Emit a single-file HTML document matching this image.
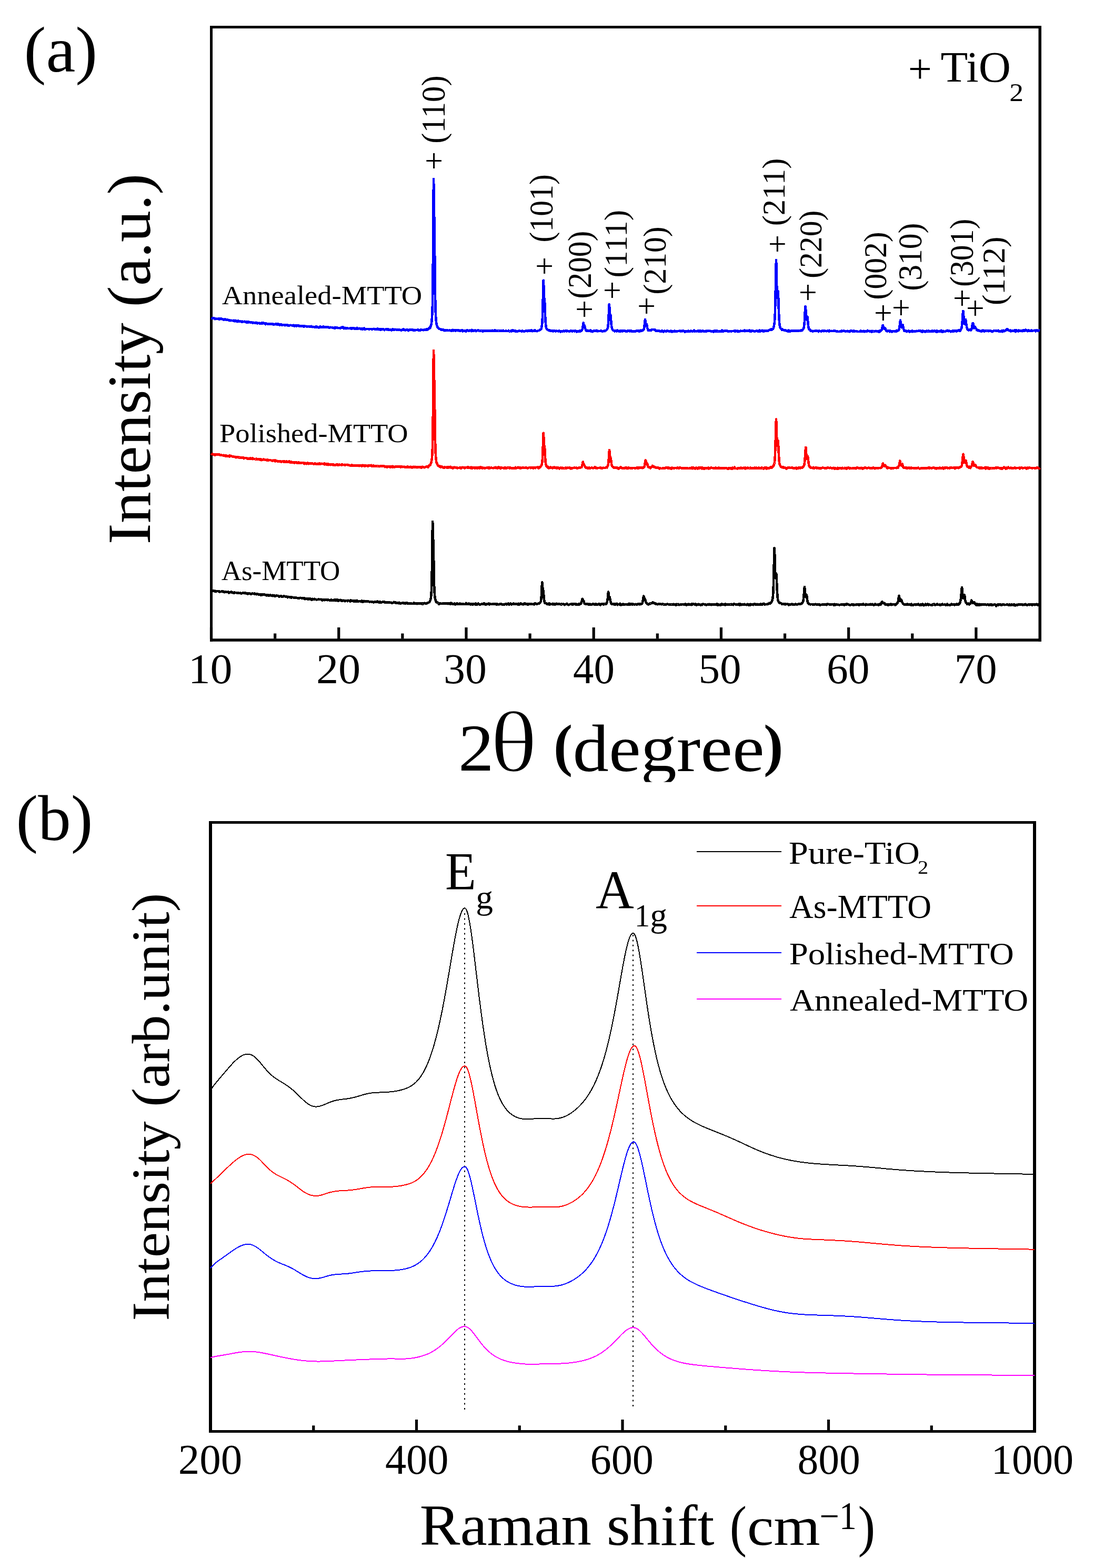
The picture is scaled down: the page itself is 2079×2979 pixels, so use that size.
<!DOCTYPE html>
<html><head><meta charset="utf-8"><title>XRD and Raman spectra</title>
<style>html,body{margin:0;padding:0;background:#fff;}svg{display:block;}text{font-family:"Liberation Serif", "DejaVu Serif", serif;}</style></head>
<body>
<svg width="2079" height="2979" viewBox="0 0 2079 2979">
<defs><clipPath id="clipA"><rect x="0" y="1300" width="2079" height="185.8"/></clipPath></defs>
<rect width="2079" height="2979" fill="#fff"/>
<rect x="399.00" y="49.00" width="5.00" height="1170.00" fill="#000"/>
<rect x="1973.50" y="49.00" width="5.50" height="1170.00" fill="#000"/>
<rect x="399.00" y="49.00" width="1580.00" height="5.00" fill="#000"/>
<rect x="399.00" y="1213.30" width="1580.00" height="5.50" fill="#000"/>
<rect x="398.90" y="1192.00" width="5.20" height="22.00" fill="#000"/>
<rect x="520.02" y="1203.50" width="5.20" height="10.00" fill="#000"/>
<rect x="641.13" y="1192.00" width="5.20" height="22.00" fill="#000"/>
<rect x="762.25" y="1203.50" width="5.20" height="10.00" fill="#000"/>
<rect x="883.36" y="1192.00" width="5.20" height="22.00" fill="#000"/>
<rect x="1004.48" y="1203.50" width="5.20" height="10.00" fill="#000"/>
<rect x="1125.59" y="1192.00" width="5.20" height="22.00" fill="#000"/>
<rect x="1246.71" y="1203.50" width="5.20" height="10.00" fill="#000"/>
<rect x="1367.82" y="1192.00" width="5.20" height="22.00" fill="#000"/>
<rect x="1488.94" y="1203.50" width="5.20" height="10.00" fill="#000"/>
<rect x="1610.05" y="1192.00" width="5.20" height="22.00" fill="#000"/>
<rect x="1731.17" y="1203.50" width="5.20" height="10.00" fill="#000"/>
<rect x="1852.28" y="1192.00" width="5.20" height="22.00" fill="#000"/>
<text x="357.66" y="1297.60" font-size="79.85" textLength="83.89" lengthAdjust="spacingAndGlyphs" fill="#000">10</text>
<text x="600.90" y="1297.60" font-size="79.85" textLength="84.36" lengthAdjust="spacingAndGlyphs" fill="#000">20</text>
<text x="843.01" y="1297.60" font-size="79.85" textLength="81.86" lengthAdjust="spacingAndGlyphs" fill="#000">30</text>
<text x="1088.92" y="1297.60" font-size="79.85" textLength="78.94" lengthAdjust="spacingAndGlyphs" fill="#000">40</text>
<text x="1327.54" y="1297.60" font-size="79.85" textLength="81.10" lengthAdjust="spacingAndGlyphs" fill="#000">50</text>
<text x="1570.94" y="1297.60" font-size="79.85" textLength="81.41" lengthAdjust="spacingAndGlyphs" fill="#000">60</text>
<text x="1813.86" y="1297.60" font-size="79.85" textLength="80.67" lengthAdjust="spacingAndGlyphs" fill="#000">70</text>
<text x="45.54" y="135.50" font-size="123.74" textLength="139.59" lengthAdjust="spacingAndGlyphs" fill="#000">(a)</text>
<text x="1725.70" y="156.93" font-size="78.28" textLength="45.12" lengthAdjust="spacingAndGlyphs" fill="#000">+</text>
<text x="1787.52" y="155.20" font-size="82.14" textLength="133.44" lengthAdjust="spacingAndGlyphs" fill="#000">TiO</text>
<text x="1918.19" y="192.30" font-size="48.75" textLength="26.75" lengthAdjust="spacingAndGlyphs" fill="#000">2</text>
<g clip-path="url(#clipA)">
<text x="871.12" y="1464.30" font-size="126.19" textLength="67.50" lengthAdjust="spacingAndGlyphs" fill="#000">2</text>
<text x="931.52" y="1465.36" font-size="163.66" textLength="89.54" lengthAdjust="spacingAndGlyphs" fill="#000" stroke="#fff" stroke-width="2.6">θ</text>
<text x="1052.11" y="1452.81" font-size="110.52" textLength="36.17" lengthAdjust="spacingAndGlyphs" fill="#000" font-weight="bold">(</text>
<text x="1088.62" y="1465.00" font-size="126.62" textLength="364.01" lengthAdjust="spacingAndGlyphs" fill="#000">degree</text>
<text x="1451.14" y="1453.12" font-size="110.96" textLength="37.50" lengthAdjust="spacingAndGlyphs" fill="#000" font-weight="bold">)</text>
</g>
<text transform="translate(285.00 0) rotate(-90)" x="-1034.21" y="0" font-size="116.03" textLength="704.46" lengthAdjust="spacingAndGlyphs" fill="#000">Intensity (a.u.)</text>
<text x="421.76" y="578.20" font-size="50.50" textLength="380.34" lengthAdjust="spacingAndGlyphs" fill="#000">Annealed-MTTO</text>
<text x="417.07" y="839.90" font-size="50.22" textLength="358.57" lengthAdjust="spacingAndGlyphs" fill="#000">Polished-MTTO</text>
<text x="420.67" y="1102.40" font-size="52.68" textLength="225.75" lengthAdjust="spacingAndGlyphs" fill="#000">As-MTTO</text>
<text transform="translate(845.26 0) rotate(-90)" x="-272.74" y="0" font-size="63.70" textLength="129.40" lengthAdjust="spacingAndGlyphs" fill="#000">(110)</text>
<text transform="translate(1050.16 0) rotate(-90)" x="-460.39" y="0" font-size="63.70" textLength="129.28" lengthAdjust="spacingAndGlyphs" fill="#000">(101)</text>
<text transform="translate(1123.07 0) rotate(-90)" x="-567.48" y="0" font-size="62.96" textLength="128.87" lengthAdjust="spacingAndGlyphs" fill="#000">(200)</text>
<text transform="translate(1191.08 0) rotate(-90)" x="-527.57" y="0" font-size="61.93" textLength="128.95" lengthAdjust="spacingAndGlyphs" fill="#000">(111)</text>
<text transform="translate(1265.38 0) rotate(-90)" x="-559.38" y="0" font-size="61.93" textLength="128.87" lengthAdjust="spacingAndGlyphs" fill="#000">(210)</text>
<text transform="translate(1491.29 0) rotate(-90)" x="-429.32" y="0" font-size="61.48" textLength="128.78" lengthAdjust="spacingAndGlyphs" fill="#000">(211)</text>
<text transform="translate(1561.08 0) rotate(-90)" x="-528.78" y="0" font-size="61.63" textLength="129.07" lengthAdjust="spacingAndGlyphs" fill="#000">(220)</text>
<text transform="translate(1684.28 0) rotate(-90)" x="-569.38" y="0" font-size="61.93" textLength="128.87" lengthAdjust="spacingAndGlyphs" fill="#000">(002)</text>
<text transform="translate(1751.07 0) rotate(-90)" x="-552.48" y="0" font-size="62.81" textLength="128.87" lengthAdjust="spacingAndGlyphs" fill="#000">(310)</text>
<text transform="translate(1848.67 0) rotate(-90)" x="-544.99" y="0" font-size="62.96" textLength="129.49" lengthAdjust="spacingAndGlyphs" fill="#000">(301)</text>
<text transform="translate(1909.18 0) rotate(-90)" x="-580.06" y="0" font-size="61.93" textLength="130.34" lengthAdjust="spacingAndGlyphs" fill="#000">(112)</text>
<text x="807.23" y="326.35" font-size="61.50">+</text>
<text x="1017.23" y="526.15" font-size="61.50">+</text>
<text x="1093.23" y="608.35" font-size="61.50">+</text>
<text x="1146.03" y="572.45" font-size="61.50">+</text>
<text x="1211.23" y="602.45" font-size="61.50">+</text>
<text x="1459.93" y="484.45" font-size="61.50">+</text>
<text x="1517.93" y="576.45" font-size="61.50">+</text>
<text x="1661.03" y="615.25" font-size="61.50">+</text>
<text x="1695.03" y="604.65" font-size="61.50">+</text>
<text x="1811.03" y="587.45" font-size="61.50">+</text>
<text x="1836.03" y="606.45" font-size="61.50">+</text>
<path d="M401.5 604.5L402.0 604.6L402.5 604.8L403.0 604.7L403.5 604.6L404.0 604.5L404.5 604.3L405.0 604.5L405.5 604.7L406.0 604.6L406.5 604.5L407.0 604.9L407.5 605.3L408.0 605.7L408.5 606.2L409.0 605.7L409.5 605.2L410.0 605.2L410.5 605.2L411.0 605.6L411.5 606.0L412.0 606.0L412.5 606.1L413.0 606.0L413.5 606.0L414.0 605.8L414.5 605.5L415.0 605.9L415.5 606.2L416.0 606.5L416.5 606.7L417.0 606.2L417.5 605.6L418.0 606.0L418.5 606.3L419.0 605.9L419.5 605.5L420.0 605.8L420.5 606.0L421.0 605.9L421.5 605.8L422.0 606.3L422.5 606.9L423.0 606.6L423.5 606.4L424.0 606.9L424.5 607.4L425.0 607.4L425.5 607.5L426.0 607.4L426.5 607.4L427.0 606.7L427.5 606.1L428.0 606.7L428.5 607.4L429.0 607.6L429.5 607.8L430.0 607.9L430.5 608.0L431.0 607.6L431.5 607.1L432.0 607.5L432.5 607.9L433.0 607.8L433.5 607.7L434.0 607.8L434.5 607.9L435.0 608.5L435.5 609.1L436.0 608.6L436.5 608.1L437.0 608.4L437.5 608.7L438.0 609.0L438.5 609.3L439.0 608.9L439.5 608.6L440.0 608.8L440.5 608.9L441.0 609.1L441.5 609.2L442.0 609.2L442.5 609.3L443.0 608.9L443.5 608.6L444.0 609.0L444.5 609.5L445.0 609.9L445.5 610.4L446.0 609.5L446.5 608.7L447.0 609.5L447.5 610.3L448.0 610.1L448.5 609.9L449.0 609.7L449.5 609.6L450.0 610.4L450.5 611.2L451.0 610.9L451.5 610.6L452.0 610.1L452.5 609.5L453.0 610.0L453.5 610.4L454.0 610.6L454.5 610.8L455.0 610.6L455.5 610.4L456.0 610.7L456.5 611.1L457.0 610.9L457.5 610.7L458.0 611.0L458.5 611.2L459.0 611.5L459.5 611.8L460.0 611.2L460.5 610.6L461.0 610.9L461.5 611.3L462.0 611.1L462.5 610.9L463.0 611.2L463.5 611.4L464.0 611.1L464.5 610.7L465.0 610.9L465.5 611.2L466.0 611.3L466.5 611.5L467.0 611.9L467.5 612.2L468.0 612.4L468.5 612.5L469.0 611.8L469.5 611.1L470.0 611.3L470.5 611.5L471.0 612.0L471.5 612.5L472.0 611.7L472.5 611.0L473.0 611.5L473.5 612.0L474.0 612.1L474.5 612.3L475.0 612.7L475.5 613.2L476.0 613.1L476.5 612.9L477.0 612.7L477.5 612.4L478.0 612.5L478.5 612.5L479.0 612.6L479.5 612.6L480.0 613.2L480.5 613.8L481.0 613.3L481.5 612.7L482.0 612.8L482.5 612.9L483.0 613.1L483.5 613.4L484.0 613.3L484.5 613.2L485.0 613.2L485.5 613.2L486.0 613.0L486.5 612.7L487.0 613.1L487.5 613.5L488.0 613.4L488.5 613.3L489.0 613.8L489.5 614.4L490.0 614.2L490.5 614.1L491.0 614.0L491.5 613.8L492.0 614.1L492.5 614.3L493.0 614.0L493.5 613.8L494.0 614.2L494.5 614.7L495.0 614.4L495.5 614.1L496.0 614.4L496.5 614.6L497.0 614.1L497.5 613.5L498.0 614.1L498.5 614.6L499.0 614.0L499.5 613.4L500.0 613.4L500.5 613.3L501.0 613.9L501.5 614.4L502.0 614.3L502.5 614.1L503.0 614.5L503.5 614.9L504.0 615.5L504.5 616.2L505.0 615.3L505.5 614.4L506.0 614.5L506.5 614.6L507.0 614.9L507.5 615.2L508.0 615.3L508.5 615.4L509.0 615.3L509.5 615.1L510.0 615.1L510.5 615.2L511.0 615.5L511.5 615.8L512.0 615.8L512.5 615.8L513.0 615.3L513.5 614.9L514.0 615.2L514.5 615.5L515.0 615.6L515.5 615.7L516.0 615.4L516.5 615.1L517.0 615.5L517.5 616.0L518.0 615.7L518.5 615.4L519.0 616.0L519.5 616.5L520.0 616.3L520.5 616.1L521.0 616.2L521.5 616.2L522.0 616.0L522.5 615.8L523.0 616.0L523.5 616.2L524.0 615.7L524.5 615.1L525.0 615.4L525.5 615.7L526.0 616.2L526.5 616.7L527.0 616.0L527.5 615.3L528.0 616.2L528.5 617.1L529.0 616.4L529.5 615.6L530.0 616.4L530.5 617.2L531.0 616.8L531.5 616.3L532.0 616.8L532.5 617.4L533.0 617.2L533.5 617.0L534.0 616.6L534.5 616.1L535.0 617.0L535.5 617.9L536.0 617.9L536.5 618.0L537.0 617.6L537.5 617.2L538.0 617.2L538.5 617.1L539.0 617.2L539.5 617.3L540.0 617.1L540.5 616.9L541.0 617.5L541.5 618.2L542.0 617.7L542.5 617.3L543.0 617.4L543.5 617.6L544.0 617.4L544.5 617.2L545.0 617.3L545.5 617.4L546.0 617.2L546.5 617.1L547.0 617.9L547.5 618.7L548.0 618.3L548.5 617.9L549.0 618.3L549.5 618.6L550.0 618.4L550.5 618.1L551.0 617.9L551.5 617.8L552.0 617.9L552.5 618.1L553.0 618.0L553.5 618.0L554.0 618.2L554.5 618.4L555.0 618.3L555.5 618.2L556.0 618.3L556.5 618.3L557.0 618.0L557.5 617.7L558.0 617.9L558.5 618.2L559.0 618.9L559.5 619.7L560.0 619.0L560.5 618.4L561.0 618.3L561.5 618.2L562.0 618.6L562.5 619.1L563.0 619.4L563.5 619.8L564.0 619.0L564.5 618.1L565.0 618.5L565.5 618.9L566.0 618.9L566.5 618.8L567.0 618.4L567.5 618.1L568.0 618.9L568.5 619.7L569.0 619.5L569.5 619.3L570.0 619.4L570.5 619.4L571.0 619.2L571.5 619.0L572.0 619.4L572.5 619.8L573.0 619.5L573.5 619.2L574.0 619.4L574.5 619.5L575.0 619.3L575.5 619.0L576.0 619.0L576.5 619.0L577.0 619.8L577.5 620.6L578.0 620.1L578.5 619.5L579.0 619.8L579.5 620.1L580.0 620.0L580.5 619.9L581.0 619.8L581.5 619.7L582.0 619.8L582.5 619.8L583.0 620.1L583.5 620.5L584.0 620.3L584.5 620.0L585.0 620.1L585.5 620.1L586.0 620.2L586.5 620.3L587.0 620.7L587.5 621.1L588.0 620.9L588.5 620.8L589.0 620.7L589.5 620.7L590.0 620.4L590.5 620.2L591.0 619.9L591.5 619.7L592.0 620.5L592.5 621.2L593.0 621.2L593.5 621.2L594.0 620.9L594.5 620.6L595.0 620.9L595.5 621.1L596.0 621.2L596.5 621.3L597.0 621.3L597.5 621.4L598.0 621.4L598.5 621.5L599.0 621.1L599.5 620.7L600.0 621.3L600.5 621.9L601.0 621.1L601.5 620.3L602.0 621.0L602.5 621.6L603.0 621.5L603.5 621.5L604.0 621.6L604.5 621.7L605.0 622.1L605.5 622.4L606.0 622.3L606.5 622.2L607.0 621.4L607.5 620.7L608.0 620.5L608.5 620.4L609.0 621.2L609.5 621.9L610.0 621.4L610.5 620.9L611.0 621.2L611.5 621.5L612.0 621.8L612.5 622.1L613.0 621.4L613.5 620.7L614.0 620.5L614.5 620.4L615.0 621.2L615.5 621.9L616.0 621.8L616.5 621.8L617.0 621.7L617.5 621.7L618.0 621.8L618.5 621.9L619.0 621.7L619.5 621.4L620.0 621.2L620.5 621.1L621.0 621.5L621.5 621.9L622.0 621.7L622.5 621.5L623.0 621.3L623.5 621.1L624.0 621.8L624.5 622.4L625.0 622.3L625.5 622.2L626.0 622.3L626.5 622.5L627.0 622.1L627.5 621.7L628.0 621.8L628.5 621.9L629.0 621.8L629.5 621.8L630.0 621.8L630.5 621.9L631.0 622.2L631.5 622.6L632.0 622.3L632.5 622.0L633.0 622.4L633.5 622.8L634.0 622.8L634.5 622.8L635.0 623.3L635.5 623.8L636.0 622.8L636.5 621.8L637.0 622.5L637.5 623.2L638.0 623.0L638.5 622.7L639.0 622.7L639.5 622.8L640.0 622.4L640.5 622.0L641.0 622.3L641.5 622.6L642.0 623.0L642.5 623.4L643.0 623.1L643.5 622.9L644.0 623.0L644.5 623.0L645.0 623.0L645.5 622.9L646.0 623.3L646.5 623.8L647.0 623.4L647.5 623.1L648.0 622.5L648.5 621.8L649.0 622.3L649.5 622.8L650.0 622.4L650.5 622.1L651.0 621.7L651.5 621.3L652.0 622.2L652.5 623.0L653.0 623.6L653.5 624.2L654.0 623.8L654.5 623.4L655.0 623.1L655.5 622.7L656.0 622.8L656.5 622.9L657.0 623.6L657.5 624.2L658.0 623.9L658.5 623.6L659.0 623.6L659.5 623.6L660.0 623.6L660.5 623.6L661.0 623.6L661.5 623.7L662.0 623.9L662.5 624.2L663.0 624.1L663.5 624.1L664.0 624.0L664.5 623.9L665.0 623.6L665.5 623.2L666.0 623.7L666.5 624.2L667.0 623.8L667.5 623.5L668.0 624.0L668.5 624.6L669.0 623.9L669.5 623.2L670.0 623.6L670.5 623.9L671.0 624.0L671.5 624.0L672.0 623.7L672.5 623.3L673.0 624.2L673.5 625.1L674.0 625.1L674.5 625.0L675.0 624.5L675.5 623.9L676.0 624.3L676.5 624.7L677.0 624.6L677.5 624.5L678.0 623.6L678.5 622.7L679.0 623.6L679.5 624.5L680.0 624.4L680.5 624.3L681.0 624.4L681.5 624.4L682.0 624.1L682.5 623.8L683.0 624.0L683.5 624.3L684.0 624.3L684.5 624.4L685.0 624.8L685.5 625.2L686.0 625.0L686.5 624.8L687.0 624.7L687.5 624.6L688.0 625.1L688.5 625.5L689.0 624.9L689.5 624.3L690.0 624.4L690.5 624.4L691.0 624.0L691.5 623.6L692.0 624.7L692.5 625.7L693.0 625.5L693.5 625.4L694.0 625.4L694.5 625.4L695.0 625.3L695.5 625.2L696.0 625.1L696.5 624.9L697.0 625.0L697.5 625.0L698.0 624.9L698.5 624.8L699.0 624.8L699.5 624.8L700.0 624.9L700.5 625.0L701.0 625.5L701.5 625.9L702.0 625.7L702.5 625.4L703.0 625.2L703.5 625.0L704.0 624.9L704.5 624.8L705.0 624.8L705.5 624.8L706.0 625.5L706.5 626.1L707.0 625.8L707.5 625.5L708.0 625.4L708.5 625.3L709.0 625.2L709.5 625.1L710.0 624.8L710.5 624.6L711.0 625.0L711.5 625.3L712.0 625.6L712.5 625.9L713.0 625.5L713.5 625.2L714.0 625.2L714.5 625.3L715.0 625.3L715.5 625.3L716.0 625.4L716.5 625.5L717.0 625.0L717.5 624.5L718.0 625.0L718.5 625.4L719.0 625.2L719.5 625.1L720.0 625.6L720.5 626.1L721.0 625.6L721.5 625.2L722.0 625.6L722.5 626.0L723.0 626.3L723.5 626.6L724.0 626.1L724.5 625.5L725.0 625.4L725.5 625.4L726.0 625.6L726.5 625.9L727.0 625.8L727.5 625.8L728.0 625.5L728.5 625.2L729.0 625.7L729.5 626.1L730.0 626.6L730.5 627.1L731.0 626.4L731.5 625.8L732.0 625.8L732.5 625.8L733.0 625.6L733.5 625.3L734.0 625.8L734.5 626.2L735.0 625.7L735.5 625.3L736.0 625.3L736.5 625.4L737.0 626.1L737.5 626.8L738.0 626.2L738.5 625.6L739.0 626.2L739.5 626.8L740.0 626.9L740.5 627.1L741.0 626.7L741.5 626.3L742.0 626.4L742.5 626.5L743.0 627.0L743.5 627.4L744.0 626.8L744.5 626.1L745.0 626.0L745.5 625.9L746.0 625.7L746.5 625.5L747.0 625.9L747.5 626.4L748.0 626.8L748.5 627.2L749.0 627.1L749.5 627.0L750.0 626.4L750.5 625.8L751.0 625.9L751.5 625.9L752.0 626.0L752.5 626.2L753.0 626.4L753.5 626.7L754.0 626.5L754.5 626.4L755.0 626.5L755.5 626.7L756.0 626.7L756.5 626.7L757.0 626.6L757.5 626.4L758.0 626.5L758.5 626.6L759.0 626.7L759.5 626.7L760.0 626.7L760.5 626.6L761.0 626.8L761.5 627.0L762.0 627.4L762.5 627.8L763.0 627.4L763.5 627.1L764.0 626.9L764.5 626.8L765.0 626.3L765.5 625.7L766.0 626.4L766.5 627.0L767.0 626.3L767.5 625.6L768.0 625.8L768.5 626.0L769.0 626.7L769.5 627.3L770.0 627.3L770.5 627.3L771.0 627.0L771.5 626.8L772.0 626.3L772.5 625.9L773.0 626.3L773.5 626.7L774.0 626.6L774.5 626.5L775.0 626.9L775.5 627.3L776.0 627.8L776.5 628.3L777.0 627.7L777.5 627.1L778.0 626.8L778.5 626.5L779.0 626.4L779.5 626.3L780.0 626.6L780.5 627.0L781.0 626.9L781.5 626.9L782.0 626.6L782.5 626.3L783.0 626.7L783.5 627.1L784.0 626.7L784.5 626.4L785.0 627.0L785.5 627.7L786.0 627.7L786.5 627.7L787.0 627.7L787.5 627.7L788.0 627.3L788.5 626.8L789.0 627.1L789.5 627.4L790.0 627.2L790.5 627.0L791.0 626.9L791.5 626.9L792.0 626.9L792.5 626.9L793.0 626.6L793.5 626.3L794.0 626.3L794.5 626.2L795.0 626.9L795.5 627.6L796.0 627.3L796.5 627.0L797.0 627.1L797.5 627.2L798.0 627.4L798.5 627.6L799.0 626.8L799.5 626.0L800.0 626.2L800.5 626.5L801.0 626.8L801.5 627.1L802.0 627.1L802.5 627.2L803.0 626.9L803.5 626.6L804.0 627.0L804.5 627.4L805.0 627.2L805.5 626.9L806.0 626.4L806.5 625.9L807.0 626.0L807.5 626.0L808.0 626.5L808.5 626.9L809.0 626.8L809.5 626.6L810.0 625.8L810.5 625.0L811.0 625.9L811.5 626.7L812.0 626.4L812.5 626.0L813.0 626.0L813.5 626.0L814.0 625.3L814.5 624.5L815.0 624.2L815.5 623.9L816.0 623.2L816.5 622.4L817.0 622.9L817.5 623.2L818.0 621.5L818.5 619.5L819.0 618.4L819.5 616.9L820.0 613.5L820.5 609.0L821.0 603.5L821.5 594.1L822.0 575.6L822.5 540.2L823.0 479.7L823.5 396.8L824.0 340.3L824.5 361.7L825.0 402.1L825.5 425.1L826.0 463.1L826.5 517.2L827.0 559.5L827.5 585.3L828.0 599.1L828.5 606.6L829.0 611.5L829.5 614.9L830.0 617.2L830.5 618.9L831.0 620.4L831.5 621.6L832.0 622.3L832.5 622.8L833.0 623.3L833.5 623.7L834.0 624.2L834.5 624.7L835.0 624.8L835.5 624.8L836.0 625.0L836.5 625.1L837.0 625.6L837.5 626.2L838.0 626.6L838.5 627.0L839.0 626.4L839.5 625.7L840.0 626.3L840.5 626.8L841.0 626.7L841.5 626.6L842.0 626.6L842.5 626.5L843.0 627.1L843.5 627.7L844.0 627.4L844.5 627.0L845.0 627.6L845.5 628.3L846.0 627.6L846.5 627.0L847.0 627.4L847.5 627.7L848.0 627.6L848.5 627.4L849.0 627.3L849.5 627.2L850.0 627.6L850.5 628.0L851.0 627.8L851.5 627.6L852.0 627.9L852.5 628.1L853.0 627.9L853.5 627.8L854.0 627.5L854.5 627.2L855.0 627.5L855.5 627.8L856.0 627.8L856.5 627.9L857.0 628.2L857.5 628.5L858.0 627.9L858.5 627.4L859.0 627.7L859.5 627.9L860.0 627.4L860.5 626.9L861.0 627.7L861.5 628.4L862.0 627.9L862.5 627.4L863.0 627.2L863.5 627.0L864.0 627.5L864.5 628.0L865.0 628.4L865.5 628.7L866.0 628.0L866.5 627.2L867.0 627.3L867.5 627.5L868.0 627.6L868.5 627.7L869.0 627.6L869.5 627.5L870.0 627.9L870.5 628.4L871.0 628.0L871.5 627.7L872.0 627.7L872.5 627.7L873.0 628.1L873.5 628.5L874.0 628.1L874.5 627.7L875.0 628.1L875.5 628.5L876.0 628.1L876.5 627.6L877.0 627.6L877.5 627.5L878.0 627.3L878.5 627.1L879.0 628.3L879.5 629.4L880.0 628.7L880.5 628.1L881.0 628.3L881.5 628.4L882.0 628.4L882.5 628.3L883.0 628.3L883.5 628.4L884.0 628.4L884.5 628.3L885.0 628.9L885.5 629.5L886.0 628.6L886.5 627.7L887.0 627.6L887.5 627.4L888.0 627.6L888.5 627.7L889.0 627.6L889.5 627.6L890.0 628.2L890.5 628.8L891.0 628.8L891.5 628.9L892.0 628.3L892.5 627.8L893.0 627.7L893.5 627.6L894.0 627.9L894.5 628.2L895.0 628.7L895.5 629.2L896.0 628.0L896.5 626.7L897.0 627.7L897.5 628.7L898.0 628.3L898.5 627.8L899.0 628.4L899.5 629.1L900.0 628.4L900.5 627.8L901.0 628.0L901.5 628.3L902.0 627.9L902.5 627.6L903.0 627.7L903.5 627.9L904.0 628.6L904.5 629.3L905.0 629.1L905.5 629.0L906.0 628.6L906.5 628.2L907.0 628.1L907.5 628.0L908.0 627.7L908.5 627.4L909.0 627.8L909.5 628.3L910.0 628.4L910.5 628.5L911.0 628.5L911.5 628.5L912.0 628.5L912.5 628.5L913.0 628.2L913.5 627.9L914.0 628.2L914.5 628.5L915.0 628.5L915.5 628.5L916.0 628.9L916.5 629.3L917.0 629.5L917.5 629.7L918.0 629.1L918.5 628.5L919.0 628.3L919.5 628.1L920.0 628.3L920.5 628.5L921.0 628.4L921.5 628.2L922.0 628.2L922.5 628.1L923.0 628.3L923.5 628.5L924.0 628.3L924.5 628.0L925.0 628.5L925.5 629.0L926.0 628.7L926.5 628.5L927.0 628.6L927.5 628.8L928.0 628.6L928.5 628.5L929.0 628.3L929.5 628.2L930.0 628.1L930.5 628.1L931.0 628.3L931.5 628.5L932.0 628.4L932.5 628.3L933.0 628.5L933.5 628.8L934.0 628.7L934.5 628.6L935.0 628.2L935.5 627.8L936.0 628.3L936.5 628.7L937.0 628.3L937.5 627.9L938.0 628.1L938.5 628.3L939.0 628.4L939.5 628.5L940.0 628.0L940.5 627.4L941.0 628.1L941.5 628.7L942.0 628.8L942.5 628.8L943.0 628.7L943.5 628.6L944.0 628.5L944.5 628.4L945.0 628.5L945.5 628.5L946.0 628.3L946.5 628.1L947.0 628.3L947.5 628.5L948.0 628.5L948.5 628.4L949.0 628.6L949.5 628.8L950.0 628.4L950.5 628.0L951.0 628.4L951.5 628.9L952.0 628.8L952.5 628.8L953.0 628.7L953.5 628.7L954.0 628.6L954.5 628.5L955.0 628.8L955.5 629.1L956.0 628.4L956.5 627.8L957.0 628.4L957.5 629.0L958.0 629.0L958.5 628.9L959.0 628.9L959.5 628.9L960.0 629.0L960.5 629.0L961.0 628.7L961.5 628.4L962.0 628.5L962.5 628.6L963.0 628.9L963.5 629.2L964.0 629.1L964.5 629.0L965.0 629.0L965.5 628.9L966.0 628.4L966.5 627.9L967.0 628.5L967.5 629.1L968.0 629.3L968.5 629.5L969.0 629.5L969.5 629.4L970.0 629.2L970.5 629.0L971.0 628.4L971.5 627.9L972.0 628.6L972.5 629.4L973.0 629.1L973.5 628.7L974.0 628.0L974.5 627.3L975.0 628.2L975.5 629.1L976.0 628.5L976.5 627.9L977.0 628.0L977.5 628.1L978.0 628.3L978.5 628.5L979.0 629.0L979.5 629.6L980.0 629.1L980.5 628.6L981.0 628.8L981.5 629.0L982.0 629.5L982.5 629.9L983.0 629.9L983.5 629.8L984.0 629.3L984.5 628.8L985.0 628.8L985.5 628.7L986.0 628.4L986.5 628.1L987.0 628.3L987.5 628.4L988.0 628.8L988.5 629.1L989.0 629.1L989.5 629.1L990.0 629.0L990.5 628.9L991.0 629.2L991.5 629.5L992.0 628.9L992.5 628.4L993.0 628.6L993.5 628.8L994.0 629.1L994.5 629.3L995.0 629.3L995.5 629.2L996.0 629.4L996.5 629.5L997.0 629.3L997.5 629.1L998.0 628.9L998.5 628.7L999.0 628.9L999.5 629.1L1000.0 628.7L1000.5 628.3L1001.0 628.1L1001.5 627.9L1002.0 628.5L1002.5 629.2L1003.0 629.0L1003.5 628.8L1004.0 628.9L1004.5 629.0L1005.0 628.4L1005.5 627.8L1006.0 628.2L1006.5 628.6L1007.0 628.5L1007.5 628.5L1008.0 628.4L1008.5 628.3L1009.0 627.9L1009.5 627.4L1010.0 628.0L1010.5 628.6L1011.0 628.9L1011.5 629.3L1012.0 629.1L1012.5 629.0L1013.0 628.7L1013.5 628.3L1014.0 628.5L1014.5 628.7L1015.0 628.9L1015.5 629.1L1016.0 628.0L1016.5 626.9L1017.0 627.7L1017.5 628.5L1018.0 628.6L1018.5 628.8L1019.0 628.8L1019.5 628.8L1020.0 629.1L1020.5 629.3L1021.0 629.1L1021.5 628.9L1022.0 628.5L1022.5 628.2L1023.0 628.1L1023.5 628.0L1024.0 628.0L1024.5 628.0L1025.0 627.4L1025.5 626.7L1026.0 626.6L1026.5 626.4L1027.0 626.3L1027.5 626.0L1028.0 625.6L1028.5 625.0L1029.0 623.0L1029.5 620.5L1030.0 617.4L1030.5 611.8L1031.0 601.4L1031.5 583.8L1032.0 559.0L1032.5 536.6L1032.7 532.6L1033.0 535.1L1033.5 552.2L1034.0 565.3L1034.5 567.6L1035.0 569.7L1035.5 582.0L1036.0 597.2L1036.5 608.7L1037.0 615.8L1037.5 620.2L1038.0 622.8L1038.5 624.3L1039.0 625.4L1039.5 625.4L1040.0 625.2L1040.5 625.8L1041.0 626.3L1041.5 627.0L1042.0 627.6L1042.5 627.5L1043.0 627.3L1043.5 627.2L1044.0 627.1L1044.5 627.9L1045.0 628.8L1045.5 628.7L1046.0 628.6L1046.5 628.7L1047.0 628.7L1047.5 628.5L1048.0 628.2L1048.5 628.7L1049.0 629.2L1049.5 628.9L1050.0 628.5L1050.5 629.0L1051.0 629.4L1051.5 628.8L1052.0 628.2L1052.5 628.3L1053.0 628.3L1053.5 628.6L1054.0 629.0L1054.5 628.7L1055.0 628.4L1055.5 628.9L1056.0 629.3L1056.5 629.2L1057.0 629.1L1057.5 628.7L1058.0 628.4L1058.5 628.7L1059.0 629.0L1059.5 628.9L1060.0 628.8L1060.5 629.1L1061.0 629.5L1061.5 629.1L1062.0 628.6L1062.5 628.7L1063.0 628.7L1063.5 629.2L1064.0 629.7L1064.5 630.0L1065.0 630.4L1065.5 630.3L1066.0 630.2L1066.5 629.6L1067.0 629.1L1067.5 629.1L1068.0 629.2L1068.5 629.6L1069.0 630.0L1069.5 629.5L1070.0 629.0L1070.5 628.7L1071.0 628.5L1071.5 628.8L1072.0 629.1L1072.5 629.2L1073.0 629.3L1073.5 629.0L1074.0 628.6L1074.5 628.3L1075.0 628.1L1075.5 628.2L1076.0 628.2L1076.5 628.8L1077.0 629.5L1077.5 629.1L1078.0 628.6L1078.5 628.8L1079.0 629.0L1079.5 629.1L1080.0 629.2L1080.5 629.3L1081.0 629.5L1081.5 629.2L1082.0 628.9L1082.5 629.1L1083.0 629.4L1083.5 629.0L1084.0 628.6L1084.5 628.7L1085.0 628.9L1085.5 628.7L1086.0 628.5L1086.5 629.1L1087.0 629.8L1087.5 629.4L1088.0 629.1L1088.5 628.9L1089.0 628.6L1089.5 628.8L1090.0 628.9L1090.5 628.9L1091.0 628.9L1091.5 629.2L1092.0 629.5L1092.5 628.8L1093.0 628.1L1093.5 628.3L1094.0 628.4L1094.5 628.6L1095.0 628.8L1095.5 629.7L1096.0 630.5L1096.5 630.1L1097.0 629.6L1097.5 629.2L1098.0 628.9L1098.5 629.1L1099.0 629.4L1099.5 629.7L1100.0 630.1L1100.5 629.4L1101.0 628.7L1101.5 628.6L1102.0 628.5L1102.5 628.9L1103.0 629.3L1103.5 629.0L1104.0 628.7L1104.5 628.5L1105.0 628.3L1105.5 627.6L1106.0 626.6L1106.5 626.3L1107.0 625.0L1107.5 621.7L1108.0 617.5L1108.5 614.0L1108.6 613.5L1109.0 614.5L1109.5 617.5L1110.0 618.7L1110.5 618.2L1111.0 619.0L1111.5 621.3L1112.0 623.4L1112.5 625.2L1113.0 626.7L1113.5 627.7L1114.0 628.2L1114.5 628.6L1115.0 628.5L1115.5 628.3L1116.0 628.0L1116.5 627.7L1117.0 628.3L1117.5 629.0L1118.0 628.7L1118.5 628.4L1119.0 628.6L1119.5 628.7L1120.0 628.6L1120.5 628.6L1121.0 628.7L1121.5 628.8L1122.0 628.2L1122.5 627.6L1123.0 628.7L1123.5 629.7L1124.0 629.4L1124.5 629.2L1125.0 629.4L1125.5 629.7L1126.0 630.0L1126.5 630.2L1127.0 629.6L1127.5 629.0L1128.0 628.5L1128.5 628.0L1129.0 628.2L1129.5 628.5L1130.0 628.4L1130.5 628.3L1131.0 628.5L1131.5 628.7L1132.0 628.9L1132.5 629.1L1133.0 628.4L1133.5 627.8L1134.0 628.5L1134.5 629.2L1135.0 628.7L1135.5 628.1L1136.0 628.6L1136.5 629.2L1137.0 629.0L1137.5 628.9L1138.0 628.8L1138.5 628.8L1139.0 628.8L1139.5 628.9L1140.0 628.8L1140.5 628.6L1141.0 628.6L1141.5 628.5L1142.0 628.2L1142.5 627.9L1143.0 628.3L1143.5 628.8L1144.0 629.4L1144.5 629.9L1145.0 629.9L1145.5 629.9L1146.0 629.7L1146.5 629.4L1147.0 629.2L1147.5 629.0L1148.0 628.5L1148.5 628.0L1149.0 628.6L1149.5 629.1L1150.0 628.6L1150.5 628.0L1151.0 627.8L1151.5 627.6L1152.0 627.3L1152.5 627.0L1153.0 626.7L1153.5 626.3L1154.0 625.4L1154.5 624.2L1155.0 622.7L1155.5 619.9L1156.0 614.3L1156.5 605.2L1157.0 592.9L1157.5 580.7L1157.8 578.3L1158.0 579.7L1158.5 587.3L1159.0 595.3L1159.5 598.9L1160.0 598.2L1160.5 599.2L1161.0 605.4L1161.5 612.9L1162.0 618.7L1162.5 621.9L1163.0 623.5L1163.5 625.0L1164.0 626.1L1164.5 627.0L1165.0 627.7L1165.5 627.8L1166.0 627.9L1166.5 628.0L1167.0 628.1L1167.5 628.7L1168.0 629.2L1168.5 628.6L1169.0 628.0L1169.5 628.3L1170.0 628.6L1170.5 628.5L1171.0 628.3L1171.5 629.0L1172.0 629.6L1172.5 628.6L1173.0 627.6L1173.5 628.0L1174.0 628.4L1174.5 628.5L1175.0 628.6L1175.5 628.9L1176.0 629.3L1176.5 629.3L1177.0 629.3L1177.5 629.5L1178.0 629.8L1178.5 628.9L1179.0 628.0L1179.5 628.7L1180.0 629.4L1180.5 629.1L1181.0 628.8L1181.5 628.7L1182.0 628.6L1182.5 629.0L1183.0 629.3L1183.5 628.9L1184.0 628.5L1184.5 628.1L1185.0 627.8L1185.5 628.3L1186.0 628.8L1186.5 628.5L1187.0 628.1L1187.5 628.4L1188.0 628.7L1188.5 629.0L1189.0 629.3L1189.5 629.3L1190.0 629.2L1190.5 629.6L1191.0 630.0L1191.5 629.5L1192.0 628.9L1192.5 628.5L1193.0 628.1L1193.5 628.4L1194.0 628.6L1194.5 628.6L1195.0 628.5L1195.5 628.4L1196.0 628.3L1196.5 628.8L1197.0 629.3L1197.5 629.0L1198.0 628.7L1198.5 628.3L1199.0 627.9L1199.5 628.7L1200.0 629.5L1200.5 629.2L1201.0 629.0L1201.5 629.1L1202.0 629.3L1202.5 629.2L1203.0 629.1L1203.5 629.3L1204.0 629.4L1204.5 629.2L1205.0 629.1L1205.5 629.4L1206.0 629.8L1206.5 629.5L1207.0 629.3L1207.5 629.3L1208.0 629.2L1208.5 629.2L1209.0 629.2L1209.5 628.7L1210.0 628.1L1210.5 628.5L1211.0 628.9L1211.5 628.8L1212.0 628.8L1212.5 628.9L1213.0 629.0L1213.5 628.6L1214.0 628.1L1214.5 629.0L1215.0 629.8L1215.5 629.4L1216.0 628.9L1216.5 628.4L1217.0 628.0L1217.5 627.8L1218.0 627.6L1218.5 628.0L1219.0 628.4L1219.5 628.3L1220.0 628.3L1220.5 628.0L1221.0 627.6L1221.5 627.7L1222.0 627.6L1222.5 627.0L1223.0 626.2L1223.5 625.5L1224.0 624.0L1224.5 620.4L1225.0 615.2L1225.5 609.8L1226.0 606.9L1226.5 609.3L1227.0 613.9L1227.5 617.2L1228.0 618.2L1228.5 616.4L1229.0 615.9L1229.5 618.8L1230.0 622.0L1230.5 624.2L1231.0 625.5L1231.5 626.8L1232.0 627.8L1232.5 627.5L1233.0 627.1L1233.5 627.5L1234.0 627.8L1234.5 628.0L1235.0 628.1L1235.5 627.8L1236.0 627.5L1236.5 627.4L1237.0 627.3L1237.5 627.4L1238.0 627.3L1238.5 626.7L1239.0 626.0L1239.5 625.9L1240.0 625.9L1240.5 625.9L1241.0 626.1L1241.5 626.1L1242.0 626.2L1242.5 626.2L1243.0 626.2L1243.5 626.0L1244.0 625.8L1244.5 626.4L1245.0 627.1L1245.5 627.7L1246.0 628.3L1246.5 628.4L1247.0 628.5L1247.5 628.5L1248.0 628.4L1248.5 628.2L1249.0 628.1L1249.5 628.6L1250.0 629.1L1250.5 628.8L1251.0 628.4L1251.5 628.3L1252.0 628.1L1252.5 628.3L1253.0 628.4L1253.5 629.1L1254.0 629.8L1254.5 629.4L1255.0 629.1L1255.5 629.4L1256.0 629.7L1256.5 629.2L1257.0 628.7L1257.5 629.1L1258.0 629.5L1258.5 629.1L1259.0 628.6L1259.5 628.8L1260.0 628.9L1260.5 629.7L1261.0 630.5L1261.5 630.0L1262.0 629.5L1262.5 629.1L1263.0 628.7L1263.5 628.9L1264.0 629.0L1264.5 629.1L1265.0 629.2L1265.5 629.5L1266.0 629.8L1266.5 629.3L1267.0 628.8L1267.5 628.4L1268.0 628.0L1268.5 628.4L1269.0 628.9L1269.5 629.0L1270.0 629.1L1270.5 629.1L1271.0 629.1L1271.5 629.5L1272.0 629.8L1272.5 629.6L1273.0 629.3L1273.5 629.4L1274.0 629.6L1274.5 629.0L1275.0 628.4L1275.5 629.0L1276.0 629.6L1276.5 630.0L1277.0 630.3L1277.5 629.9L1278.0 629.5L1278.5 629.4L1279.0 629.2L1279.5 629.2L1280.0 629.2L1280.5 629.7L1281.0 630.1L1281.5 629.3L1282.0 628.5L1282.5 628.8L1283.0 629.0L1283.5 629.2L1284.0 629.3L1284.5 629.4L1285.0 629.5L1285.5 629.2L1286.0 628.8L1286.5 629.0L1287.0 629.3L1287.5 629.1L1288.0 628.9L1288.5 629.0L1289.0 629.1L1289.5 629.1L1290.0 629.0L1290.5 628.7L1291.0 628.4L1291.5 628.7L1292.0 629.1L1292.5 629.3L1293.0 629.6L1293.5 629.0L1294.0 628.5L1294.5 628.7L1295.0 628.9L1295.5 629.2L1296.0 629.5L1296.5 628.9L1297.0 628.4L1297.5 628.8L1298.0 629.2L1298.5 628.8L1299.0 628.4L1299.5 629.1L1300.0 629.7L1300.5 630.1L1301.0 630.5L1301.5 630.4L1302.0 630.3L1302.5 629.6L1303.0 628.9L1303.5 629.2L1304.0 629.5L1304.5 629.3L1305.0 629.1L1305.5 629.1L1306.0 629.1L1306.5 629.6L1307.0 630.0L1307.5 629.1L1308.0 628.3L1308.5 629.0L1309.0 629.7L1309.5 629.4L1310.0 629.0L1310.5 629.5L1311.0 629.9L1311.5 629.5L1312.0 629.2L1312.5 628.9L1313.0 628.7L1313.5 628.9L1314.0 629.2L1314.5 629.4L1315.0 629.5L1315.5 629.3L1316.0 629.1L1316.5 629.2L1317.0 629.4L1317.5 629.0L1318.0 628.7L1318.5 628.3L1319.0 627.8L1319.5 628.7L1320.0 629.6L1320.5 629.5L1321.0 629.5L1321.5 629.3L1322.0 629.1L1322.5 629.1L1323.0 629.1L1323.5 629.4L1324.0 629.7L1324.5 629.2L1325.0 628.8L1325.5 628.7L1326.0 628.6L1326.5 628.8L1327.0 628.9L1327.5 629.4L1328.0 629.8L1328.5 629.0L1329.0 628.2L1329.5 629.0L1330.0 629.8L1330.5 629.2L1331.0 628.7L1331.5 628.5L1332.0 628.4L1332.5 629.1L1333.0 629.8L1333.5 629.4L1334.0 629.0L1334.5 628.6L1335.0 628.3L1335.5 628.5L1336.0 628.8L1336.5 629.2L1337.0 629.6L1337.5 629.7L1338.0 629.8L1338.5 629.3L1339.0 628.8L1339.5 629.0L1340.0 629.3L1340.5 629.4L1341.0 629.5L1341.5 629.1L1342.0 628.7L1342.5 629.0L1343.0 629.3L1343.5 629.1L1344.0 629.0L1344.5 628.9L1345.0 628.7L1345.5 628.7L1346.0 628.7L1346.5 628.9L1347.0 629.1L1347.5 629.1L1348.0 629.1L1348.5 628.9L1349.0 628.7L1349.5 628.7L1350.0 628.8L1350.5 629.2L1351.0 629.7L1351.5 629.4L1352.0 629.2L1352.5 629.4L1353.0 629.6L1353.5 629.7L1354.0 629.8L1354.5 629.6L1355.0 629.4L1355.5 629.9L1356.0 630.4L1356.5 629.5L1357.0 628.5L1357.5 629.0L1358.0 629.5L1358.5 629.2L1359.0 628.8L1359.5 629.5L1360.0 630.1L1360.5 630.1L1361.0 630.0L1361.5 628.9L1362.0 627.9L1362.5 628.1L1363.0 628.4L1363.5 628.9L1364.0 629.4L1364.5 629.5L1365.0 629.5L1365.5 629.5L1366.0 629.5L1366.5 629.2L1367.0 629.0L1367.5 629.1L1368.0 629.3L1368.5 629.4L1369.0 629.4L1369.5 629.2L1370.0 629.0L1370.5 629.3L1371.0 629.6L1371.5 628.6L1372.0 627.7L1372.5 628.5L1373.0 629.4L1373.5 628.9L1374.0 628.4L1374.5 629.0L1375.0 629.6L1375.5 629.2L1376.0 628.9L1376.5 628.7L1377.0 628.5L1377.5 628.9L1378.0 629.2L1378.5 628.8L1379.0 628.5L1379.5 628.5L1380.0 628.5L1380.5 628.3L1381.0 628.1L1381.5 628.5L1382.0 629.0L1382.5 629.1L1383.0 629.3L1383.5 629.5L1384.0 629.6L1384.5 629.3L1385.0 628.9L1385.5 629.3L1386.0 629.6L1386.5 629.3L1387.0 629.0L1387.5 629.0L1388.0 628.9L1388.5 629.1L1389.0 629.3L1389.5 629.5L1390.0 629.6L1390.5 629.2L1391.0 628.8L1391.5 628.8L1392.0 628.8L1392.5 628.9L1393.0 628.9L1393.5 629.0L1394.0 629.0L1394.5 628.7L1395.0 628.4L1395.5 629.0L1396.0 629.6L1396.5 629.2L1397.0 628.7L1397.5 629.0L1398.0 629.3L1398.5 628.9L1399.0 628.5L1399.5 628.8L1400.0 629.2L1400.5 629.2L1401.0 629.2L1401.5 629.0L1402.0 628.7L1402.5 629.5L1403.0 630.2L1403.5 629.7L1404.0 629.2L1404.5 629.6L1405.0 630.0L1405.5 629.8L1406.0 629.5L1406.5 629.1L1407.0 628.6L1407.5 628.7L1408.0 628.7L1408.5 629.0L1409.0 629.2L1409.5 629.1L1410.0 629.0L1410.5 629.0L1411.0 629.0L1411.5 628.9L1412.0 628.8L1412.5 628.3L1413.0 627.9L1413.5 628.3L1414.0 628.8L1414.5 628.2L1415.0 627.6L1415.5 628.4L1416.0 629.2L1416.5 628.8L1417.0 628.5L1417.5 628.5L1418.0 628.5L1418.5 628.7L1419.0 628.8L1419.5 628.9L1420.0 629.1L1420.5 628.6L1421.0 628.1L1421.5 628.0L1422.0 627.9L1422.5 628.1L1423.0 628.3L1423.5 628.0L1424.0 627.7L1424.5 628.0L1425.0 628.3L1425.5 629.1L1426.0 629.9L1426.5 629.1L1427.0 628.3L1427.5 628.8L1428.0 629.3L1428.5 628.7L1429.0 628.1L1429.5 628.6L1430.0 629.1L1430.5 628.9L1431.0 628.7L1431.5 628.8L1432.0 628.8L1432.5 629.0L1433.0 629.2L1433.5 629.6L1434.0 629.9L1434.5 629.4L1435.0 629.0L1435.5 628.9L1436.0 628.9L1436.5 628.6L1437.0 628.3L1437.5 628.7L1438.0 629.2L1438.5 628.9L1439.0 628.7L1439.5 629.0L1440.0 629.3L1440.5 629.0L1441.0 628.8L1441.5 629.3L1442.0 629.8L1442.5 628.7L1443.0 627.6L1443.5 628.1L1444.0 628.6L1444.5 628.9L1445.0 629.3L1445.5 628.9L1446.0 628.5L1446.5 628.4L1447.0 628.2L1447.5 628.4L1448.0 628.5L1448.5 628.2L1449.0 627.8L1449.5 628.3L1450.0 628.7L1450.5 629.4L1451.0 630.1L1451.5 629.7L1452.0 629.3L1452.5 628.6L1453.0 627.9L1453.5 627.9L1454.0 628.0L1454.5 628.1L1455.0 628.2L1455.5 628.6L1456.0 629.0L1456.5 628.4L1457.0 627.8L1457.5 627.8L1458.0 627.8L1458.5 628.3L1459.0 628.7L1459.5 628.6L1460.0 628.6L1460.5 628.1L1461.0 627.7L1461.5 627.4L1462.0 627.1L1462.5 626.9L1463.0 626.6L1463.5 626.8L1464.0 626.9L1464.5 626.3L1465.0 625.6L1465.5 626.3L1466.0 627.0L1466.5 626.3L1467.0 625.6L1467.5 625.5L1468.0 625.4L1468.5 625.3L1469.0 625.0L1469.5 623.9L1470.0 622.6L1470.5 620.5L1471.0 617.8L1471.5 615.6L1472.0 611.7L1472.5 604.1L1473.0 591.3L1473.5 570.3L1474.0 541.1L1474.5 510.1L1475.0 494.1L1475.5 507.0L1476.0 534.1L1476.5 555.8L1477.0 565.9L1477.5 566.0L1478.0 558.9L1478.5 552.8L1479.0 559.5L1479.5 576.3L1480.0 592.4L1480.5 604.3L1481.0 612.1L1481.5 616.7L1482.0 619.5L1482.5 621.4L1483.0 622.8L1483.5 623.8L1484.0 624.6L1484.5 625.1L1485.0 625.4L1485.5 626.2L1486.0 626.9L1486.5 626.2L1487.0 625.5L1487.5 626.3L1488.0 627.1L1488.5 627.1L1489.0 627.0L1489.5 627.4L1490.0 627.7L1490.5 627.8L1491.0 627.9L1491.5 627.7L1492.0 627.4L1492.5 627.5L1493.0 627.7L1493.5 628.2L1494.0 628.6L1494.5 628.5L1495.0 628.4L1495.5 628.2L1496.0 627.9L1496.5 628.7L1497.0 629.6L1497.5 629.7L1498.0 629.8L1498.5 628.7L1499.0 627.6L1499.5 628.1L1500.0 628.7L1500.5 629.3L1501.0 630.0L1501.5 629.5L1502.0 629.0L1502.5 628.8L1503.0 628.7L1503.5 628.6L1504.0 628.4L1504.5 628.3L1505.0 628.3L1505.5 628.4L1506.0 628.5L1506.5 628.4L1507.0 628.3L1507.5 628.7L1508.0 629.0L1508.5 628.7L1509.0 628.4L1509.5 628.3L1510.0 628.3L1510.5 628.1L1511.0 627.9L1511.5 628.2L1512.0 628.6L1512.5 628.3L1513.0 628.0L1513.5 628.2L1514.0 628.4L1514.5 628.8L1515.0 629.1L1515.5 628.9L1516.0 628.7L1516.5 628.7L1517.0 628.8L1517.5 628.7L1518.0 628.6L1518.5 628.5L1519.0 628.4L1519.5 628.3L1520.0 628.1L1520.5 628.0L1521.0 627.9L1521.5 628.2L1522.0 628.4L1522.5 627.7L1523.0 627.0L1523.5 627.6L1524.0 628.1L1524.5 627.5L1525.0 626.8L1525.5 626.2L1526.0 625.5L1526.5 624.9L1527.0 624.0L1527.5 622.5L1528.0 619.9L1528.5 616.0L1529.0 609.5L1529.5 599.7L1530.0 588.6L1530.5 582.1L1530.6 582.3L1531.0 584.6L1531.5 593.0L1532.0 601.2L1532.5 605.9L1533.0 607.3L1533.5 605.6L1534.0 602.2L1534.5 601.8L1535.0 606.7L1535.5 613.2L1536.0 618.4L1536.5 622.2L1537.0 624.3L1537.5 625.5L1538.0 625.7L1538.5 625.7L1539.0 626.3L1539.5 626.8L1540.0 627.8L1540.5 628.7L1541.0 628.4L1541.5 628.1L1542.0 628.2L1542.5 628.2L1543.0 628.6L1543.5 628.9L1544.0 629.4L1544.5 629.9L1545.0 629.6L1545.5 629.3L1546.0 629.0L1546.5 628.7L1547.0 628.8L1547.5 628.9L1548.0 629.0L1548.5 629.1L1549.0 628.7L1549.5 628.4L1550.0 628.3L1550.5 628.1L1551.0 628.5L1551.5 628.8L1552.0 628.5L1552.5 628.3L1553.0 628.5L1553.5 628.8L1554.0 628.9L1554.5 628.9L1555.0 629.6L1555.5 630.3L1556.0 629.3L1556.5 628.4L1557.0 628.6L1557.5 628.8L1558.0 628.8L1558.5 628.8L1559.0 629.0L1559.5 629.2L1560.0 629.4L1560.5 629.6L1561.0 629.1L1561.5 628.7L1562.0 628.6L1562.5 628.5L1563.0 628.2L1563.5 628.0L1564.0 628.2L1564.5 628.4L1565.0 628.9L1565.5 629.3L1566.0 629.2L1566.5 629.0L1567.0 628.7L1567.5 628.4L1568.0 628.6L1568.5 628.8L1569.0 628.9L1569.5 629.1L1570.0 629.2L1570.5 629.4L1571.0 629.0L1571.5 628.7L1572.0 628.8L1572.5 628.9L1573.0 628.4L1573.5 628.0L1574.0 628.2L1574.5 628.4L1575.0 629.2L1575.5 630.1L1576.0 628.9L1576.5 627.8L1577.0 628.3L1577.5 628.9L1578.0 629.1L1578.5 629.2L1579.0 629.1L1579.5 628.9L1580.0 628.8L1580.5 628.6L1581.0 628.9L1581.5 629.1L1582.0 629.1L1582.5 629.1L1583.0 629.1L1583.5 629.1L1584.0 628.5L1584.5 628.0L1585.0 628.5L1585.5 629.0L1586.0 628.8L1586.5 628.6L1587.0 628.7L1587.5 628.8L1588.0 629.1L1588.5 629.3L1589.0 629.4L1589.5 629.5L1590.0 629.6L1590.5 629.7L1591.0 629.3L1591.5 628.9L1592.0 629.3L1592.5 629.7L1593.0 629.8L1593.5 629.9L1594.0 629.9L1594.5 629.9L1595.0 629.9L1595.5 630.0L1596.0 629.6L1596.5 629.1L1597.0 629.1L1597.5 629.1L1598.0 629.4L1598.5 629.7L1599.0 629.0L1599.5 628.4L1600.0 628.9L1600.5 629.3L1601.0 629.1L1601.5 628.9L1602.0 628.9L1602.5 629.0L1603.0 628.6L1603.5 628.2L1604.0 628.4L1604.5 628.7L1605.0 629.0L1605.5 629.2L1606.0 629.5L1606.5 629.8L1607.0 629.8L1607.5 629.8L1608.0 629.5L1608.5 629.2L1609.0 629.2L1609.5 629.1L1610.0 628.9L1610.5 628.7L1611.0 629.1L1611.5 629.5L1612.0 629.3L1612.5 629.1L1613.0 629.4L1613.5 629.6L1614.0 630.0L1614.5 630.3L1615.0 629.8L1615.5 629.2L1616.0 628.8L1616.5 628.4L1617.0 628.6L1617.5 628.8L1618.0 628.6L1618.5 628.4L1619.0 628.5L1619.5 628.6L1620.0 629.3L1620.5 630.1L1621.0 629.7L1621.5 629.4L1622.0 628.9L1622.5 628.4L1623.0 629.0L1623.5 629.7L1624.0 629.9L1624.5 630.1L1625.0 629.6L1625.5 629.1L1626.0 629.0L1626.5 628.9L1627.0 629.0L1627.5 629.1L1628.0 629.3L1628.5 629.5L1629.0 629.6L1629.5 629.7L1630.0 629.9L1630.5 630.0L1631.0 630.0L1631.5 630.1L1632.0 630.0L1632.5 630.0L1633.0 630.1L1633.5 630.1L1634.0 629.9L1634.5 629.7L1635.0 629.1L1635.5 628.4L1636.0 628.8L1636.5 629.3L1637.0 629.4L1637.5 629.5L1638.0 629.3L1638.5 629.1L1639.0 629.5L1639.5 629.9L1640.0 629.5L1640.5 629.1L1641.0 629.0L1641.5 628.8L1642.0 629.5L1642.5 630.2L1643.0 630.0L1643.5 629.8L1644.0 629.6L1644.5 629.5L1645.0 629.7L1645.5 629.9L1646.0 630.0L1646.5 630.0L1647.0 629.8L1647.5 629.6L1648.0 628.7L1648.5 627.9L1649.0 628.4L1649.5 629.0L1650.0 629.0L1650.5 629.1L1651.0 628.9L1651.5 628.8L1652.0 629.1L1652.5 629.5L1653.0 629.8L1653.5 630.1L1654.0 629.6L1654.5 629.1L1655.0 628.9L1655.5 628.7L1656.0 629.6L1656.5 630.6L1657.0 629.8L1657.5 629.1L1658.0 628.8L1658.5 628.6L1659.0 629.1L1659.5 629.5L1660.0 629.5L1660.5 629.6L1661.0 629.3L1661.5 628.9L1662.0 629.4L1662.5 629.8L1663.0 629.4L1663.5 629.0L1664.0 628.9L1664.5 628.8L1665.0 629.1L1665.5 629.4L1666.0 629.6L1666.5 629.7L1667.0 629.3L1667.5 628.9L1668.0 629.1L1668.5 629.4L1669.0 629.2L1669.5 629.1L1670.0 629.9L1670.5 630.8L1671.0 629.7L1671.5 628.5L1672.0 629.1L1672.5 629.6L1673.0 629.1L1673.5 628.5L1674.0 628.2L1674.5 627.8L1675.0 627.4L1675.5 626.7L1676.0 625.1L1676.5 623.0L1677.0 620.5L1677.5 618.6L1677.7 618.1L1678.0 618.2L1678.5 619.9L1679.0 622.0L1679.5 623.7L1680.0 624.5L1680.5 624.8L1681.0 624.4L1681.5 623.5L1682.0 623.3L1682.5 624.4L1683.0 626.0L1683.5 626.9L1684.0 627.6L1684.5 628.4L1685.0 629.0L1685.5 629.4L1686.0 629.7L1686.5 629.4L1687.0 629.0L1687.5 628.6L1688.0 628.2L1688.5 628.3L1689.0 628.4L1689.5 628.4L1690.0 628.3L1690.5 629.2L1691.0 630.2L1691.5 629.4L1692.0 628.7L1692.5 629.3L1693.0 630.0L1693.5 629.8L1694.0 629.6L1694.5 629.9L1695.0 630.3L1695.5 630.1L1696.0 629.8L1696.5 629.5L1697.0 629.2L1697.5 629.1L1698.0 629.1L1698.5 629.2L1699.0 629.2L1699.5 629.2L1700.0 629.3L1700.5 629.0L1701.0 628.8L1701.5 628.9L1702.0 629.0L1702.5 629.5L1703.0 629.9L1703.5 628.8L1704.0 627.8L1704.5 628.3L1705.0 628.8L1705.5 628.3L1706.0 627.8L1706.5 627.9L1707.0 627.9L1707.5 627.6L1708.0 627.1L1708.5 625.6L1709.0 623.5L1709.5 620.8L1710.0 617.1L1710.5 612.0L1711.0 608.6L1711.1 609.3L1711.5 611.3L1712.0 614.4L1712.5 617.7L1713.0 620.7L1713.5 622.2L1714.0 621.9L1714.5 620.6L1715.0 618.3L1715.5 616.9L1716.0 618.8L1716.5 621.6L1717.0 624.1L1717.5 626.0L1718.0 627.4L1718.5 628.5L1719.0 628.6L1719.5 628.5L1720.0 628.7L1720.5 628.8L1721.0 628.4L1721.5 628.0L1722.0 628.9L1722.5 629.8L1723.0 630.0L1723.5 630.2L1724.0 629.7L1724.5 629.2L1725.0 629.1L1725.5 629.1L1726.0 628.7L1726.5 628.3L1727.0 629.0L1727.5 629.8L1728.0 630.3L1728.5 630.9L1729.0 630.3L1729.5 629.7L1730.0 629.9L1730.5 630.1L1731.0 629.9L1731.5 629.7L1732.0 629.2L1732.5 628.7L1733.0 629.5L1733.5 630.2L1734.0 629.4L1734.5 628.6L1735.0 628.9L1735.5 629.2L1736.0 629.4L1736.5 629.5L1737.0 629.7L1737.5 629.9L1738.0 629.8L1738.5 629.6L1739.0 629.6L1739.5 629.6L1740.0 629.3L1740.5 628.9L1741.0 628.8L1741.5 628.6L1742.0 629.0L1742.5 629.4L1743.0 629.2L1743.5 629.0L1744.0 628.8L1744.5 628.6L1745.0 628.6L1745.5 628.6L1746.0 628.9L1746.5 629.1L1747.0 628.7L1747.5 628.3L1748.0 628.4L1748.5 628.6L1749.0 628.5L1749.5 628.4L1750.0 629.0L1750.5 629.5L1751.0 629.6L1751.5 629.6L1752.0 630.1L1752.5 630.6L1753.0 629.5L1753.5 628.5L1754.0 628.7L1754.5 629.0L1755.0 629.5L1755.5 629.9L1756.0 629.6L1756.5 629.2L1757.0 629.2L1757.5 629.2L1758.0 629.8L1758.5 630.4L1759.0 629.8L1759.5 629.2L1760.0 628.9L1760.5 628.7L1761.0 628.6L1761.5 628.6L1762.0 629.1L1762.5 629.6L1763.0 629.6L1763.5 629.5L1764.0 629.0L1764.5 628.5L1765.0 628.7L1765.5 628.8L1766.0 629.2L1766.5 629.7L1767.0 629.7L1767.5 629.7L1768.0 629.3L1768.5 629.0L1769.0 629.3L1769.5 629.7L1770.0 629.7L1770.5 629.7L1771.0 629.0L1771.5 628.3L1772.0 628.7L1772.5 629.1L1773.0 629.4L1773.5 629.6L1774.0 629.3L1774.5 629.0L1775.0 628.5L1775.5 628.0L1776.0 628.6L1776.5 629.1L1777.0 629.5L1777.5 629.8L1778.0 630.0L1778.5 630.3L1779.0 629.1L1779.5 628.0L1780.0 629.4L1780.5 630.9L1781.0 629.7L1781.5 628.6L1782.0 629.2L1782.5 629.9L1783.0 629.9L1783.5 630.0L1784.0 629.9L1784.5 629.9L1785.0 629.6L1785.5 629.4L1786.0 629.0L1786.5 628.6L1787.0 629.1L1787.5 629.6L1788.0 629.2L1788.5 628.8L1789.0 628.3L1789.5 627.7L1790.0 629.3L1790.5 630.9L1791.0 630.3L1791.5 629.7L1792.0 630.0L1792.5 630.3L1793.0 629.5L1793.5 628.7L1794.0 629.4L1794.5 630.1L1795.0 630.1L1795.5 630.2L1796.0 630.2L1796.5 630.1L1797.0 629.7L1797.5 629.2L1798.0 628.8L1798.5 628.5L1799.0 628.8L1799.5 629.1L1800.0 628.5L1800.5 627.8L1801.0 628.0L1801.5 628.1L1802.0 628.7L1802.5 629.2L1803.0 628.9L1803.5 628.5L1804.0 628.8L1804.5 629.0L1805.0 629.0L1805.5 629.0L1806.0 629.6L1806.5 630.2L1807.0 630.0L1807.5 629.9L1808.0 629.4L1808.5 629.0L1809.0 629.4L1809.5 629.8L1810.0 629.2L1810.5 628.5L1811.0 628.7L1811.5 628.8L1812.0 629.1L1812.5 629.5L1813.0 628.8L1813.5 628.2L1814.0 628.4L1814.5 628.7L1815.0 628.4L1815.5 628.0L1816.0 628.5L1816.5 628.9L1817.0 629.3L1817.5 629.7L1818.0 628.9L1818.5 628.2L1819.0 628.4L1819.5 628.7L1820.0 628.3L1820.5 627.9L1821.0 627.7L1821.5 627.6L1822.0 627.4L1822.5 627.3L1823.0 627.9L1823.5 628.6L1824.0 628.6L1824.5 628.7L1825.0 627.8L1825.5 626.8L1826.0 625.9L1826.5 624.7L1827.0 623.9L1827.5 622.3L1828.0 618.8L1828.5 613.6L1829.0 607.1L1829.5 599.3L1830.0 592.5L1830.3 590.9L1830.5 591.4L1831.0 596.7L1831.5 604.4L1832.0 610.8L1832.5 614.4L1833.0 615.6L1833.5 615.0L1834.0 612.6L1834.5 609.1L1835.0 607.0L1835.5 608.9L1836.0 613.2L1836.5 617.0L1837.0 620.1L1837.5 622.8L1838.0 624.7L1838.5 625.4L1839.0 625.8L1839.5 626.5L1840.0 627.1L1840.5 627.4L1841.0 627.6L1841.5 627.2L1842.0 626.6L1842.5 626.8L1843.0 627.0L1843.5 626.9L1844.0 626.7L1844.5 627.1L1845.0 627.3L1845.5 627.1L1846.0 626.5L1846.5 624.9L1847.0 622.6L1847.5 619.4L1848.0 615.9L1848.5 614.2L1848.7 614.4L1849.0 614.0L1849.5 615.6L1850.0 619.4L1850.5 622.7L1851.0 623.5L1851.5 623.3L1852.0 622.3L1852.5 620.7L1853.0 621.1L1853.5 622.1L1854.0 622.5L1854.5 623.8L1855.0 624.6L1855.5 625.1L1856.0 626.4L1856.5 627.4L1857.0 627.6L1857.5 627.7L1858.0 628.0L1858.5 628.2L1859.0 627.8L1859.5 627.4L1860.0 627.8L1860.5 628.0L1861.0 628.4L1861.5 628.8L1862.0 628.8L1862.5 628.7L1863.0 629.0L1863.5 629.3L1864.0 629.0L1864.5 628.7L1865.0 629.4L1865.5 630.1L1866.0 629.2L1866.5 628.3L1867.0 628.6L1867.5 628.9L1868.0 628.2L1868.5 627.6L1869.0 627.8L1869.5 628.0L1870.0 628.8L1870.5 629.5L1871.0 628.9L1871.5 628.2L1872.0 628.6L1872.5 629.1L1873.0 628.9L1873.5 628.7L1874.0 628.4L1874.5 628.1L1875.0 628.3L1875.5 628.5L1876.0 628.5L1876.5 628.4L1877.0 628.4L1877.5 628.5L1878.0 628.8L1878.5 629.2L1879.0 629.2L1879.5 629.1L1880.0 628.8L1880.5 628.4L1881.0 628.3L1881.5 628.2L1882.0 628.5L1882.5 628.9L1883.0 628.8L1883.5 628.7L1884.0 629.0L1884.5 629.3L1885.0 629.8L1885.5 630.3L1886.0 629.8L1886.5 629.2L1887.0 628.9L1887.5 628.7L1888.0 628.6L1888.5 628.6L1889.0 628.4L1889.5 628.2L1890.0 628.2L1890.5 628.1L1891.0 628.1L1891.5 628.1L1892.0 628.3L1892.5 628.4L1893.0 628.4L1893.5 628.4L1894.0 628.8L1894.5 629.1L1895.0 628.8L1895.5 628.4L1896.0 628.5L1896.5 628.5L1897.0 628.2L1897.5 627.9L1898.0 628.8L1898.5 629.6L1899.0 629.3L1899.5 628.9L1900.0 629.3L1900.5 629.7L1901.0 629.4L1901.5 629.1L1902.0 629.3L1902.5 629.5L1903.0 628.9L1903.5 628.4L1904.0 628.7L1904.5 628.9L1905.0 629.5L1905.5 630.1L1906.0 628.9L1906.5 627.7L1907.0 628.4L1907.5 629.1L1908.0 629.2L1908.5 629.3L1909.0 628.9L1909.5 628.4L1910.0 628.4L1910.5 628.3L1911.0 628.2L1911.5 628.0L1912.0 627.0L1912.5 625.9L1913.0 625.8L1913.5 625.9L1913.6 625.5L1914.0 625.2L1914.5 625.6L1915.0 626.2L1915.5 626.6L1916.0 627.0L1916.5 627.4L1917.0 627.8L1917.5 628.0L1918.0 628.2L1918.5 628.4L1919.0 628.5L1919.5 628.0L1920.0 627.4L1920.5 628.5L1921.0 629.6L1921.5 629.3L1922.0 629.1L1922.5 629.0L1923.0 628.8L1923.5 628.5L1924.0 628.2L1924.5 628.3L1925.0 628.3L1925.5 628.5L1926.0 628.7L1926.5 628.7L1927.0 628.6L1927.5 628.0L1928.0 627.4L1928.5 628.1L1929.0 628.8L1929.5 629.5L1930.0 630.2L1930.5 628.7L1931.0 627.2L1931.5 628.1L1932.0 629.0L1932.5 628.8L1933.0 628.6L1933.5 628.4L1934.0 628.3L1934.5 628.7L1935.0 629.2L1935.5 628.4L1936.0 627.6L1936.5 628.0L1937.0 628.4L1937.5 628.8L1938.0 629.2L1938.5 628.7L1939.0 628.2L1939.5 628.1L1940.0 628.1L1940.5 628.2L1941.0 628.4L1941.5 628.2L1942.0 628.0L1942.5 628.6L1943.0 629.2L1943.5 628.5L1944.0 627.7L1944.5 628.3L1945.0 628.8L1945.5 628.2L1946.0 627.5L1946.5 628.1L1947.0 628.7L1947.5 628.4L1948.0 628.2L1948.5 627.4L1949.0 626.6L1949.5 627.4L1950.0 628.2L1950.5 627.9L1951.0 627.6L1951.5 627.8L1952.0 627.9L1952.5 628.5L1953.0 629.2L1953.5 628.3L1954.0 627.5L1954.5 627.5L1955.0 627.5L1955.5 628.3L1956.0 629.1L1956.5 628.7L1957.0 628.2L1957.5 628.7L1958.0 629.1L1958.5 628.7L1959.0 628.4L1959.5 628.0L1960.0 627.6L1960.5 627.8L1961.0 628.1L1961.5 628.5L1962.0 628.9L1962.5 628.8L1963.0 628.7L1963.5 628.4L1964.0 628.1L1964.5 628.1L1965.0 628.1L1965.5 628.1L1966.0 628.0L1966.5 627.9L1967.0 627.7L1967.5 628.5L1968.0 629.3L1968.5 628.7L1969.0 628.1L1969.5 627.7L1970.0 627.3L1970.5 627.5L1971.0 627.7L1971.5 628.1L1972.0 628.5L1972.5 628.4L1973.0 628.4L1973.5 628.2L1974.0 627.9L1974.5 627.8L1975.0 627.6L1975.5 627.8L1976.0 628.0" fill="none" stroke="#0000ff" stroke-width="4.60" stroke-linejoin="round" stroke-linecap="butt" shape-rendering="crispEdges"/>
<path d="M401.5 861.6L402.0 862.3L402.5 863.0L403.0 862.7L403.5 862.4L404.0 862.7L404.5 863.0L405.0 863.4L405.5 863.7L406.0 863.6L406.5 863.5L407.0 863.3L407.5 863.2L408.0 863.9L408.5 864.6L409.0 864.2L409.5 863.9L410.0 863.6L410.5 863.4L411.0 863.8L411.5 864.2L412.0 864.1L412.5 864.1L413.0 863.8L413.5 863.4L414.0 863.8L414.5 864.1L415.0 864.1L415.5 864.1L416.0 863.6L416.5 863.1L417.0 863.8L417.5 864.4L418.0 864.4L418.5 864.4L419.0 864.5L419.5 864.5L420.0 864.2L420.5 863.9L421.0 864.3L421.5 864.8L422.0 864.9L422.5 865.1L423.0 865.2L423.5 865.3L424.0 865.0L424.5 864.7L425.0 865.3L425.5 865.9L426.0 865.4L426.5 864.9L427.0 865.2L427.5 865.6L428.0 866.1L428.5 866.7L429.0 866.1L429.5 865.6L430.0 865.7L430.5 865.8L431.0 866.3L431.5 866.9L432.0 866.5L432.5 866.1L433.0 866.2L433.5 866.3L434.0 866.5L434.5 866.7L435.0 867.1L435.5 867.4L436.0 866.4L436.5 865.5L437.0 866.0L437.5 866.5L438.0 866.5L438.5 866.5L439.0 866.5L439.5 866.5L440.0 866.7L440.5 866.8L441.0 866.9L441.5 866.9L442.0 867.3L442.5 867.7L443.0 867.4L443.5 867.1L444.0 867.5L444.5 867.9L445.0 868.0L445.5 868.2L446.0 867.9L446.5 867.6L447.0 867.9L447.5 868.2L448.0 868.7L448.5 869.3L449.0 868.9L449.5 868.6L450.0 868.3L450.5 868.1L451.0 868.3L451.5 868.6L452.0 868.4L452.5 868.2L453.0 868.6L453.5 869.0L454.0 869.2L454.5 869.5L455.0 869.0L455.5 868.6L456.0 868.8L456.5 869.0L457.0 869.5L457.5 870.0L458.0 869.5L458.5 869.1L459.0 869.4L459.5 869.6L460.0 869.3L460.5 869.0L461.0 869.1L461.5 869.2L462.0 869.4L462.5 869.5L463.0 870.4L463.5 871.3L464.0 870.5L464.5 869.8L465.0 869.8L465.5 869.8L466.0 869.9L466.5 869.9L467.0 870.1L467.5 870.3L468.0 870.6L468.5 870.9L469.0 870.8L469.5 870.7L470.0 871.3L470.5 871.9L471.0 871.4L471.5 870.9L472.0 871.4L472.5 871.8L473.0 871.5L473.5 871.2L474.0 871.3L474.5 871.5L475.0 870.9L475.5 870.4L476.0 870.8L476.5 871.2L477.0 871.3L477.5 871.4L478.0 871.4L478.5 871.4L479.0 870.9L479.5 870.3L480.0 871.3L480.5 872.3L481.0 871.9L481.5 871.6L482.0 871.6L482.5 871.7L483.0 871.8L483.5 871.9L484.0 871.9L484.5 872.0L485.0 872.2L485.5 872.5L486.0 872.0L486.5 871.6L487.0 871.7L487.5 871.9L488.0 872.3L488.5 872.7L489.0 872.7L489.5 872.7L490.0 872.6L490.5 872.5L491.0 872.5L491.5 872.5L492.0 872.4L492.5 872.4L493.0 872.7L493.5 873.0L494.0 873.4L494.5 873.8L495.0 873.2L495.5 872.5L496.0 873.4L496.5 874.2L497.0 874.0L497.5 873.9L498.0 873.5L498.5 873.2L499.0 873.6L499.5 874.0L500.0 873.4L500.5 872.8L501.0 872.7L501.5 872.7L502.0 872.9L502.5 873.0L503.0 873.4L503.5 873.7L504.0 873.7L504.5 873.8L505.0 873.8L505.5 873.8L506.0 874.0L506.5 874.2L507.0 873.6L507.5 873.0L508.0 873.8L508.5 874.7L509.0 874.1L509.5 873.6L510.0 873.9L510.5 874.1L511.0 874.3L511.5 874.4L512.0 874.2L512.5 874.0L513.0 874.0L513.5 874.0L514.0 874.1L514.5 874.3L515.0 874.6L515.5 875.0L516.0 875.2L516.5 875.4L517.0 875.5L517.5 875.5L518.0 875.1L518.5 874.6L519.0 874.7L519.5 874.9L520.0 874.9L520.5 874.9L521.0 875.3L521.5 875.8L522.0 875.1L522.5 874.4L523.0 875.4L523.5 876.4L524.0 875.9L524.5 875.5L525.0 875.4L525.5 875.4L526.0 875.8L526.5 876.1L527.0 876.4L527.5 876.6L528.0 876.5L528.5 876.3L529.0 876.6L529.5 876.8L530.0 876.6L530.5 876.4L531.0 876.7L531.5 877.1L532.0 877.1L532.5 877.2L533.0 876.8L533.5 876.5L534.0 877.0L534.5 877.5L535.0 877.1L535.5 876.8L536.0 876.8L536.5 876.8L537.0 876.6L537.5 876.3L538.0 876.5L538.5 876.8L539.0 877.1L539.5 877.5L540.0 876.9L540.5 876.3L541.0 876.9L541.5 877.6L542.0 877.5L542.5 877.5L543.0 877.5L543.5 877.5L544.0 876.8L544.5 876.1L545.0 876.8L545.5 877.4L546.0 877.7L546.5 878.0L547.0 877.6L547.5 877.2L548.0 877.5L548.5 877.8L549.0 877.1L549.5 876.4L550.0 877.3L550.5 878.3L551.0 877.9L551.5 877.6L552.0 878.1L552.5 878.6L553.0 877.8L553.5 877.0L554.0 877.8L554.5 878.6L555.0 878.4L555.5 878.1L556.0 878.5L556.5 878.8L557.0 878.3L557.5 877.9L558.0 878.0L558.5 878.1L559.0 879.0L559.5 879.9L560.0 879.0L560.5 878.1L561.0 878.2L561.5 878.3L562.0 878.4L562.5 878.6L563.0 878.4L563.5 878.2L564.0 878.9L564.5 879.6L565.0 879.8L565.5 880.0L566.0 879.3L566.5 878.6L567.0 878.4L567.5 878.1L568.0 879.0L568.5 879.9L569.0 879.9L569.5 879.9L570.0 879.9L570.5 879.8L571.0 880.0L571.5 880.1L572.0 879.5L572.5 879.0L573.0 879.2L573.5 879.4L574.0 879.1L574.5 878.8L575.0 878.8L575.5 878.8L576.0 879.6L576.5 880.3L577.0 879.9L577.5 879.4L578.0 880.3L578.5 881.2L579.0 880.6L579.5 880.0L580.0 879.8L580.5 879.6L581.0 880.1L581.5 880.5L582.0 880.9L582.5 881.2L583.0 880.8L583.5 880.5L584.0 880.0L584.5 879.5L585.0 880.0L585.5 880.5L586.0 880.8L586.5 881.2L587.0 880.6L587.5 880.1L588.0 880.1L588.5 880.0L589.0 880.6L589.5 881.1L590.0 880.9L590.5 880.7L591.0 880.3L591.5 880.0L592.0 880.2L592.5 880.5L593.0 880.4L593.5 880.3L594.0 880.6L594.5 881.0L595.0 881.0L595.5 880.9L596.0 881.3L596.5 881.6L597.0 881.5L597.5 881.4L598.0 880.7L598.5 880.1L599.0 880.7L599.5 881.3L600.0 881.5L600.5 881.7L601.0 881.6L601.5 881.4L602.0 881.6L602.5 881.8L603.0 881.4L603.5 880.9L604.0 880.8L604.5 880.7L605.0 881.3L605.5 881.9L606.0 881.3L606.5 880.8L607.0 880.5L607.5 880.2L608.0 881.1L608.5 882.1L609.0 881.6L609.5 881.1L610.0 881.3L610.5 881.4L611.0 881.1L611.5 880.8L612.0 880.9L612.5 880.9L613.0 881.0L613.5 881.0L614.0 881.3L614.5 881.6L615.0 881.8L615.5 882.1L616.0 881.3L616.5 880.5L617.0 881.4L617.5 882.4L618.0 881.8L618.5 881.3L619.0 881.3L619.5 881.4L620.0 881.9L620.5 882.5L621.0 882.3L621.5 882.0L622.0 881.6L622.5 881.2L623.0 882.2L623.5 883.3L624.0 882.5L624.5 881.7L625.0 882.1L625.5 882.4L626.0 882.4L626.5 882.4L627.0 882.8L627.5 883.2L628.0 882.6L628.5 882.1L629.0 882.6L629.5 883.0L630.0 882.5L630.5 882.0L631.0 882.6L631.5 883.2L632.0 882.6L632.5 882.1L633.0 882.2L633.5 882.4L634.0 883.1L634.5 883.8L635.0 883.3L635.5 882.9L636.0 882.8L636.5 882.8L637.0 883.4L637.5 884.1L638.0 883.5L638.5 883.0L639.0 882.7L639.5 882.3L640.0 882.8L640.5 883.3L641.0 882.7L641.5 882.2L642.0 882.9L642.5 883.6L643.0 883.6L643.5 883.7L644.0 883.2L644.5 882.7L645.0 882.7L645.5 882.7L646.0 882.9L646.5 883.2L647.0 883.2L647.5 883.1L648.0 882.8L648.5 882.6L649.0 883.0L649.5 883.5L650.0 882.8L650.5 882.0L651.0 882.5L651.5 883.0L652.0 883.0L652.5 883.0L653.0 883.1L653.5 883.2L654.0 883.4L654.5 883.5L655.0 883.1L655.5 882.7L656.0 883.2L656.5 883.8L657.0 883.6L657.5 883.4L658.0 883.2L658.5 883.1L659.0 882.9L659.5 882.7L660.0 882.8L660.5 882.9L661.0 883.3L661.5 883.8L662.0 883.4L662.5 883.1L663.0 883.4L663.5 883.7L664.0 884.0L664.5 884.3L665.0 884.4L665.5 884.4L666.0 884.5L666.5 884.7L667.0 884.2L667.5 883.6L668.0 883.4L668.5 883.2L669.0 883.8L669.5 884.5L670.0 884.3L670.5 884.1L671.0 884.4L671.5 884.6L672.0 884.3L672.5 884.0L673.0 884.4L673.5 884.7L674.0 884.6L674.5 884.6L675.0 884.5L675.5 884.5L676.0 884.5L676.5 884.4L677.0 884.4L677.5 884.4L678.0 884.3L678.5 884.3L679.0 884.3L679.5 884.3L680.0 884.6L680.5 884.8L681.0 884.4L681.5 884.0L682.0 884.7L682.5 885.3L683.0 884.8L683.5 884.3L684.0 884.6L684.5 885.0L685.0 884.7L685.5 884.4L686.0 884.3L686.5 884.3L687.0 885.0L687.5 885.7L688.0 885.0L688.5 884.3L689.0 884.0L689.5 883.8L690.0 884.0L690.5 884.1L691.0 884.3L691.5 884.4L692.0 885.2L692.5 885.9L693.0 885.4L693.5 884.8L694.0 885.0L694.5 885.3L695.0 884.7L695.5 884.1L696.0 884.6L696.5 885.0L697.0 885.1L697.5 885.2L698.0 885.6L698.5 885.9L699.0 885.2L699.5 884.4L700.0 884.9L700.5 885.3L701.0 885.2L701.5 885.1L702.0 884.7L702.5 884.4L703.0 884.7L703.5 885.0L704.0 884.9L704.5 884.9L705.0 884.3L705.5 883.7L706.0 884.6L706.5 885.5L707.0 885.5L707.5 885.5L708.0 885.2L708.5 884.9L709.0 884.7L709.5 884.4L710.0 885.3L710.5 886.1L711.0 885.8L711.5 885.4L712.0 885.7L712.5 885.9L713.0 886.1L713.5 886.2L714.0 885.6L714.5 885.1L715.0 885.5L715.5 885.9L716.0 885.6L716.5 885.3L717.0 885.4L717.5 885.5L718.0 885.5L718.5 885.5L719.0 885.5L719.5 885.6L720.0 885.9L720.5 886.3L721.0 886.0L721.5 885.7L722.0 885.6L722.5 885.6L723.0 885.6L723.5 885.5L724.0 885.8L724.5 886.0L725.0 885.6L725.5 885.2L726.0 885.4L726.5 885.5L727.0 885.7L727.5 885.8L728.0 885.7L728.5 885.6L729.0 885.7L729.5 885.9L730.0 885.7L730.5 885.6L731.0 886.4L731.5 887.2L732.0 887.0L732.5 886.8L733.0 886.6L733.5 886.3L734.0 886.2L734.5 886.1L735.0 886.8L735.5 887.5L736.0 886.9L736.5 886.4L737.0 886.3L737.5 886.2L738.0 886.3L738.5 886.4L739.0 886.5L739.5 886.5L740.0 886.8L740.5 887.2L741.0 886.8L741.5 886.3L742.0 887.0L742.5 887.7L743.0 886.8L743.5 885.9L744.0 886.4L744.5 886.9L745.0 886.4L745.5 885.9L746.0 886.8L746.5 887.6L747.0 887.0L747.5 886.4L748.0 886.5L748.5 886.6L749.0 886.9L749.5 887.2L750.0 887.3L750.5 887.4L751.0 886.7L751.5 886.0L752.0 886.3L752.5 886.5L753.0 886.2L753.5 885.9L754.0 886.4L754.5 886.9L755.0 886.8L755.5 886.8L756.0 886.7L756.5 886.6L757.0 886.6L757.5 886.5L758.0 886.6L758.5 886.7L759.0 886.6L759.5 886.5L760.0 886.9L760.5 887.3L761.0 887.6L761.5 887.9L762.0 886.9L762.5 885.9L763.0 886.4L763.5 887.0L764.0 886.9L764.5 886.8L765.0 887.1L765.5 887.4L766.0 887.0L766.5 886.6L767.0 886.8L767.5 887.1L768.0 886.8L768.5 886.6L769.0 887.1L769.5 887.6L770.0 887.5L770.5 887.3L771.0 887.2L771.5 887.2L772.0 887.3L772.5 887.5L773.0 887.3L773.5 887.2L774.0 886.8L774.5 886.4L775.0 887.1L775.5 887.7L776.0 887.6L776.5 887.6L777.0 887.4L777.5 887.3L778.0 887.7L778.5 888.0L779.0 888.1L779.5 888.2L780.0 887.5L780.5 886.8L781.0 886.9L781.5 887.0L782.0 887.7L782.5 888.4L783.0 888.4L783.5 888.4L784.0 887.7L784.5 887.1L785.0 886.9L785.5 886.8L786.0 887.0L786.5 887.2L787.0 887.2L787.5 887.3L788.0 886.9L788.5 886.6L789.0 887.1L789.5 887.6L790.0 887.2L790.5 886.8L791.0 886.8L791.5 886.9L792.0 887.5L792.5 888.1L793.0 887.6L793.5 887.2L794.0 887.4L794.5 887.5L795.0 887.7L795.5 888.0L796.0 888.0L796.5 888.1L797.0 887.7L797.5 887.4L798.0 887.5L798.5 887.6L799.0 887.3L799.5 887.0L800.0 887.8L800.5 888.6L801.0 888.2L801.5 887.9L802.0 887.3L802.5 886.8L803.0 887.1L803.5 887.4L804.0 887.6L804.5 887.8L805.0 887.7L805.5 887.6L806.0 888.0L806.5 888.4L807.0 888.2L807.5 888.0L808.0 887.4L808.5 886.8L809.0 886.8L809.5 886.9L810.0 886.5L810.5 886.1L811.0 886.4L811.5 886.8L812.0 886.7L812.5 886.5L813.0 887.2L813.5 887.8L814.0 886.8L814.5 885.8L815.0 884.9L815.5 884.0L816.0 884.1L816.5 884.1L817.0 883.8L817.5 883.5L818.0 882.3L818.5 881.0L819.0 879.9L819.5 878.5L820.0 876.5L820.5 873.7L821.0 869.4L821.5 862.3L822.0 848.2L822.5 821.2L823.0 773.9L823.5 709.4L824.0 666.0L824.5 682.7L825.0 714.0L825.5 731.9L826.0 760.7L826.5 802.0L827.0 834.5L827.5 854.3L828.0 865.5L828.5 871.7L829.0 875.8L829.5 878.8L830.0 879.9L830.5 880.5L831.0 882.0L831.5 883.3L832.0 884.2L832.5 884.9L833.0 885.0L833.5 885.1L834.0 885.6L834.5 886.0L835.0 885.8L835.5 885.6L836.0 886.5L836.5 887.4L837.0 887.5L837.5 887.5L838.0 887.4L838.5 887.2L839.0 886.7L839.5 886.2L840.0 886.4L840.5 886.7L841.0 887.4L841.5 888.1L842.0 888.3L842.5 888.6L843.0 888.2L843.5 887.8L844.0 888.1L844.5 888.5L845.0 887.9L845.5 887.4L846.0 887.6L846.5 887.7L847.0 887.8L847.5 887.9L848.0 888.0L848.5 888.2L849.0 887.6L849.5 887.0L850.0 887.8L850.5 888.6L851.0 888.7L851.5 888.8L852.0 888.1L852.5 887.4L853.0 887.3L853.5 887.3L854.0 887.8L854.5 888.3L855.0 888.0L855.5 887.7L856.0 887.2L856.5 886.7L857.0 887.7L857.5 888.7L858.0 888.5L858.5 888.3L859.0 888.1L859.5 887.9L860.0 888.7L860.5 889.5L861.0 888.9L861.5 888.3L862.0 888.1L862.5 887.8L863.0 888.1L863.5 888.3L864.0 888.0L864.5 887.7L865.0 887.8L865.5 887.8L866.0 888.2L866.5 888.6L867.0 888.3L867.5 888.0L868.0 888.0L868.5 888.1L869.0 888.7L869.5 889.4L870.0 889.1L870.5 888.9L871.0 888.9L871.5 888.9L872.0 888.8L872.5 888.7L873.0 888.7L873.5 888.7L874.0 889.0L874.5 889.3L875.0 888.8L875.5 888.4L876.0 889.0L876.5 889.5L877.0 888.7L877.5 887.9L878.0 888.1L878.5 888.3L879.0 888.0L879.5 887.6L880.0 887.9L880.5 888.3L881.0 888.5L881.5 888.8L882.0 889.1L882.5 889.4L883.0 888.7L883.5 888.1L884.0 888.3L884.5 888.5L885.0 888.4L885.5 888.3L886.0 888.2L886.5 888.1L887.0 887.9L887.5 887.8L888.0 888.2L888.5 888.6L889.0 888.0L889.5 887.5L890.0 888.1L890.5 888.6L891.0 888.6L891.5 888.6L892.0 888.4L892.5 888.2L893.0 888.1L893.5 888.0L894.0 887.8L894.5 887.7L895.0 888.7L895.5 889.7L896.0 888.7L896.5 887.8L897.0 888.7L897.5 889.5L898.0 889.2L898.5 889.0L899.0 888.7L899.5 888.4L900.0 888.2L900.5 887.9L901.0 888.6L901.5 889.2L902.0 889.5L902.5 889.7L903.0 888.9L903.5 888.1L904.0 888.3L904.5 888.5L905.0 888.9L905.5 889.3L906.0 889.1L906.5 888.8L907.0 889.3L907.5 889.9L908.0 889.1L908.5 888.3L909.0 888.7L909.5 889.0L910.0 888.5L910.5 887.9L911.0 888.9L911.5 889.9L912.0 889.1L912.5 888.2L913.0 887.8L913.5 887.4L914.0 888.0L914.5 888.6L915.0 888.6L915.5 888.6L916.0 889.2L916.5 889.8L917.0 889.2L917.5 888.5L918.0 888.6L918.5 888.7L919.0 888.9L919.5 889.1L920.0 889.4L920.5 889.7L921.0 889.2L921.5 888.7L922.0 889.0L922.5 889.4L923.0 889.2L923.5 889.0L924.0 888.8L924.5 888.6L925.0 888.7L925.5 888.8L926.0 888.8L926.5 888.8L927.0 888.5L927.5 888.2L928.0 888.8L928.5 889.5L929.0 888.7L929.5 887.9L930.0 888.7L930.5 889.5L931.0 889.4L931.5 889.3L932.0 889.0L932.5 888.7L933.0 888.5L933.5 888.3L934.0 888.5L934.5 888.6L935.0 888.9L935.5 889.1L936.0 889.2L936.5 889.2L937.0 889.1L937.5 889.0L938.0 889.2L938.5 889.4L939.0 888.9L939.5 888.5L940.0 888.7L940.5 888.9L941.0 888.4L941.5 887.9L942.0 888.6L942.5 889.3L943.0 889.1L943.5 888.9L944.0 888.7L944.5 888.6L945.0 889.0L945.5 889.5L946.0 889.4L946.5 889.2L947.0 888.2L947.5 887.1L948.0 888.0L948.5 888.9L949.0 888.4L949.5 888.0L950.0 888.7L950.5 889.5L951.0 889.9L951.5 890.3L952.0 889.4L952.5 888.5L953.0 888.7L953.5 888.9L954.0 888.8L954.5 888.7L955.0 888.9L955.5 889.1L956.0 889.2L956.5 889.2L957.0 889.4L957.5 889.6L958.0 889.0L958.5 888.3L959.0 889.0L959.5 889.8L960.0 889.1L960.5 888.3L961.0 888.7L961.5 889.0L962.0 889.3L962.5 889.6L963.0 889.4L963.5 889.3L964.0 888.8L964.5 888.3L965.0 888.4L965.5 888.5L966.0 888.5L966.5 888.6L967.0 888.7L967.5 888.9L968.0 889.2L968.5 889.6L969.0 888.8L969.5 888.1L970.0 888.6L970.5 889.2L971.0 889.2L971.5 889.3L972.0 889.3L972.5 889.2L973.0 889.2L973.5 889.2L974.0 889.5L974.5 889.8L975.0 889.5L975.5 889.2L976.0 889.3L976.5 889.4L977.0 889.3L977.5 889.2L978.0 889.6L978.5 890.0L979.0 888.9L979.5 887.8L980.0 888.7L980.5 889.7L981.0 889.2L981.5 888.8L982.0 888.8L982.5 888.7L983.0 888.5L983.5 888.3L984.0 888.1L984.5 887.8L985.0 888.2L985.5 888.7L986.0 888.6L986.5 888.5L987.0 888.9L987.5 889.2L988.0 888.6L988.5 888.0L989.0 888.9L989.5 889.8L990.0 889.4L990.5 889.1L991.0 888.9L991.5 888.8L992.0 888.6L992.5 888.5L993.0 888.5L993.5 888.4L994.0 888.3L994.5 888.2L995.0 888.4L995.5 888.6L996.0 888.8L996.5 888.9L997.0 888.9L997.5 888.8L998.0 888.4L998.5 888.1L999.0 888.4L999.5 888.8L1000.0 888.6L1000.5 888.4L1001.0 888.7L1001.5 889.0L1002.0 889.5L1002.5 890.0L1003.0 889.6L1003.5 889.3L1004.0 889.0L1004.5 888.7L1005.0 888.3L1005.5 887.9L1006.0 888.0L1006.5 888.0L1007.0 888.0L1007.5 887.9L1008.0 888.6L1008.5 889.3L1009.0 888.9L1009.5 888.4L1010.0 888.6L1010.5 888.9L1011.0 888.7L1011.5 888.5L1012.0 888.7L1012.5 888.9L1013.0 889.3L1013.5 889.6L1014.0 889.0L1014.5 888.4L1015.0 888.5L1015.5 888.6L1016.0 888.4L1016.5 888.2L1017.0 888.7L1017.5 889.2L1018.0 888.6L1018.5 888.0L1019.0 888.0L1019.5 887.9L1020.0 887.8L1020.5 887.7L1021.0 887.6L1021.5 887.6L1022.0 888.1L1022.5 888.6L1023.0 889.2L1023.5 889.7L1024.0 888.6L1024.5 887.4L1025.0 887.8L1025.5 888.3L1026.0 887.9L1026.5 887.4L1027.0 886.7L1027.5 885.9L1028.0 885.7L1028.5 885.3L1029.0 884.4L1029.5 883.1L1030.0 880.8L1030.5 876.9L1031.0 870.6L1031.5 859.3L1032.0 841.1L1032.5 824.5L1032.7 822.8L1033.0 825.4L1033.5 836.7L1034.0 845.3L1034.5 847.1L1035.0 848.7L1035.5 857.2L1036.0 867.6L1036.5 875.6L1037.0 880.6L1037.5 883.2L1038.0 884.5L1038.5 885.6L1039.0 886.4L1039.5 886.9L1040.0 887.4L1040.5 886.9L1041.0 886.3L1041.5 887.6L1042.0 888.8L1042.5 889.1L1043.0 889.5L1043.5 889.2L1044.0 888.9L1044.5 889.0L1045.0 889.0L1045.5 888.4L1046.0 887.7L1046.5 888.1L1047.0 888.5L1047.5 888.4L1048.0 888.2L1048.5 888.3L1049.0 888.4L1049.5 888.9L1050.0 889.3L1050.5 888.8L1051.0 888.3L1051.5 888.5L1052.0 888.8L1052.5 888.2L1053.0 887.7L1053.5 888.3L1054.0 888.8L1054.5 888.9L1055.0 889.0L1055.5 888.7L1056.0 888.5L1056.5 888.5L1057.0 888.5L1057.5 889.3L1058.0 890.1L1058.5 889.2L1059.0 888.2L1059.5 888.3L1060.0 888.3L1060.5 888.4L1061.0 888.5L1061.5 889.1L1062.0 889.7L1062.5 890.0L1063.0 890.3L1063.5 889.7L1064.0 889.2L1064.5 888.9L1065.0 888.6L1065.5 888.7L1066.0 888.8L1066.5 889.2L1067.0 889.7L1067.5 889.1L1068.0 888.5L1068.5 889.2L1069.0 889.9L1069.5 889.9L1070.0 889.9L1070.5 889.5L1071.0 889.1L1071.5 889.3L1072.0 889.4L1072.5 889.5L1073.0 889.5L1073.5 889.7L1074.0 890.0L1074.5 889.2L1075.0 888.4L1075.5 889.1L1076.0 889.8L1076.5 889.3L1077.0 888.8L1077.5 888.7L1078.0 888.6L1078.5 888.9L1079.0 889.1L1079.5 889.0L1080.0 888.9L1080.5 888.7L1081.0 888.5L1081.5 888.3L1082.0 888.1L1082.5 888.3L1083.0 888.5L1083.5 889.2L1084.0 889.9L1084.5 890.1L1085.0 890.3L1085.5 889.9L1086.0 889.5L1086.5 889.6L1087.0 889.8L1087.5 889.3L1088.0 888.8L1088.5 888.9L1089.0 889.0L1089.5 889.1L1090.0 889.2L1090.5 888.8L1091.0 888.4L1091.5 888.4L1092.0 888.5L1092.5 888.8L1093.0 889.1L1093.5 889.0L1094.0 888.9L1094.5 888.6L1095.0 888.4L1095.5 888.8L1096.0 889.3L1096.5 889.1L1097.0 888.9L1097.5 889.2L1098.0 889.6L1098.5 889.3L1099.0 889.0L1099.5 888.9L1100.0 888.7L1100.5 888.8L1101.0 888.9L1101.5 888.8L1102.0 888.7L1102.5 888.5L1103.0 888.2L1103.5 888.2L1104.0 888.1L1104.5 888.2L1105.0 888.1L1105.5 887.4L1106.0 886.0L1106.5 884.0L1107.0 881.4L1107.5 878.5L1107.6 877.5L1108.0 878.5L1108.5 880.9L1109.0 882.2L1109.5 882.4L1110.0 882.6L1110.5 883.8L1111.0 885.2L1111.5 886.3L1112.0 887.2L1112.5 887.7L1113.0 888.4L1113.5 889.0L1114.0 888.9L1114.5 888.8L1115.0 888.5L1115.5 888.1L1116.0 888.9L1116.5 889.7L1117.0 889.6L1117.5 889.6L1118.0 889.1L1118.5 888.7L1119.0 889.1L1119.5 889.5L1120.0 889.1L1120.5 888.6L1121.0 889.2L1121.5 889.7L1122.0 889.3L1122.5 888.9L1123.0 888.8L1123.5 888.6L1124.0 888.7L1124.5 888.9L1125.0 888.8L1125.5 888.6L1126.0 888.9L1126.5 889.2L1127.0 889.2L1127.5 889.2L1128.0 889.2L1128.5 889.1L1129.0 889.0L1129.5 888.8L1130.0 887.8L1130.5 886.9L1131.0 888.0L1131.5 889.2L1132.0 888.6L1132.5 888.0L1133.0 888.6L1133.5 889.3L1134.0 889.5L1134.5 889.8L1135.0 889.5L1135.5 889.3L1136.0 889.1L1136.5 888.9L1137.0 888.9L1137.5 889.0L1138.0 889.0L1138.5 889.0L1139.0 888.9L1139.5 888.7L1140.0 888.7L1140.5 888.7L1141.0 888.6L1141.5 888.5L1142.0 889.1L1142.5 889.7L1143.0 889.4L1143.5 889.0L1144.0 889.3L1144.5 889.5L1145.0 889.2L1145.5 888.8L1146.0 888.9L1146.5 888.9L1147.0 888.8L1147.5 888.7L1148.0 888.9L1148.5 889.0L1149.0 889.1L1149.5 889.1L1150.0 888.9L1150.5 888.6L1151.0 888.3L1151.5 887.9L1152.0 887.7L1152.5 887.5L1153.0 888.0L1153.5 888.4L1154.0 887.4L1154.5 886.2L1155.0 885.3L1155.5 883.7L1156.0 881.4L1156.5 877.1L1157.0 869.4L1157.5 860.3L1158.0 855.0L1158.5 858.2L1159.0 864.4L1159.5 868.1L1160.0 869.4L1160.5 869.8L1161.0 871.9L1161.5 876.3L1162.0 880.8L1162.5 883.9L1163.0 885.5L1163.5 886.3L1164.0 886.6L1164.5 886.7L1165.0 887.0L1165.5 887.2L1166.0 887.9L1166.5 888.6L1167.0 888.7L1167.5 888.8L1168.0 888.7L1168.5 888.6L1169.0 888.3L1169.5 888.1L1170.0 888.1L1170.5 888.0L1171.0 888.4L1171.5 888.7L1172.0 888.4L1172.5 888.1L1173.0 888.8L1173.5 889.6L1174.0 889.7L1174.5 889.7L1175.0 890.3L1175.5 890.8L1176.0 890.2L1176.5 889.6L1177.0 889.2L1177.5 888.8L1178.0 888.7L1178.5 888.6L1179.0 887.8L1179.5 887.1L1180.0 887.9L1180.5 888.8L1181.0 888.9L1181.5 889.1L1182.0 889.4L1182.5 889.8L1183.0 889.6L1183.5 889.5L1184.0 889.5L1184.5 889.5L1185.0 889.4L1185.5 889.3L1186.0 889.5L1186.5 889.6L1187.0 889.8L1187.5 890.1L1188.0 889.3L1188.5 888.6L1189.0 888.8L1189.5 888.9L1190.0 888.7L1190.5 888.4L1191.0 889.3L1191.5 890.2L1192.0 890.1L1192.5 890.0L1193.0 889.8L1193.5 889.7L1194.0 889.1L1194.5 888.5L1195.0 888.9L1195.5 889.3L1196.0 889.2L1196.5 889.1L1197.0 889.2L1197.5 889.3L1198.0 889.2L1198.5 889.1L1199.0 889.3L1199.5 889.5L1200.0 889.3L1200.5 889.0L1201.0 889.4L1201.5 889.7L1202.0 889.6L1202.5 889.4L1203.0 889.2L1203.5 889.0L1204.0 889.1L1204.5 889.2L1205.0 889.1L1205.5 889.0L1206.0 889.3L1206.5 889.7L1207.0 889.4L1207.5 889.0L1208.0 889.2L1208.5 889.4L1209.0 889.2L1209.5 889.0L1210.0 888.6L1210.5 888.3L1211.0 889.0L1211.5 889.7L1212.0 889.1L1212.5 888.5L1213.0 889.0L1213.5 889.6L1214.0 889.5L1214.5 889.4L1215.0 888.8L1215.5 888.1L1216.0 888.3L1216.5 888.5L1217.0 888.6L1217.5 888.7L1218.0 888.6L1218.5 888.5L1219.0 888.4L1219.5 888.2L1220.0 888.7L1220.5 889.2L1221.0 888.9L1221.5 888.5L1222.0 888.6L1222.5 888.6L1223.0 888.1L1223.5 887.6L1224.0 887.3L1224.5 886.6L1225.0 884.7L1225.5 881.7L1226.0 878.3L1226.5 875.0L1226.8 874.3L1227.0 874.7L1227.5 877.0L1228.0 879.5L1228.5 880.6L1229.0 880.3L1229.5 879.8L1230.0 880.6L1230.5 883.1L1231.0 885.3L1231.5 886.7L1232.0 887.5L1232.5 887.8L1233.0 887.8L1233.5 887.8L1234.0 887.7L1234.5 888.2L1235.0 888.5L1235.5 889.1L1236.0 889.5L1236.5 888.6L1237.0 887.6L1237.5 887.6L1238.0 887.5L1238.5 887.3L1239.0 887.0L1239.5 885.9L1240.0 884.8L1240.5 885.5L1241.0 886.2L1241.5 886.0L1242.0 886.0L1242.5 886.8L1243.0 887.7L1243.5 887.5L1244.0 887.3L1244.5 887.4L1245.0 887.5L1245.5 887.9L1246.0 888.2L1246.5 888.5L1247.0 888.7L1247.5 888.6L1248.0 888.5L1248.5 888.7L1249.0 888.9L1249.5 888.6L1250.0 888.2L1250.5 888.6L1251.0 888.9L1251.5 889.3L1252.0 889.6L1252.5 890.0L1253.0 890.3L1253.5 890.0L1254.0 889.6L1254.5 889.5L1255.0 889.4L1255.5 889.6L1256.0 889.9L1256.5 889.9L1257.0 889.8L1257.5 890.0L1258.0 890.2L1258.5 890.1L1259.0 889.9L1259.5 889.6L1260.0 889.2L1260.5 889.3L1261.0 889.4L1261.5 889.4L1262.0 889.4L1262.5 889.4L1263.0 889.5L1263.5 889.5L1264.0 889.4L1264.5 889.1L1265.0 888.8L1265.5 888.4L1266.0 888.1L1266.5 888.5L1267.0 888.9L1267.5 888.5L1268.0 888.1L1268.5 888.7L1269.0 889.4L1269.5 889.4L1270.0 889.3L1270.5 888.8L1271.0 888.3L1271.5 889.0L1272.0 889.8L1272.5 889.8L1273.0 889.9L1273.5 889.6L1274.0 889.4L1274.5 889.9L1275.0 890.3L1275.5 890.4L1276.0 890.5L1276.5 889.6L1277.0 888.6L1277.5 889.3L1278.0 890.0L1278.5 889.8L1279.0 889.6L1279.5 889.6L1280.0 889.6L1280.5 889.8L1281.0 889.9L1281.5 889.4L1282.0 888.9L1282.5 889.0L1283.0 889.0L1283.5 888.9L1284.0 888.9L1284.5 888.9L1285.0 888.9L1285.5 889.1L1286.0 889.3L1286.5 888.9L1287.0 888.5L1287.5 888.6L1288.0 888.7L1288.5 889.2L1289.0 889.7L1289.5 889.5L1290.0 889.3L1290.5 889.5L1291.0 889.6L1291.5 888.9L1292.0 888.2L1292.5 888.6L1293.0 888.9L1293.5 889.0L1294.0 889.0L1294.5 889.2L1295.0 889.4L1295.5 889.2L1296.0 889.0L1296.5 889.5L1297.0 889.9L1297.5 889.6L1298.0 889.4L1298.5 889.4L1299.0 889.4L1299.5 889.4L1300.0 889.4L1300.5 889.6L1301.0 889.8L1301.5 889.5L1302.0 889.1L1302.5 889.6L1303.0 890.1L1303.5 889.9L1304.0 889.7L1304.5 889.6L1305.0 889.5L1305.5 889.5L1306.0 889.4L1306.5 889.6L1307.0 889.7L1307.5 889.9L1308.0 890.0L1308.5 890.0L1309.0 890.0L1309.5 889.8L1310.0 889.6L1310.5 889.8L1311.0 889.9L1311.5 889.7L1312.0 889.5L1312.5 889.8L1313.0 890.2L1313.5 889.8L1314.0 889.4L1314.5 888.8L1315.0 888.2L1315.5 889.2L1316.0 890.2L1316.5 889.8L1317.0 889.5L1317.5 889.1L1318.0 888.7L1318.5 889.0L1319.0 889.3L1319.5 889.1L1320.0 888.9L1320.5 889.8L1321.0 890.7L1321.5 890.2L1322.0 889.7L1322.5 889.1L1323.0 888.5L1323.5 889.1L1324.0 889.7L1324.5 889.5L1325.0 889.2L1325.5 889.9L1326.0 890.6L1326.5 889.7L1327.0 888.8L1327.5 888.4L1328.0 888.1L1328.5 888.8L1329.0 889.5L1329.5 889.3L1330.0 889.2L1330.5 889.2L1331.0 889.2L1331.5 888.7L1332.0 888.1L1332.5 888.9L1333.0 889.7L1333.5 890.1L1334.0 890.4L1334.5 889.4L1335.0 888.3L1335.5 889.2L1336.0 890.1L1336.5 889.6L1337.0 889.1L1337.5 890.0L1338.0 890.8L1338.5 890.3L1339.0 889.7L1339.5 889.5L1340.0 889.3L1340.5 889.7L1341.0 890.1L1341.5 889.9L1342.0 889.7L1342.5 889.4L1343.0 889.1L1343.5 889.5L1344.0 889.9L1344.5 889.5L1345.0 889.1L1345.5 888.7L1346.0 888.4L1346.5 889.5L1347.0 890.6L1347.5 889.9L1348.0 889.2L1348.5 889.1L1349.0 889.1L1349.5 889.3L1350.0 889.6L1350.5 889.1L1351.0 888.5L1351.5 888.6L1352.0 888.6L1352.5 888.9L1353.0 889.1L1353.5 889.1L1354.0 889.1L1354.5 889.3L1355.0 889.5L1355.5 889.8L1356.0 890.1L1356.5 889.6L1357.0 889.1L1357.5 889.4L1358.0 889.7L1358.5 889.8L1359.0 889.8L1359.5 889.3L1360.0 888.8L1360.5 889.2L1361.0 889.6L1361.5 889.2L1362.0 888.9L1362.5 889.5L1363.0 890.1L1363.5 889.9L1364.0 889.7L1364.5 889.6L1365.0 889.4L1365.5 889.0L1366.0 888.6L1366.5 889.1L1367.0 889.5L1367.5 889.2L1368.0 889.0L1368.5 889.4L1369.0 889.9L1369.5 889.6L1370.0 889.4L1370.5 889.2L1371.0 889.0L1371.5 889.5L1372.0 890.0L1372.5 889.9L1373.0 889.9L1373.5 889.5L1374.0 889.1L1374.5 889.6L1375.0 890.1L1375.5 889.7L1376.0 889.3L1376.5 889.3L1377.0 889.3L1377.5 889.4L1378.0 889.5L1378.5 889.3L1379.0 889.0L1379.5 889.1L1380.0 889.2L1380.5 889.3L1381.0 889.3L1381.5 889.9L1382.0 890.4L1382.5 890.4L1383.0 890.3L1383.5 889.8L1384.0 889.3L1384.5 889.8L1385.0 890.4L1385.5 889.9L1386.0 889.4L1386.5 889.5L1387.0 889.7L1387.5 889.8L1388.0 890.0L1388.5 889.8L1389.0 889.6L1389.5 890.3L1390.0 890.9L1390.5 890.2L1391.0 889.6L1391.5 889.2L1392.0 888.7L1392.5 889.5L1393.0 890.2L1393.5 889.7L1394.0 889.2L1394.5 889.2L1395.0 889.3L1395.5 888.5L1396.0 887.6L1396.5 888.8L1397.0 890.0L1397.5 890.0L1398.0 889.9L1398.5 889.9L1399.0 889.9L1399.5 890.0L1400.0 890.0L1400.5 890.2L1401.0 890.5L1401.5 889.9L1402.0 889.4L1402.5 889.7L1403.0 890.0L1403.5 889.5L1404.0 889.0L1404.5 889.1L1405.0 889.2L1405.5 889.6L1406.0 890.1L1406.5 889.9L1407.0 889.7L1407.5 889.2L1408.0 888.6L1408.5 889.1L1409.0 889.7L1409.5 889.5L1410.0 889.3L1410.5 889.1L1411.0 888.9L1411.5 889.3L1412.0 889.7L1412.5 889.4L1413.0 889.2L1413.5 888.8L1414.0 888.5L1414.5 888.6L1415.0 888.8L1415.5 889.6L1416.0 890.5L1416.5 889.5L1417.0 888.5L1417.5 889.0L1418.0 889.6L1418.5 889.7L1419.0 889.8L1419.5 889.8L1420.0 889.8L1420.5 889.2L1421.0 888.7L1421.5 889.0L1422.0 889.2L1422.5 889.4L1423.0 889.5L1423.5 889.7L1424.0 889.9L1424.5 889.5L1425.0 889.0L1425.5 888.9L1426.0 888.7L1426.5 889.4L1427.0 890.0L1427.5 890.0L1428.0 890.1L1428.5 889.8L1429.0 889.6L1429.5 889.3L1430.0 889.0L1430.5 889.3L1431.0 889.6L1431.5 889.5L1432.0 889.5L1432.5 889.7L1433.0 889.9L1433.5 889.3L1434.0 888.6L1434.5 889.0L1435.0 889.4L1435.5 889.4L1436.0 889.3L1436.5 889.0L1437.0 888.7L1437.5 889.1L1438.0 889.5L1438.5 889.4L1439.0 889.4L1439.5 889.2L1440.0 889.1L1440.5 889.3L1441.0 889.6L1441.5 889.0L1442.0 888.5L1442.5 888.9L1443.0 889.3L1443.5 889.4L1444.0 889.6L1444.5 889.5L1445.0 889.5L1445.5 889.7L1446.0 889.9L1446.5 889.3L1447.0 888.6L1447.5 888.5L1448.0 888.4L1448.5 888.9L1449.0 889.4L1449.5 889.5L1450.0 889.5L1450.5 890.0L1451.0 890.5L1451.5 890.0L1452.0 889.6L1452.5 889.1L1453.0 888.6L1453.5 889.1L1454.0 889.6L1454.5 889.1L1455.0 888.6L1455.5 888.4L1456.0 888.2L1456.5 889.4L1457.0 890.6L1457.5 889.9L1458.0 889.2L1458.5 889.2L1459.0 889.3L1459.5 889.2L1460.0 889.2L1460.5 889.5L1461.0 889.8L1461.5 889.3L1462.0 888.8L1462.5 889.0L1463.0 889.2L1463.5 888.5L1464.0 887.7L1464.5 887.5L1465.0 887.2L1465.5 888.0L1466.0 888.6L1466.5 888.5L1467.0 888.3L1467.5 887.7L1468.0 887.1L1468.5 886.6L1469.0 886.1L1469.5 885.5L1470.0 884.7L1470.5 883.4L1471.0 881.8L1471.5 880.5L1472.0 878.0L1472.5 872.5L1473.0 863.2L1473.5 849.0L1474.0 829.1L1474.5 807.6L1475.0 796.5L1475.5 805.5L1476.0 824.3L1476.5 839.5L1477.0 846.7L1477.5 846.2L1478.0 840.7L1478.5 836.7L1479.0 841.6L1479.5 853.4L1480.0 864.9L1480.5 873.4L1481.0 879.2L1481.5 881.6L1482.0 882.7L1482.5 884.1L1483.0 885.1L1483.5 886.0L1484.0 886.9L1484.5 887.3L1485.0 887.6L1485.5 887.8L1486.0 887.9L1486.5 887.5L1487.0 887.0L1487.5 887.7L1488.0 888.5L1488.5 888.1L1489.0 887.7L1489.5 887.9L1490.0 888.0L1490.5 888.5L1491.0 889.0L1491.5 888.8L1492.0 888.6L1492.5 889.0L1493.0 889.3L1493.5 890.1L1494.0 890.8L1494.5 890.1L1495.0 889.4L1495.5 889.4L1496.0 889.4L1496.5 889.0L1497.0 888.5L1497.5 888.6L1498.0 888.7L1498.5 888.6L1499.0 888.5L1499.5 888.6L1500.0 888.8L1500.5 888.6L1501.0 888.5L1501.5 888.6L1502.0 888.8L1502.5 888.9L1503.0 889.0L1503.5 888.8L1504.0 888.6L1504.5 888.5L1505.0 888.3L1505.5 888.4L1506.0 888.4L1506.5 888.9L1507.0 889.5L1507.5 889.4L1508.0 889.2L1508.5 889.5L1509.0 889.8L1509.5 889.8L1510.0 889.8L1510.5 889.4L1511.0 889.0L1511.5 889.3L1512.0 889.6L1512.5 888.9L1513.0 888.3L1513.5 889.4L1514.0 890.5L1514.5 890.2L1515.0 889.9L1515.5 889.4L1516.0 889.0L1516.5 888.7L1517.0 888.4L1517.5 888.8L1518.0 889.3L1518.5 888.6L1519.0 887.9L1519.5 888.1L1520.0 888.4L1520.5 888.9L1521.0 889.3L1521.5 889.0L1522.0 888.7L1522.5 888.5L1523.0 888.2L1523.5 888.6L1524.0 888.9L1524.5 888.1L1525.0 887.3L1525.5 887.5L1526.0 887.6L1526.5 886.9L1527.0 886.2L1527.5 885.3L1528.0 884.1L1528.5 882.6L1529.0 879.7L1529.5 874.1L1530.0 866.1L1530.5 857.7L1531.0 851.5L1531.2 849.8L1531.5 850.4L1532.0 858.3L1532.5 866.7L1533.0 870.8L1533.5 871.4L1534.0 870.5L1534.5 868.3L1535.0 867.0L1535.5 869.5L1536.0 874.4L1536.5 878.7L1537.0 882.4L1537.5 884.8L1538.0 886.2L1538.5 887.2L1539.0 887.1L1539.5 886.9L1540.0 887.9L1540.5 888.8L1541.0 888.4L1541.5 888.0L1542.0 888.3L1542.5 888.7L1543.0 888.9L1543.5 889.0L1544.0 889.1L1544.5 889.3L1545.0 888.6L1545.5 887.9L1546.0 889.0L1546.5 890.0L1547.0 889.7L1547.5 889.5L1548.0 889.2L1548.5 888.9L1549.0 888.7L1549.5 888.6L1550.0 888.4L1550.5 888.2L1551.0 888.3L1551.5 888.4L1552.0 889.0L1552.5 889.6L1553.0 889.3L1553.5 889.1L1554.0 888.9L1554.5 888.6L1555.0 888.8L1555.5 889.0L1556.0 889.6L1556.5 890.3L1557.0 889.7L1557.5 889.1L1558.0 889.1L1558.5 889.0L1559.0 889.6L1559.5 890.2L1560.0 889.9L1560.5 889.6L1561.0 889.5L1561.5 889.4L1562.0 889.2L1562.5 889.0L1563.0 888.7L1563.5 888.5L1564.0 888.6L1564.5 888.7L1565.0 888.9L1565.5 889.1L1566.0 889.2L1566.5 889.3L1567.0 889.4L1567.5 889.6L1568.0 889.7L1568.5 889.7L1569.0 889.6L1569.5 889.5L1570.0 889.5L1570.5 889.5L1571.0 889.2L1571.5 888.8L1572.0 888.5L1572.5 888.1L1573.0 888.6L1573.5 889.1L1574.0 889.0L1574.5 888.8L1575.0 888.9L1575.5 889.0L1576.0 889.1L1576.5 889.3L1577.0 889.0L1577.5 888.7L1578.0 888.7L1578.5 888.8L1579.0 889.1L1579.5 889.4L1580.0 889.4L1580.5 889.5L1581.0 889.3L1581.5 889.0L1582.0 889.4L1582.5 889.7L1583.0 889.5L1583.5 889.3L1584.0 889.1L1584.5 888.8L1585.0 889.1L1585.5 889.5L1586.0 890.0L1586.5 890.6L1587.0 889.8L1587.5 889.0L1588.0 889.6L1588.5 890.1L1589.0 890.2L1589.5 890.3L1590.0 890.3L1590.5 890.3L1591.0 889.6L1591.5 888.9L1592.0 889.8L1592.5 890.6L1593.0 890.1L1593.5 889.5L1594.0 889.4L1594.5 889.3L1595.0 889.3L1595.5 889.3L1596.0 889.6L1596.5 889.8L1597.0 889.6L1597.5 889.5L1598.0 889.4L1598.5 889.3L1599.0 889.8L1599.5 890.2L1600.0 889.6L1600.5 889.0L1601.0 888.9L1601.5 888.8L1602.0 889.4L1602.5 889.9L1603.0 889.9L1603.5 889.9L1604.0 890.0L1604.5 890.1L1605.0 889.4L1605.5 888.8L1606.0 889.4L1606.5 890.1L1607.0 889.9L1607.5 889.7L1608.0 890.1L1608.5 890.5L1609.0 889.6L1609.5 888.7L1610.0 889.1L1610.5 889.6L1611.0 889.4L1611.5 889.3L1612.0 888.9L1612.5 888.5L1613.0 888.7L1613.5 889.0L1614.0 889.6L1614.5 890.1L1615.0 889.6L1615.5 889.2L1616.0 889.1L1616.5 889.0L1617.0 889.5L1617.5 890.0L1618.0 890.0L1618.5 890.0L1619.0 890.0L1619.5 890.0L1620.0 889.5L1620.5 889.0L1621.0 889.2L1621.5 889.4L1622.0 889.7L1622.5 890.1L1623.0 889.5L1623.5 889.0L1624.0 889.0L1624.5 889.0L1625.0 889.5L1625.5 889.9L1626.0 890.2L1626.5 890.4L1627.0 889.6L1627.5 888.7L1628.0 888.3L1628.5 887.9L1629.0 888.2L1629.5 888.6L1630.0 888.7L1630.5 888.8L1631.0 889.1L1631.5 889.3L1632.0 889.6L1632.5 889.8L1633.0 889.6L1633.5 889.3L1634.0 889.2L1634.5 889.0L1635.0 889.3L1635.5 889.5L1636.0 889.2L1636.5 888.8L1637.0 889.1L1637.5 889.4L1638.0 889.2L1638.5 889.0L1639.0 890.0L1639.5 891.0L1640.0 890.5L1640.5 889.9L1641.0 889.4L1641.5 888.9L1642.0 888.9L1642.5 888.8L1643.0 889.0L1643.5 889.2L1644.0 888.8L1644.5 888.4L1645.0 888.7L1645.5 889.0L1646.0 889.0L1646.5 889.0L1647.0 889.5L1647.5 889.9L1648.0 889.5L1648.5 889.2L1649.0 889.0L1649.5 888.9L1650.0 888.8L1650.5 888.6L1651.0 888.6L1651.5 888.7L1652.0 889.0L1652.5 889.4L1653.0 889.3L1653.5 889.3L1654.0 889.7L1654.5 890.1L1655.0 889.5L1655.5 889.0L1656.0 889.5L1656.5 890.0L1657.0 889.8L1657.5 889.5L1658.0 889.5L1658.5 889.4L1659.0 888.8L1659.5 888.2L1660.0 888.4L1660.5 888.6L1661.0 889.2L1661.5 889.8L1662.0 890.0L1662.5 890.2L1663.0 889.8L1663.5 889.5L1664.0 889.6L1664.5 889.8L1665.0 889.4L1665.5 889.1L1666.0 889.1L1666.5 889.1L1667.0 889.0L1667.5 888.9L1668.0 889.3L1668.5 889.8L1669.0 889.6L1669.5 889.4L1670.0 889.2L1670.5 889.0L1671.0 888.9L1671.5 888.9L1672.0 889.1L1672.5 889.3L1673.0 889.1L1673.5 888.9L1674.0 888.4L1674.5 887.9L1675.0 888.3L1675.5 888.4L1676.0 887.0L1676.5 885.1L1677.0 883.1L1677.5 881.0L1678.0 880.5L1678.5 881.8L1679.0 883.5L1679.5 885.0L1680.0 885.7L1680.5 885.7L1681.0 885.7L1681.5 885.2L1682.0 884.1L1682.5 883.8L1683.0 884.8L1683.5 886.0L1684.0 886.4L1684.5 886.6L1685.0 888.0L1685.5 889.3L1686.0 888.6L1686.5 887.7L1687.0 888.6L1687.5 889.4L1688.0 889.0L1688.5 888.6L1689.0 888.6L1689.5 888.6L1690.0 888.8L1690.5 889.1L1691.0 889.2L1691.5 889.4L1692.0 889.5L1692.5 889.6L1693.0 889.9L1693.5 890.3L1694.0 889.9L1694.5 889.4L1695.0 889.6L1695.5 889.8L1696.0 889.3L1696.5 888.9L1697.0 889.2L1697.5 889.6L1698.0 889.5L1698.5 889.3L1699.0 889.1L1699.5 888.9L1700.0 889.0L1700.5 889.1L1701.0 889.1L1701.5 889.0L1702.0 889.1L1702.5 889.1L1703.0 889.2L1703.5 889.2L1704.0 888.8L1704.5 888.5L1705.0 888.3L1705.5 888.1L1706.0 888.4L1706.5 888.6L1707.0 887.4L1707.5 886.1L1708.0 885.3L1708.5 884.0L1709.0 882.3L1709.5 880.3L1710.0 877.1L1710.2 875.5L1710.5 876.5L1711.0 879.2L1711.5 882.0L1712.0 884.2L1712.5 884.4L1713.0 883.7L1713.5 884.4L1714.0 884.7L1714.5 882.6L1715.0 881.7L1715.5 884.3L1716.0 886.8L1716.5 887.9L1717.0 888.6L1717.5 888.9L1718.0 889.0L1718.5 888.8L1719.0 888.6L1719.5 888.9L1720.0 889.1L1720.5 888.8L1721.0 888.5L1721.5 889.0L1722.0 889.6L1722.5 889.0L1723.0 888.5L1723.5 888.7L1724.0 889.0L1724.5 889.4L1725.0 889.8L1725.5 889.2L1726.0 888.6L1726.5 888.8L1727.0 889.0L1727.5 889.2L1728.0 889.4L1728.5 888.9L1729.0 888.5L1729.5 889.2L1730.0 890.0L1730.5 889.7L1731.0 889.5L1731.5 888.9L1732.0 888.4L1732.5 888.8L1733.0 889.3L1733.5 889.1L1734.0 888.8L1734.5 888.9L1735.0 888.9L1735.5 889.1L1736.0 889.4L1736.5 889.1L1737.0 888.9L1737.5 889.4L1738.0 889.9L1738.5 889.4L1739.0 888.9L1739.5 889.4L1740.0 889.9L1740.5 889.6L1741.0 889.3L1741.5 889.6L1742.0 889.8L1742.5 889.4L1743.0 889.0L1743.5 889.0L1744.0 889.0L1744.5 888.8L1745.0 888.6L1745.5 889.1L1746.0 889.7L1746.5 889.8L1747.0 889.9L1747.5 890.2L1748.0 890.6L1748.5 890.3L1749.0 890.1L1749.5 889.8L1750.0 889.5L1750.5 889.3L1751.0 889.2L1751.5 889.4L1752.0 889.6L1752.5 889.4L1753.0 889.3L1753.5 889.8L1754.0 890.2L1754.5 890.0L1755.0 889.9L1755.5 889.4L1756.0 888.8L1756.5 888.9L1757.0 888.9L1757.5 889.5L1758.0 890.1L1758.5 889.8L1759.0 889.5L1759.5 889.3L1760.0 889.2L1760.5 889.6L1761.0 890.0L1761.5 889.6L1762.0 889.1L1762.5 889.1L1763.0 889.1L1763.5 889.1L1764.0 889.0L1764.5 888.6L1765.0 888.1L1765.5 889.0L1766.0 889.8L1766.5 889.2L1767.0 888.6L1767.5 888.8L1768.0 889.0L1768.5 888.9L1769.0 888.9L1769.5 889.3L1770.0 889.7L1770.5 889.5L1771.0 889.3L1771.5 889.3L1772.0 889.3L1772.5 888.8L1773.0 888.3L1773.5 888.8L1774.0 889.2L1774.5 888.8L1775.0 888.4L1775.5 888.9L1776.0 889.5L1776.5 889.5L1777.0 889.5L1777.5 889.4L1778.0 889.3L1778.5 889.9L1779.0 890.5L1779.5 890.1L1780.0 889.6L1780.5 889.6L1781.0 889.6L1781.5 889.5L1782.0 889.4L1782.5 889.3L1783.0 889.2L1783.5 889.5L1784.0 889.9L1784.5 889.9L1785.0 889.9L1785.5 889.2L1786.0 888.5L1786.5 889.2L1787.0 889.9L1787.5 889.7L1788.0 889.6L1788.5 889.7L1789.0 889.8L1789.5 889.7L1790.0 889.5L1790.5 889.0L1791.0 888.5L1791.5 888.5L1792.0 888.5L1792.5 889.4L1793.0 890.3L1793.5 889.9L1794.0 889.4L1794.5 888.9L1795.0 888.4L1795.5 888.9L1796.0 889.4L1796.5 889.2L1797.0 889.0L1797.5 888.6L1798.0 888.1L1798.5 888.0L1799.0 887.9L1799.5 888.1L1800.0 888.3L1800.5 888.8L1801.0 889.4L1801.5 889.3L1802.0 889.2L1802.5 889.1L1803.0 889.1L1803.5 889.2L1804.0 889.4L1804.5 889.5L1805.0 889.5L1805.5 888.7L1806.0 887.9L1806.5 888.5L1807.0 889.0L1807.5 888.8L1808.0 888.7L1808.5 888.5L1809.0 888.4L1809.5 888.6L1810.0 888.8L1810.5 888.9L1811.0 889.0L1811.5 889.0L1812.0 888.9L1812.5 888.6L1813.0 888.2L1813.5 888.5L1814.0 888.8L1814.5 889.5L1815.0 890.2L1815.5 889.3L1816.0 888.4L1816.5 888.2L1817.0 888.0L1817.5 888.5L1818.0 889.1L1818.5 889.2L1819.0 889.2L1819.5 889.1L1820.0 889.1L1820.5 888.6L1821.0 888.0L1821.5 888.6L1822.0 889.2L1822.5 888.6L1823.0 887.9L1823.5 887.7L1824.0 887.5L1824.5 887.5L1825.0 887.4L1825.5 887.3L1826.0 887.1L1826.5 886.9L1827.0 886.4L1827.5 885.2L1828.0 883.4L1828.5 880.3L1829.0 875.9L1829.5 870.7L1830.0 865.6L1830.5 862.8L1831.0 864.8L1831.5 870.0L1832.0 875.2L1832.5 878.0L1833.0 879.0L1833.5 879.1L1834.0 877.8L1834.5 876.4L1835.0 875.3L1835.5 874.7L1836.0 876.3L1836.5 879.6L1837.0 882.5L1837.5 884.5L1838.0 885.8L1838.5 886.5L1839.0 886.8L1839.5 887.2L1840.0 887.4L1840.5 888.1L1841.0 888.8L1841.5 887.7L1842.0 886.5L1842.5 887.5L1843.0 888.5L1843.5 888.9L1844.0 889.2L1844.5 888.3L1845.0 887.4L1845.5 886.9L1846.0 886.0L1846.5 885.0L1847.0 883.3L1847.5 881.2L1848.0 879.2L1848.5 877.2L1849.0 877.3L1849.5 879.9L1850.0 882.5L1850.5 884.0L1851.0 884.8L1851.5 885.1L1852.0 884.8L1852.5 883.8L1853.0 882.8L1853.5 882.9L1854.0 883.9L1854.5 884.9L1855.0 885.8L1855.5 886.9L1856.0 887.6L1856.5 887.8L1857.0 887.8L1857.5 888.0L1858.0 888.1L1858.5 888.4L1859.0 888.6L1859.5 888.7L1860.0 888.7L1860.5 888.4L1861.0 888.2L1861.5 889.0L1862.0 889.9L1862.5 889.4L1863.0 888.9L1863.5 888.5L1864.0 888.2L1864.5 888.9L1865.0 889.7L1865.5 889.1L1866.0 888.6L1866.5 889.0L1867.0 889.3L1867.5 889.2L1868.0 889.0L1868.5 889.1L1869.0 889.2L1869.5 889.2L1870.0 889.2L1870.5 889.0L1871.0 888.7L1871.5 888.9L1872.0 889.1L1872.5 889.7L1873.0 890.3L1873.5 889.0L1874.0 887.8L1874.5 888.5L1875.0 889.1L1875.5 889.3L1876.0 889.4L1876.5 888.9L1877.0 888.5L1877.5 888.4L1878.0 888.3L1878.5 889.4L1879.0 890.4L1879.5 889.7L1880.0 888.9L1880.5 889.6L1881.0 890.4L1881.5 889.9L1882.0 889.4L1882.5 889.3L1883.0 889.2L1883.5 889.3L1884.0 889.4L1884.5 889.5L1885.0 889.5L1885.5 889.7L1886.0 889.8L1886.5 889.6L1887.0 889.4L1887.5 889.3L1888.0 889.2L1888.5 889.2L1889.0 889.2L1889.5 889.6L1890.0 889.9L1890.5 889.8L1891.0 889.6L1891.5 889.1L1892.0 888.5L1892.5 888.6L1893.0 888.7L1893.5 889.0L1894.0 889.3L1894.5 889.0L1895.0 888.7L1895.5 888.8L1896.0 888.9L1896.5 888.7L1897.0 888.5L1897.5 888.8L1898.0 889.0L1898.5 889.2L1899.0 889.4L1899.5 889.5L1900.0 889.7L1900.5 889.4L1901.0 889.1L1901.5 889.7L1902.0 890.4L1902.5 889.7L1903.0 889.1L1903.5 890.0L1904.0 891.0L1904.5 890.4L1905.0 889.7L1905.5 889.6L1906.0 889.4L1906.5 889.1L1907.0 888.8L1907.5 888.1L1908.0 887.4L1908.5 888.2L1909.0 889.0L1909.5 889.1L1910.0 889.2L1910.5 889.7L1911.0 890.3L1911.5 889.3L1912.0 888.3L1912.5 889.3L1913.0 890.2L1913.5 889.6L1914.0 888.9L1914.5 889.2L1915.0 889.5L1915.5 888.6L1916.0 887.6L1916.5 888.4L1917.0 889.2L1917.5 889.0L1918.0 888.9L1918.5 889.2L1919.0 889.5L1919.5 889.3L1920.0 889.1L1920.5 888.8L1921.0 888.4L1921.5 889.0L1922.0 889.7L1922.5 889.6L1923.0 889.5L1923.5 889.5L1924.0 889.4L1924.5 889.6L1925.0 889.7L1925.5 889.7L1926.0 889.7L1926.5 889.4L1927.0 889.1L1927.5 888.7L1928.0 888.3L1928.5 888.3L1929.0 888.2L1929.5 889.1L1930.0 889.9L1930.5 889.7L1931.0 889.5L1931.5 889.3L1932.0 889.1L1932.5 889.0L1933.0 888.8L1933.5 889.0L1934.0 889.1L1934.5 889.1L1935.0 889.1L1935.5 889.0L1936.0 888.9L1936.5 888.8L1937.0 888.6L1937.5 889.5L1938.0 890.4L1938.5 889.8L1939.0 889.2L1939.5 888.9L1940.0 888.7L1940.5 888.5L1941.0 888.3L1941.5 888.4L1942.0 888.6L1942.5 889.1L1943.0 889.5L1943.5 889.5L1944.0 889.5L1944.5 889.2L1945.0 888.9L1945.5 889.0L1946.0 889.1L1946.5 889.0L1947.0 888.9L1947.5 888.6L1948.0 888.4L1948.5 889.1L1949.0 889.8L1949.5 889.5L1950.0 889.3L1950.5 889.9L1951.0 890.5L1951.5 889.6L1952.0 888.6L1952.5 888.8L1953.0 889.0L1953.5 889.3L1954.0 889.6L1954.5 889.2L1955.0 888.9L1955.5 888.5L1956.0 888.2L1956.5 888.3L1957.0 888.5L1957.5 888.8L1958.0 889.1L1958.5 889.2L1959.0 889.2L1959.5 889.1L1960.0 889.0L1960.5 889.3L1961.0 889.6L1961.5 889.6L1962.0 889.6L1962.5 889.4L1963.0 889.2L1963.5 889.1L1964.0 889.0L1964.5 888.9L1965.0 888.9L1965.5 889.1L1966.0 889.3L1966.5 889.5L1967.0 889.6L1967.5 889.3L1968.0 889.0L1968.5 889.2L1969.0 889.3L1969.5 889.0L1970.0 888.8L1970.5 888.5L1971.0 888.2L1971.5 888.3L1972.0 888.4L1972.5 888.9L1973.0 889.5L1973.5 889.4L1974.0 889.3L1974.5 889.6L1975.0 889.9L1975.5 889.5L1976.0 889.0" fill="none" stroke="#ff0000" stroke-width="4.60" stroke-linejoin="round" stroke-linecap="butt" shape-rendering="crispEdges"/>
<path d="M401.5 1123.2L402.0 1123.1L402.5 1123.1L403.0 1122.6L403.5 1122.2L404.0 1122.3L404.5 1122.5L405.0 1122.6L405.5 1122.8L406.0 1122.5L406.5 1122.2L407.0 1122.6L407.5 1123.1L408.0 1123.3L408.5 1123.5L409.0 1123.1L409.5 1122.7L410.0 1123.5L410.5 1124.2L411.0 1123.6L411.5 1122.9L412.0 1123.0L412.5 1123.1L413.0 1123.1L413.5 1123.1L414.0 1123.0L414.5 1122.9L415.0 1123.3L415.5 1123.7L416.0 1123.6L416.5 1123.5L417.0 1124.0L417.5 1124.5L418.0 1124.3L418.5 1124.0L419.0 1124.0L419.5 1124.0L420.0 1123.8L420.5 1123.6L421.0 1123.3L421.5 1123.0L422.0 1123.4L422.5 1123.9L423.0 1123.7L423.5 1123.5L424.0 1124.0L424.5 1124.6L425.0 1124.4L425.5 1124.1L426.0 1124.7L426.5 1125.2L427.0 1125.0L427.5 1124.7L428.0 1124.8L428.5 1124.9L429.0 1124.7L429.5 1124.6L430.0 1124.6L430.5 1124.6L431.0 1124.8L431.5 1125.0L432.0 1125.1L432.5 1125.2L433.0 1124.7L433.5 1124.3L434.0 1124.7L434.5 1125.1L435.0 1125.8L435.5 1126.4L436.0 1125.7L436.5 1124.9L437.0 1124.9L437.5 1124.9L438.0 1124.8L438.5 1124.7L439.0 1124.5L439.5 1124.3L440.0 1125.1L440.5 1126.0L441.0 1125.7L441.5 1125.4L442.0 1125.5L442.5 1125.6L443.0 1126.1L443.5 1126.6L444.0 1126.8L444.5 1127.1L445.0 1126.1L445.5 1125.1L446.0 1125.7L446.5 1126.3L447.0 1126.2L447.5 1126.1L448.0 1126.1L448.5 1126.1L449.0 1126.2L449.5 1126.2L450.0 1126.1L450.5 1126.0L451.0 1126.5L451.5 1127.0L452.0 1126.8L452.5 1126.5L453.0 1126.5L453.5 1126.4L454.0 1126.7L454.5 1127.1L455.0 1127.0L455.5 1126.9L456.0 1126.8L456.5 1126.7L457.0 1126.7L457.5 1126.7L458.0 1127.2L458.5 1127.7L459.0 1127.3L459.5 1127.0L460.0 1126.9L460.5 1126.7L461.0 1126.5L461.5 1126.3L462.0 1126.5L462.5 1126.7L463.0 1126.5L463.5 1126.4L464.0 1126.8L464.5 1127.1L465.0 1127.2L465.5 1127.3L466.0 1126.7L466.5 1126.0L467.0 1126.7L467.5 1127.3L468.0 1127.6L468.5 1127.8L469.0 1127.7L469.5 1127.6L470.0 1127.3L470.5 1127.0L471.0 1127.7L471.5 1128.4L472.0 1127.8L472.5 1127.3L473.0 1127.2L473.5 1127.0L474.0 1127.1L474.5 1127.2L475.0 1127.6L475.5 1127.9L476.0 1128.3L476.5 1128.6L477.0 1128.7L477.5 1128.8L478.0 1128.5L478.5 1128.3L479.0 1127.9L479.5 1127.5L480.0 1127.7L480.5 1127.9L481.0 1127.9L481.5 1127.9L482.0 1128.1L482.5 1128.4L483.0 1127.9L483.5 1127.5L484.0 1128.1L484.5 1128.7L485.0 1128.9L485.5 1129.1L486.0 1128.9L486.5 1128.7L487.0 1128.9L487.5 1129.2L488.0 1128.8L488.5 1128.4L489.0 1128.3L489.5 1128.2L490.0 1128.5L490.5 1128.7L491.0 1129.3L491.5 1129.9L492.0 1129.9L492.5 1129.9L493.0 1129.5L493.5 1129.1L494.0 1129.6L494.5 1130.2L495.0 1129.8L495.5 1129.3L496.0 1129.9L496.5 1130.5L497.0 1130.3L497.5 1130.0L498.0 1129.7L498.5 1129.5L499.0 1129.9L499.5 1130.3L500.0 1129.9L500.5 1129.5L501.0 1129.5L501.5 1129.5L502.0 1129.3L502.5 1129.2L503.0 1129.8L503.5 1130.3L504.0 1130.3L504.5 1130.2L505.0 1130.3L505.5 1130.3L506.0 1130.3L506.5 1130.2L507.0 1130.8L507.5 1131.4L508.0 1130.9L508.5 1130.4L509.0 1130.3L509.5 1130.3L510.0 1130.9L510.5 1131.5L511.0 1131.6L511.5 1131.7L512.0 1131.5L512.5 1131.2L513.0 1130.6L513.5 1130.0L514.0 1130.4L514.5 1130.8L515.0 1131.2L515.5 1131.6L516.0 1131.5L516.5 1131.3L517.0 1131.9L517.5 1132.4L518.0 1131.5L518.5 1130.7L519.0 1131.4L519.5 1132.0L520.0 1131.7L520.5 1131.3L521.0 1132.0L521.5 1132.6L522.0 1132.2L522.5 1131.8L523.0 1132.2L523.5 1132.6L524.0 1132.1L524.5 1131.7L525.0 1131.5L525.5 1131.3L526.0 1131.5L526.5 1131.6L527.0 1131.8L527.5 1132.0L528.0 1131.9L528.5 1131.8L529.0 1132.6L529.5 1133.3L530.0 1133.4L530.5 1133.5L531.0 1133.2L531.5 1132.9L532.0 1132.6L532.5 1132.2L533.0 1132.6L533.5 1132.9L534.0 1132.8L534.5 1132.6L535.0 1133.3L535.5 1134.0L536.0 1133.7L536.5 1133.4L537.0 1133.5L537.5 1133.6L538.0 1133.4L538.5 1133.2L539.0 1132.8L539.5 1132.3L540.0 1132.7L540.5 1133.2L541.0 1133.1L541.5 1133.1L542.0 1133.5L542.5 1134.0L543.0 1134.0L543.5 1134.0L544.0 1133.8L544.5 1133.5L545.0 1133.7L545.5 1133.9L546.0 1134.5L546.5 1135.1L547.0 1134.4L547.5 1133.7L548.0 1133.8L548.5 1133.8L549.0 1134.1L549.5 1134.4L550.0 1134.3L550.5 1134.2L551.0 1134.3L551.5 1134.4L552.0 1134.8L552.5 1135.1L553.0 1135.5L553.5 1135.9L554.0 1134.9L554.5 1133.9L555.0 1134.5L555.5 1135.1L556.0 1135.1L556.5 1135.2L557.0 1135.2L557.5 1135.2L558.0 1135.2L558.5 1135.2L559.0 1135.2L559.5 1135.2L560.0 1135.7L560.5 1136.1L561.0 1135.7L561.5 1135.3L562.0 1135.5L562.5 1135.6L563.0 1135.7L563.5 1135.8L564.0 1135.9L564.5 1136.0L565.0 1135.9L565.5 1135.9L566.0 1136.3L566.5 1136.7L567.0 1136.4L567.5 1136.2L568.0 1136.3L568.5 1136.4L569.0 1136.3L569.5 1136.3L570.0 1136.1L570.5 1135.8L571.0 1135.9L571.5 1136.0L572.0 1136.0L572.5 1136.0L573.0 1136.4L573.5 1136.8L574.0 1136.6L574.5 1136.3L575.0 1136.3L575.5 1136.2L576.0 1136.6L576.5 1137.1L577.0 1137.2L577.5 1137.3L578.0 1136.7L578.5 1136.0L579.0 1137.1L579.5 1138.2L580.0 1137.7L580.5 1137.3L581.0 1137.3L581.5 1137.3L582.0 1137.7L582.5 1138.0L583.0 1137.8L583.5 1137.5L584.0 1137.4L584.5 1137.2L585.0 1138.1L585.5 1139.0L586.0 1138.0L586.5 1137.1L587.0 1137.4L587.5 1137.7L588.0 1138.0L588.5 1138.4L589.0 1137.8L589.5 1137.3L590.0 1137.6L590.5 1137.9L591.0 1138.1L591.5 1138.3L592.0 1138.9L592.5 1139.6L593.0 1138.6L593.5 1137.7L594.0 1137.9L594.5 1138.2L595.0 1138.5L595.5 1138.7L596.0 1138.6L596.5 1138.4L597.0 1138.1L597.5 1137.7L598.0 1138.2L598.5 1138.8L599.0 1138.7L599.5 1138.6L600.0 1138.8L600.5 1138.9L601.0 1139.1L601.5 1139.4L602.0 1139.4L602.5 1139.3L603.0 1139.2L603.5 1139.0L604.0 1139.0L604.5 1139.0L605.0 1138.6L605.5 1138.2L606.0 1138.6L606.5 1138.9L607.0 1139.0L607.5 1139.1L608.0 1139.0L608.5 1138.8L609.0 1139.0L609.5 1139.2L610.0 1138.9L610.5 1138.7L611.0 1139.4L611.5 1140.1L612.0 1140.4L612.5 1140.6L613.0 1139.8L613.5 1139.1L614.0 1139.4L614.5 1139.6L615.0 1139.4L615.5 1139.3L616.0 1139.8L616.5 1140.2L617.0 1140.0L617.5 1139.8L618.0 1139.7L618.5 1139.6L619.0 1139.6L619.5 1139.5L620.0 1139.6L620.5 1139.7L621.0 1139.4L621.5 1139.1L622.0 1139.6L622.5 1140.2L623.0 1139.8L623.5 1139.4L624.0 1139.8L624.5 1140.2L625.0 1140.1L625.5 1140.0L626.0 1140.3L626.5 1140.6L627.0 1140.3L627.5 1140.0L628.0 1140.3L628.5 1140.7L629.0 1140.1L629.5 1139.5L630.0 1140.0L630.5 1140.5L631.0 1140.3L631.5 1140.0L632.0 1140.2L632.5 1140.3L633.0 1140.3L633.5 1140.3L634.0 1140.6L634.5 1140.9L635.0 1140.0L635.5 1139.1L636.0 1139.9L636.5 1140.6L637.0 1140.1L637.5 1139.5L638.0 1140.4L638.5 1141.2L639.0 1140.3L639.5 1139.3L640.0 1139.6L640.5 1140.0L641.0 1139.8L641.5 1139.6L642.0 1140.6L642.5 1141.6L643.0 1140.8L643.5 1139.9L644.0 1140.3L644.5 1140.8L645.0 1140.6L645.5 1140.4L646.0 1140.1L646.5 1139.7L647.0 1140.2L647.5 1140.6L648.0 1141.0L648.5 1141.3L649.0 1141.0L649.5 1140.8L650.0 1141.2L650.5 1141.5L651.0 1141.2L651.5 1140.8L652.0 1140.9L652.5 1141.0L653.0 1140.9L653.5 1140.8L654.0 1141.1L654.5 1141.3L655.0 1141.8L655.5 1142.3L656.0 1141.9L656.5 1141.4L657.0 1141.4L657.5 1141.3L658.0 1141.1L658.5 1140.9L659.0 1140.9L659.5 1140.9L660.0 1141.5L660.5 1142.2L661.0 1141.5L661.5 1140.7L662.0 1140.8L662.5 1140.9L663.0 1141.1L663.5 1141.4L664.0 1141.3L664.5 1141.2L665.0 1142.0L665.5 1142.7L666.0 1141.4L666.5 1140.2L667.0 1141.0L667.5 1141.8L668.0 1142.0L668.5 1142.1L669.0 1141.5L669.5 1141.0L670.0 1141.2L670.5 1141.3L671.0 1141.7L671.5 1142.0L672.0 1142.4L672.5 1142.8L673.0 1142.0L673.5 1141.3L674.0 1141.1L674.5 1140.9L675.0 1141.7L675.5 1142.5L676.0 1142.7L676.5 1142.9L677.0 1142.3L677.5 1141.8L678.0 1141.2L678.5 1140.7L679.0 1141.8L679.5 1142.9L680.0 1142.5L680.5 1142.0L681.0 1142.4L681.5 1142.8L682.0 1142.5L682.5 1142.2L683.0 1142.1L683.5 1142.0L684.0 1142.0L684.5 1142.0L685.0 1142.6L685.5 1143.2L686.0 1143.2L686.5 1143.2L687.0 1142.2L687.5 1141.1L688.0 1141.5L688.5 1141.9L689.0 1142.7L689.5 1143.5L690.0 1142.9L690.5 1142.3L691.0 1142.0L691.5 1141.7L692.0 1142.2L692.5 1142.6L693.0 1142.6L693.5 1142.6L694.0 1142.6L694.5 1142.6L695.0 1142.5L695.5 1142.4L696.0 1142.5L696.5 1142.6L697.0 1142.5L697.5 1142.5L698.0 1142.8L698.5 1143.0L699.0 1142.7L699.5 1142.4L700.0 1142.6L700.5 1142.7L701.0 1142.8L701.5 1142.9L702.0 1143.3L702.5 1143.8L703.0 1143.5L703.5 1143.3L704.0 1143.1L704.5 1143.0L705.0 1143.2L705.5 1143.4L706.0 1143.4L706.5 1143.4L707.0 1143.6L707.5 1143.9L708.0 1143.7L708.5 1143.6L709.0 1144.0L709.5 1144.4L710.0 1144.3L710.5 1144.2L711.0 1143.8L711.5 1143.4L712.0 1143.3L712.5 1143.2L713.0 1143.6L713.5 1144.0L714.0 1143.9L714.5 1143.9L715.0 1143.7L715.5 1143.5L716.0 1143.2L716.5 1142.8L717.0 1142.7L717.5 1142.6L718.0 1143.3L718.5 1144.0L719.0 1144.1L719.5 1144.3L720.0 1144.3L720.5 1144.3L721.0 1143.7L721.5 1143.1L722.0 1143.8L722.5 1144.6L723.0 1144.1L723.5 1143.7L724.0 1144.0L724.5 1144.3L725.0 1144.3L725.5 1144.4L726.0 1144.0L726.5 1143.7L727.0 1143.8L727.5 1143.8L728.0 1143.4L728.5 1143.0L729.0 1143.4L729.5 1143.8L730.0 1143.5L730.5 1143.3L731.0 1144.0L731.5 1144.7L732.0 1144.6L732.5 1144.5L733.0 1144.8L733.5 1145.1L734.0 1144.9L734.5 1144.8L735.0 1144.5L735.5 1144.2L736.0 1144.6L736.5 1144.9L737.0 1144.7L737.5 1144.5L738.0 1144.8L738.5 1145.1L739.0 1145.1L739.5 1145.0L740.0 1144.6L740.5 1144.3L741.0 1144.6L741.5 1144.9L742.0 1145.0L742.5 1145.0L743.0 1144.9L743.5 1144.8L744.0 1145.2L744.5 1145.6L745.0 1145.9L745.5 1146.1L746.0 1145.6L746.5 1145.0L747.0 1145.0L747.5 1145.0L748.0 1144.5L748.5 1143.9L749.0 1144.6L749.5 1145.2L750.0 1145.2L750.5 1145.1L751.0 1144.6L751.5 1144.1L752.0 1144.9L752.5 1145.6L753.0 1145.7L753.5 1145.9L754.0 1145.5L754.5 1145.1L755.0 1145.2L755.5 1145.4L756.0 1145.2L756.5 1145.1L757.0 1145.6L757.5 1146.1L758.0 1145.5L758.5 1144.8L759.0 1145.2L759.5 1145.6L760.0 1146.3L760.5 1147.0L761.0 1146.4L761.5 1145.9L762.0 1146.0L762.5 1146.2L763.0 1146.0L763.5 1145.9L764.0 1145.6L764.5 1145.3L765.0 1145.6L765.5 1146.0L766.0 1146.2L766.5 1146.3L767.0 1145.9L767.5 1145.5L768.0 1145.9L768.5 1146.4L769.0 1146.6L769.5 1146.9L770.0 1146.9L770.5 1146.9L771.0 1146.1L771.5 1145.3L772.0 1145.5L772.5 1145.7L773.0 1145.5L773.5 1145.4L774.0 1146.2L774.5 1147.0L775.0 1146.9L775.5 1146.8L776.0 1146.8L776.5 1146.8L777.0 1146.4L777.5 1145.9L778.0 1145.8L778.5 1145.8L779.0 1146.2L779.5 1146.5L780.0 1146.6L780.5 1146.6L781.0 1146.3L781.5 1146.0L782.0 1146.4L782.5 1146.7L783.0 1146.8L783.5 1147.0L784.0 1146.9L784.5 1146.8L785.0 1146.4L785.5 1146.0L786.0 1145.7L786.5 1145.4L787.0 1146.0L787.5 1146.5L788.0 1146.7L788.5 1146.8L789.0 1146.7L789.5 1146.5L790.0 1146.5L790.5 1146.5L791.0 1146.4L791.5 1146.3L792.0 1146.7L792.5 1147.2L793.0 1146.9L793.5 1146.7L794.0 1146.8L794.5 1146.8L795.0 1146.5L795.5 1146.1L796.0 1146.3L796.5 1146.4L797.0 1146.6L797.5 1146.8L798.0 1146.5L798.5 1146.1L799.0 1146.0L799.5 1145.9L800.0 1146.2L800.5 1146.5L801.0 1146.9L801.5 1147.4L802.0 1147.1L802.5 1146.7L803.0 1147.1L803.5 1147.5L804.0 1147.0L804.5 1146.5L805.0 1146.4L805.5 1146.3L806.0 1146.0L806.5 1145.6L807.0 1145.8L807.5 1146.0L808.0 1146.6L808.5 1147.1L809.0 1146.7L809.5 1146.3L810.0 1146.4L810.5 1146.4L811.0 1146.3L811.5 1146.2L812.0 1145.9L812.5 1145.5L813.0 1145.3L813.5 1145.0L814.0 1144.9L814.5 1144.7L815.0 1144.6L815.5 1144.3L816.0 1143.8L816.5 1143.1L817.0 1142.3L817.5 1141.3L818.0 1139.8L818.5 1137.7L819.0 1134.6L819.5 1129.7L820.0 1121.2L820.5 1104.7L821.0 1074.5L821.5 1030.4L822.0 993.6L822.1 991.3L822.5 997.1L823.0 1019.5L823.5 1034.1L824.0 1052.4L824.5 1082.0L825.0 1107.6L825.5 1122.5L826.0 1130.4L826.5 1134.9L827.0 1137.5L827.5 1139.7L828.0 1141.3L828.5 1142.7L829.0 1143.9L829.5 1144.0L830.0 1144.1L830.5 1144.7L831.0 1145.2L831.5 1145.3L832.0 1145.4L832.5 1145.5L833.0 1145.5L833.5 1146.7L834.0 1147.9L834.5 1147.0L835.0 1146.2L835.5 1146.1L836.0 1146.0L836.5 1146.1L837.0 1146.2L837.5 1146.5L838.0 1146.8L838.5 1146.9L839.0 1146.9L839.5 1147.1L840.0 1147.2L840.5 1147.0L841.0 1146.9L841.5 1146.4L842.0 1146.0L842.5 1146.6L843.0 1147.2L843.5 1147.0L844.0 1146.8L844.5 1146.8L845.0 1146.8L845.5 1146.5L846.0 1146.1L846.5 1146.4L847.0 1146.7L847.5 1146.7L848.0 1146.6L848.5 1146.8L849.0 1147.1L849.5 1146.7L850.0 1146.2L850.5 1146.7L851.0 1147.2L851.5 1147.2L852.0 1147.2L852.5 1146.9L853.0 1146.5L853.5 1146.6L854.0 1146.8L854.5 1146.7L855.0 1146.7L855.5 1147.2L856.0 1147.8L856.5 1146.7L857.0 1145.7L857.5 1146.4L858.0 1147.0L858.5 1146.6L859.0 1146.3L859.5 1146.6L860.0 1147.0L860.5 1147.4L861.0 1147.8L861.5 1147.3L862.0 1146.9L862.5 1147.1L863.0 1147.4L863.5 1147.1L864.0 1146.8L864.5 1147.6L865.0 1148.5L865.5 1148.2L866.0 1147.9L866.5 1147.9L867.0 1148.0L867.5 1147.3L868.0 1146.5L868.5 1146.6L869.0 1146.7L869.5 1147.3L870.0 1148.0L870.5 1147.6L871.0 1147.2L871.5 1147.2L872.0 1147.2L872.5 1147.4L873.0 1147.6L873.5 1147.1L874.0 1146.6L874.5 1147.2L875.0 1147.8L875.5 1147.6L876.0 1147.4L876.5 1147.5L877.0 1147.7L877.5 1147.3L878.0 1147.0L878.5 1147.4L879.0 1147.7L879.5 1147.4L880.0 1147.0L880.5 1147.5L881.0 1148.0L881.5 1148.0L882.0 1148.1L882.5 1148.0L883.0 1148.0L883.5 1147.9L884.0 1147.7L884.5 1147.8L885.0 1147.8L885.5 1146.8L886.0 1145.8L886.5 1146.9L887.0 1148.0L887.5 1147.6L888.0 1147.3L888.5 1147.4L889.0 1147.5L889.5 1147.4L890.0 1147.3L890.5 1147.0L891.0 1146.6L891.5 1146.9L892.0 1147.2L892.5 1147.5L893.0 1147.9L893.5 1148.1L894.0 1148.3L894.5 1147.7L895.0 1147.1L895.5 1147.0L896.0 1146.9L896.5 1147.7L897.0 1148.4L897.5 1147.7L898.0 1147.0L898.5 1147.9L899.0 1148.7L899.5 1148.1L900.0 1147.5L900.5 1147.3L901.0 1147.0L901.5 1147.5L902.0 1148.1L902.5 1148.3L903.0 1148.5L903.5 1147.6L904.0 1146.7L904.5 1147.6L905.0 1148.5L905.5 1147.9L906.0 1147.4L906.5 1147.9L907.0 1148.4L907.5 1147.9L908.0 1147.3L908.5 1147.0L909.0 1146.6L909.5 1147.2L910.0 1147.8L910.5 1148.0L911.0 1148.1L911.5 1148.5L912.0 1148.8L912.5 1148.7L913.0 1148.6L913.5 1148.3L914.0 1148.0L914.5 1147.7L915.0 1147.4L915.5 1147.3L916.0 1147.3L916.5 1147.3L917.0 1147.4L917.5 1147.2L918.0 1147.1L918.5 1147.2L919.0 1147.4L919.5 1146.7L920.0 1146.1L920.5 1146.9L921.0 1147.7L921.5 1147.6L922.0 1147.6L922.5 1148.3L923.0 1149.1L923.5 1148.6L924.0 1148.0L924.5 1147.7L925.0 1147.3L925.5 1147.6L926.0 1147.9L926.5 1147.4L927.0 1146.9L927.5 1147.1L928.0 1147.2L928.5 1146.9L929.0 1146.5L929.5 1147.5L930.0 1148.5L930.5 1148.2L931.0 1148.0L931.5 1147.4L932.0 1146.9L932.5 1147.2L933.0 1147.6L933.5 1147.9L934.0 1148.2L934.5 1148.1L935.0 1147.9L935.5 1147.9L936.0 1147.9L936.5 1147.5L937.0 1147.1L937.5 1147.2L938.0 1147.2L938.5 1147.5L939.0 1147.7L939.5 1147.9L940.0 1148.2L940.5 1147.7L941.0 1147.1L941.5 1147.1L942.0 1147.0L942.5 1147.6L943.0 1148.3L943.5 1147.7L944.0 1147.1L944.5 1147.7L945.0 1148.3L945.5 1148.0L946.0 1147.8L946.5 1148.0L947.0 1148.2L947.5 1148.4L948.0 1148.7L948.5 1148.4L949.0 1148.1L949.5 1148.1L950.0 1148.1L950.5 1147.6L951.0 1147.1L951.5 1147.2L952.0 1147.2L952.5 1147.7L953.0 1148.1L953.5 1148.3L954.0 1148.6L954.5 1148.5L955.0 1148.5L955.5 1148.8L956.0 1149.1L956.5 1148.5L957.0 1147.9L957.5 1147.8L958.0 1147.8L958.5 1148.0L959.0 1148.3L959.5 1148.0L960.0 1147.7L960.5 1147.7L961.0 1147.6L961.5 1147.4L962.0 1147.1L962.5 1147.7L963.0 1148.3L963.5 1147.7L964.0 1147.0L964.5 1147.5L965.0 1148.0L965.5 1147.4L966.0 1146.8L966.5 1147.6L967.0 1148.4L967.5 1147.7L968.0 1147.1L968.5 1147.6L969.0 1148.2L969.5 1147.5L970.0 1146.8L970.5 1147.1L971.0 1147.4L971.5 1147.9L972.0 1148.4L972.5 1147.8L973.0 1147.2L973.5 1147.5L974.0 1147.8L974.5 1147.6L975.0 1147.4L975.5 1146.9L976.0 1146.3L976.5 1147.1L977.0 1147.9L977.5 1147.9L978.0 1148.0L978.5 1147.5L979.0 1147.1L979.5 1147.6L980.0 1148.1L980.5 1147.7L981.0 1147.2L981.5 1147.2L982.0 1147.1L982.5 1147.4L983.0 1147.7L983.5 1147.5L984.0 1147.3L984.5 1148.2L985.0 1149.1L985.5 1148.0L986.0 1146.8L986.5 1147.5L987.0 1148.2L987.5 1148.3L988.0 1148.3L988.5 1147.4L989.0 1146.5L989.5 1146.6L990.0 1146.7L990.5 1147.4L991.0 1148.1L991.5 1147.8L992.0 1147.4L992.5 1147.7L993.0 1148.0L993.5 1148.2L994.0 1148.4L994.5 1148.0L995.0 1147.5L995.5 1147.3L996.0 1147.1L996.5 1146.6L997.0 1146.1L997.5 1147.0L998.0 1147.9L998.5 1147.5L999.0 1147.2L999.5 1147.6L1000.0 1147.9L1000.5 1147.9L1001.0 1147.9L1001.5 1147.4L1002.0 1146.9L1002.5 1147.8L1003.0 1148.8L1003.5 1148.6L1004.0 1148.4L1004.5 1148.3L1005.0 1148.2L1005.5 1147.6L1006.0 1147.0L1006.5 1147.2L1007.0 1147.5L1007.5 1147.4L1008.0 1147.4L1008.5 1147.4L1009.0 1147.5L1009.5 1147.2L1010.0 1147.0L1010.5 1147.5L1011.0 1147.9L1011.5 1147.9L1012.0 1147.8L1012.5 1147.8L1013.0 1147.9L1013.5 1147.6L1014.0 1147.3L1014.5 1147.9L1015.0 1148.4L1015.5 1148.1L1016.0 1147.7L1016.5 1146.8L1017.0 1145.9L1017.5 1146.5L1018.0 1147.1L1018.5 1147.3L1019.0 1147.4L1019.5 1147.7L1020.0 1148.0L1020.5 1147.6L1021.0 1147.1L1021.5 1147.1L1022.0 1147.0L1022.5 1146.8L1023.0 1146.6L1023.5 1146.9L1024.0 1147.2L1024.5 1146.7L1025.0 1146.1L1025.5 1145.8L1026.0 1145.3L1026.5 1144.8L1027.0 1144.0L1027.5 1143.2L1028.0 1141.4L1028.5 1137.2L1029.0 1130.0L1029.5 1119.5L1030.0 1108.5L1030.3 1106.3L1030.5 1107.3L1031.0 1113.4L1031.5 1119.1L1032.0 1121.4L1032.5 1122.5L1033.0 1127.0L1033.5 1133.5L1034.0 1138.9L1034.5 1142.5L1035.0 1144.4L1035.5 1145.5L1036.0 1145.6L1036.5 1145.6L1037.0 1146.1L1037.5 1146.4L1038.0 1146.3L1038.5 1146.1L1039.0 1147.1L1039.5 1148.1L1040.0 1147.8L1040.5 1147.5L1041.0 1147.9L1041.5 1148.2L1042.0 1147.8L1042.5 1147.3L1043.0 1146.8L1043.5 1146.3L1044.0 1147.4L1044.5 1148.5L1045.0 1148.1L1045.5 1147.7L1046.0 1147.7L1046.5 1147.8L1047.0 1147.7L1047.5 1147.7L1048.0 1147.9L1048.5 1148.1L1049.0 1148.1L1049.5 1148.1L1050.0 1147.4L1050.5 1146.8L1051.0 1147.6L1051.5 1148.4L1052.0 1148.0L1052.5 1147.5L1053.0 1147.5L1053.5 1147.5L1054.0 1148.2L1054.5 1148.9L1055.0 1148.6L1055.5 1148.4L1056.0 1148.0L1056.5 1147.6L1057.0 1147.2L1057.5 1146.7L1058.0 1147.3L1058.5 1147.9L1059.0 1148.1L1059.5 1148.2L1060.0 1148.0L1060.5 1147.8L1061.0 1147.5L1061.5 1147.1L1062.0 1147.3L1062.5 1147.4L1063.0 1147.3L1063.5 1147.1L1064.0 1147.6L1064.5 1148.0L1065.0 1148.2L1065.5 1148.4L1066.0 1148.4L1066.5 1148.5L1067.0 1148.0L1067.5 1147.5L1068.0 1147.7L1068.5 1148.0L1069.0 1148.1L1069.5 1148.2L1070.0 1147.9L1070.5 1147.6L1071.0 1147.7L1071.5 1147.8L1072.0 1148.5L1072.5 1149.2L1073.0 1148.6L1073.5 1148.0L1074.0 1148.2L1074.5 1148.4L1075.0 1148.1L1075.5 1147.7L1076.0 1147.8L1076.5 1147.9L1077.0 1147.4L1077.5 1146.9L1078.0 1147.4L1078.5 1147.9L1079.0 1148.3L1079.5 1148.6L1080.0 1148.9L1080.5 1149.2L1081.0 1148.9L1081.5 1148.6L1082.0 1148.5L1082.5 1148.3L1083.0 1148.2L1083.5 1148.0L1084.0 1147.8L1084.5 1147.6L1085.0 1147.7L1085.5 1147.8L1086.0 1148.1L1086.5 1148.3L1087.0 1147.9L1087.5 1147.5L1088.0 1148.0L1088.5 1148.5L1089.0 1147.9L1089.5 1147.3L1090.0 1147.1L1090.5 1146.9L1091.0 1147.1L1091.5 1147.3L1092.0 1147.1L1092.5 1146.9L1093.0 1147.0L1093.5 1147.1L1094.0 1147.8L1094.5 1148.6L1095.0 1148.2L1095.5 1147.8L1096.0 1147.9L1096.5 1148.0L1097.0 1148.3L1097.5 1148.5L1098.0 1148.6L1098.5 1148.6L1099.0 1148.0L1099.5 1147.5L1100.0 1148.0L1100.5 1148.5L1101.0 1148.2L1101.5 1147.8L1102.0 1147.6L1102.5 1147.4L1103.0 1147.4L1103.5 1147.4L1104.0 1146.5L1104.5 1145.4L1105.0 1144.5L1105.5 1143.0L1106.0 1140.6L1106.5 1138.3L1106.8 1137.8L1107.0 1138.2L1107.5 1139.5L1108.0 1140.9L1108.5 1141.6L1109.0 1141.6L1109.5 1142.5L1110.0 1144.2L1110.5 1145.8L1111.0 1147.0L1111.5 1147.4L1112.0 1147.6L1112.5 1147.9L1113.0 1148.2L1113.5 1147.8L1114.0 1147.4L1114.5 1147.5L1115.0 1147.6L1115.5 1147.8L1116.0 1148.0L1116.5 1147.8L1117.0 1147.7L1117.5 1147.6L1118.0 1147.6L1118.5 1148.2L1119.0 1148.9L1119.5 1148.4L1120.0 1147.8L1120.5 1147.6L1121.0 1147.4L1121.5 1147.8L1122.0 1148.2L1122.5 1148.7L1123.0 1149.1L1123.5 1148.5L1124.0 1148.0L1124.5 1148.4L1125.0 1148.7L1125.5 1148.2L1126.0 1147.7L1126.5 1147.7L1127.0 1147.7L1127.5 1147.6L1128.0 1147.6L1128.5 1147.7L1129.0 1147.9L1129.5 1148.5L1130.0 1149.1L1130.5 1148.2L1131.0 1147.3L1131.5 1148.1L1132.0 1149.0L1132.5 1148.2L1133.0 1147.4L1133.5 1147.6L1134.0 1147.9L1134.5 1148.2L1135.0 1148.5L1135.5 1148.4L1136.0 1148.4L1136.5 1148.3L1137.0 1148.2L1137.5 1147.6L1138.0 1147.0L1138.5 1147.6L1139.0 1148.2L1139.5 1147.8L1140.0 1147.3L1140.5 1148.4L1141.0 1149.5L1141.5 1148.6L1142.0 1147.8L1142.5 1147.9L1143.0 1148.0L1143.5 1147.6L1144.0 1147.2L1144.5 1147.4L1145.0 1147.6L1145.5 1147.3L1146.0 1147.0L1146.5 1147.7L1147.0 1148.3L1147.5 1147.9L1148.0 1147.5L1148.5 1147.7L1149.0 1147.9L1149.5 1147.5L1150.0 1147.0L1150.5 1146.9L1151.0 1146.8L1151.5 1147.2L1152.0 1147.5L1152.5 1146.4L1153.0 1145.2L1153.5 1144.0L1154.0 1142.1L1154.5 1139.9L1155.0 1135.9L1155.5 1129.5L1156.0 1124.8L1156.1 1124.7L1156.5 1126.4L1157.0 1131.1L1157.5 1134.6L1158.0 1134.7L1158.5 1133.8L1159.0 1135.6L1159.5 1139.3L1160.0 1141.9L1160.5 1143.6L1161.0 1145.6L1161.5 1147.1L1162.0 1147.5L1162.5 1147.7L1163.0 1147.4L1163.5 1147.0L1164.0 1147.2L1164.5 1147.4L1165.0 1147.3L1165.5 1147.2L1166.0 1147.5L1166.5 1147.9L1167.0 1148.2L1167.5 1148.5L1168.0 1147.8L1168.5 1147.0L1169.0 1147.7L1169.5 1148.5L1170.0 1147.8L1170.5 1147.2L1171.0 1147.3L1171.5 1147.5L1172.0 1147.2L1172.5 1146.9L1173.0 1148.1L1173.5 1149.3L1174.0 1148.7L1174.5 1148.1L1175.0 1148.1L1175.5 1148.2L1176.0 1147.9L1176.5 1147.6L1177.0 1148.2L1177.5 1148.7L1178.0 1147.8L1178.5 1146.8L1179.0 1147.4L1179.5 1148.1L1180.0 1148.7L1180.5 1149.4L1181.0 1148.6L1181.5 1147.9L1182.0 1148.0L1182.5 1148.1L1183.0 1148.3L1183.5 1148.5L1184.0 1148.1L1184.5 1147.6L1185.0 1147.9L1185.5 1148.1L1186.0 1148.4L1186.5 1148.7L1187.0 1148.5L1187.5 1148.2L1188.0 1148.3L1188.5 1148.3L1189.0 1148.1L1189.5 1147.9L1190.0 1148.1L1190.5 1148.3L1191.0 1148.2L1191.5 1148.2L1192.0 1148.6L1192.5 1149.0L1193.0 1148.8L1193.5 1148.6L1194.0 1148.3L1194.5 1148.0L1195.0 1147.3L1195.5 1146.7L1196.0 1147.6L1196.5 1148.6L1197.0 1148.6L1197.5 1148.6L1198.0 1148.1L1198.5 1147.6L1199.0 1147.2L1199.5 1146.9L1200.0 1147.2L1200.5 1147.4L1201.0 1148.1L1201.5 1148.7L1202.0 1148.1L1202.5 1147.5L1203.0 1147.7L1203.5 1147.8L1204.0 1148.0L1204.5 1148.2L1205.0 1148.5L1205.5 1148.8L1206.0 1148.5L1206.5 1148.1L1207.0 1148.0L1207.5 1148.0L1208.0 1147.9L1208.5 1147.7L1209.0 1148.4L1209.5 1149.0L1210.0 1148.9L1210.5 1148.7L1211.0 1148.3L1211.5 1148.0L1212.0 1147.6L1212.5 1147.1L1213.0 1147.3L1213.5 1147.5L1214.0 1147.9L1214.5 1148.2L1215.0 1147.8L1215.5 1147.4L1216.0 1147.8L1216.5 1148.3L1217.0 1148.0L1217.5 1147.8L1218.0 1147.7L1218.5 1147.5L1219.0 1147.4L1219.5 1147.3L1220.0 1146.9L1220.5 1146.2L1221.0 1144.7L1221.5 1142.3L1222.0 1139.4L1222.5 1135.5L1223.0 1132.8L1223.2 1133.1L1223.5 1132.6L1224.0 1134.5L1224.5 1137.4L1225.0 1138.7L1225.5 1138.8L1226.0 1139.1L1226.5 1140.3L1227.0 1142.2L1227.5 1143.9L1228.0 1145.0L1228.5 1145.7L1229.0 1146.0L1229.5 1146.8L1230.0 1147.5L1230.5 1147.8L1231.0 1148.0L1231.5 1148.2L1232.0 1148.3L1232.5 1147.9L1233.0 1147.5L1233.5 1147.7L1234.0 1148.0L1234.5 1147.3L1235.0 1146.5L1235.5 1146.7L1236.0 1146.9L1236.5 1146.5L1237.0 1146.0L1237.5 1145.9L1238.0 1145.9L1238.5 1145.8L1239.0 1145.7L1239.5 1145.5L1240.0 1145.5L1240.4 1144.8L1240.5 1144.2L1241.0 1145.0L1241.5 1145.8L1242.0 1145.6L1242.5 1145.4L1243.0 1145.5L1243.5 1145.7L1244.0 1146.2L1244.5 1146.7L1245.0 1146.5L1245.5 1146.3L1246.0 1146.9L1246.5 1147.5L1247.0 1147.7L1247.5 1147.9L1248.0 1147.8L1248.5 1147.7L1249.0 1148.0L1249.5 1148.2L1250.0 1148.0L1250.5 1147.8L1251.0 1147.9L1251.5 1148.0L1252.0 1147.6L1252.5 1147.2L1253.0 1147.7L1253.5 1148.1L1254.0 1147.9L1254.5 1147.6L1255.0 1147.7L1255.5 1147.9L1256.0 1148.0L1256.5 1148.1L1257.0 1148.2L1257.5 1148.3L1258.0 1147.7L1258.5 1147.2L1259.0 1147.2L1259.5 1147.3L1260.0 1147.6L1260.5 1148.0L1261.0 1148.3L1261.5 1148.5L1262.0 1148.5L1262.5 1148.4L1263.0 1148.6L1263.5 1148.8L1264.0 1148.9L1264.5 1149.0L1265.0 1148.8L1265.5 1148.5L1266.0 1148.4L1266.5 1148.2L1267.0 1147.9L1267.5 1147.6L1268.0 1147.7L1268.5 1147.7L1269.0 1147.8L1269.5 1148.0L1270.0 1148.2L1270.5 1148.4L1271.0 1148.4L1271.5 1148.4L1272.0 1148.3L1272.5 1148.3L1273.0 1148.2L1273.5 1148.2L1274.0 1148.4L1274.5 1148.7L1275.0 1148.5L1275.5 1148.4L1276.0 1148.4L1276.5 1148.5L1277.0 1148.5L1277.5 1148.5L1278.0 1148.2L1278.5 1148.0L1279.0 1147.8L1279.5 1147.7L1280.0 1148.1L1280.5 1148.6L1281.0 1148.6L1281.5 1148.5L1282.0 1148.4L1282.5 1148.2L1283.0 1148.1L1283.5 1148.1L1284.0 1148.9L1284.5 1149.7L1285.0 1148.8L1285.5 1147.8L1286.0 1148.0L1286.5 1148.2L1287.0 1148.3L1287.5 1148.5L1288.0 1148.0L1288.5 1147.6L1289.0 1148.0L1289.5 1148.4L1290.0 1148.9L1290.5 1149.4L1291.0 1149.1L1291.5 1148.9L1292.0 1148.8L1292.5 1148.7L1293.0 1148.7L1293.5 1148.7L1294.0 1148.5L1294.5 1148.4L1295.0 1148.6L1295.5 1148.9L1296.0 1148.6L1296.5 1148.2L1297.0 1148.2L1297.5 1148.1L1298.0 1148.2L1298.5 1148.4L1299.0 1148.6L1299.5 1148.9L1300.0 1148.7L1300.5 1148.5L1301.0 1148.6L1301.5 1148.7L1302.0 1147.9L1302.5 1147.1L1303.0 1148.1L1303.5 1149.1L1304.0 1149.4L1304.5 1149.7L1305.0 1149.4L1305.5 1149.1L1306.0 1148.6L1306.5 1148.2L1307.0 1148.0L1307.5 1147.8L1308.0 1148.2L1308.5 1148.5L1309.0 1148.1L1309.5 1147.8L1310.0 1148.3L1310.5 1148.8L1311.0 1148.4L1311.5 1148.0L1312.0 1148.5L1312.5 1148.9L1313.0 1149.0L1313.5 1149.2L1314.0 1148.2L1314.5 1147.1L1315.0 1147.8L1315.5 1148.5L1316.0 1148.2L1316.5 1147.9L1317.0 1147.7L1317.5 1147.5L1318.0 1147.8L1318.5 1148.0L1319.0 1148.1L1319.5 1148.2L1320.0 1148.6L1320.5 1149.0L1321.0 1148.2L1321.5 1147.5L1322.0 1148.2L1322.5 1149.0L1323.0 1149.3L1323.5 1149.6L1324.0 1149.2L1324.5 1148.7L1325.0 1148.7L1325.5 1148.7L1326.0 1148.5L1326.5 1148.4L1327.0 1148.0L1327.5 1147.7L1328.0 1148.2L1328.5 1148.7L1329.0 1148.7L1329.5 1148.6L1330.0 1148.7L1330.5 1148.8L1331.0 1149.4L1331.5 1149.9L1332.0 1149.4L1332.5 1148.8L1333.0 1148.7L1333.5 1148.6L1334.0 1149.0L1334.5 1149.3L1335.0 1148.4L1335.5 1147.6L1336.0 1147.6L1336.5 1147.7L1337.0 1147.9L1337.5 1148.2L1338.0 1148.1L1338.5 1148.0L1339.0 1148.4L1339.5 1148.8L1340.0 1148.5L1340.5 1148.2L1341.0 1148.8L1341.5 1149.4L1342.0 1149.4L1342.5 1149.3L1343.0 1149.1L1343.5 1148.9L1344.0 1148.5L1344.5 1148.2L1345.0 1148.5L1345.5 1148.8L1346.0 1148.8L1346.5 1148.9L1347.0 1148.3L1347.5 1147.8L1348.0 1148.2L1348.5 1148.6L1349.0 1148.7L1349.5 1148.8L1350.0 1148.7L1350.5 1148.5L1351.0 1148.9L1351.5 1149.3L1352.0 1149.2L1352.5 1149.1L1353.0 1148.5L1353.5 1147.9L1354.0 1148.2L1354.5 1148.5L1355.0 1148.2L1355.5 1147.9L1356.0 1148.3L1356.5 1148.8L1357.0 1148.3L1357.5 1147.9L1358.0 1148.4L1358.5 1149.0L1359.0 1148.8L1359.5 1148.6L1360.0 1148.8L1360.5 1149.0L1361.0 1148.7L1361.5 1148.3L1362.0 1147.9L1362.5 1147.5L1363.0 1148.5L1363.5 1149.5L1364.0 1148.9L1364.5 1148.3L1365.0 1148.8L1365.5 1149.2L1366.0 1149.0L1366.5 1148.7L1367.0 1148.8L1367.5 1148.8L1368.0 1149.2L1368.5 1149.5L1369.0 1149.1L1369.5 1148.6L1370.0 1148.9L1370.5 1149.3L1371.0 1148.4L1371.5 1147.5L1372.0 1148.2L1372.5 1148.9L1373.0 1148.6L1373.5 1148.3L1374.0 1148.3L1374.5 1148.3L1375.0 1148.4L1375.5 1148.4L1376.0 1148.5L1376.5 1148.6L1377.0 1149.0L1377.5 1149.4L1378.0 1148.4L1378.5 1147.3L1379.0 1147.9L1379.5 1148.5L1380.0 1148.2L1380.5 1148.0L1381.0 1148.6L1381.5 1149.1L1382.0 1148.7L1382.5 1148.2L1383.0 1148.4L1383.5 1148.7L1384.0 1148.5L1384.5 1148.2L1385.0 1148.5L1385.5 1148.8L1386.0 1148.9L1386.5 1149.0L1387.0 1148.6L1387.5 1148.2L1388.0 1148.3L1388.5 1148.5L1389.0 1148.0L1389.5 1147.6L1390.0 1148.1L1390.5 1148.6L1391.0 1148.8L1391.5 1149.0L1392.0 1148.5L1392.5 1148.1L1393.0 1148.6L1393.5 1149.1L1394.0 1148.2L1394.5 1147.2L1395.0 1147.3L1395.5 1147.3L1396.0 1147.5L1396.5 1147.6L1397.0 1147.9L1397.5 1148.1L1398.0 1148.3L1398.5 1148.5L1399.0 1148.4L1399.5 1148.4L1400.0 1148.4L1400.5 1148.4L1401.0 1148.6L1401.5 1148.9L1402.0 1148.5L1402.5 1148.2L1403.0 1147.9L1403.5 1147.7L1404.0 1147.7L1404.5 1147.7L1405.0 1148.7L1405.5 1149.7L1406.0 1148.4L1406.5 1147.0L1407.0 1147.7L1407.5 1148.3L1408.0 1148.8L1408.5 1149.3L1409.0 1149.0L1409.5 1148.7L1410.0 1148.3L1410.5 1147.9L1411.0 1148.2L1411.5 1148.4L1412.0 1148.7L1412.5 1149.0L1413.0 1149.1L1413.5 1149.2L1414.0 1148.5L1414.5 1147.9L1415.0 1148.4L1415.5 1148.9L1416.0 1148.7L1416.5 1148.6L1417.0 1148.8L1417.5 1149.1L1418.0 1149.2L1418.5 1149.3L1419.0 1148.7L1419.5 1148.2L1420.0 1147.9L1420.5 1147.6L1421.0 1148.1L1421.5 1148.7L1422.0 1149.1L1422.5 1149.5L1423.0 1149.2L1423.5 1148.8L1424.0 1148.7L1424.5 1148.6L1425.0 1149.2L1425.5 1149.9L1426.0 1148.8L1426.5 1147.8L1427.0 1148.4L1427.5 1149.0L1428.0 1148.5L1428.5 1148.1L1429.0 1148.3L1429.5 1148.4L1430.0 1148.4L1430.5 1148.5L1431.0 1148.9L1431.5 1149.3L1432.0 1148.6L1432.5 1147.8L1433.0 1148.0L1433.5 1148.1L1434.0 1147.8L1434.5 1147.4L1435.0 1148.1L1435.5 1148.7L1436.0 1148.4L1436.5 1148.1L1437.0 1148.4L1437.5 1148.6L1438.0 1148.2L1438.5 1147.7L1439.0 1147.9L1439.5 1148.1L1440.0 1148.5L1440.5 1149.0L1441.0 1148.6L1441.5 1148.2L1442.0 1148.5L1442.5 1148.7L1443.0 1148.7L1443.5 1148.6L1444.0 1148.3L1444.5 1148.1L1445.0 1147.7L1445.5 1147.3L1446.0 1148.1L1446.5 1148.8L1447.0 1148.6L1447.5 1148.3L1448.0 1148.6L1448.5 1148.8L1449.0 1147.9L1449.5 1147.0L1450.0 1147.1L1450.5 1147.2L1451.0 1147.0L1451.5 1146.8L1452.0 1147.2L1452.5 1147.5L1453.0 1148.1L1453.5 1148.6L1454.0 1148.5L1454.5 1148.3L1455.0 1148.1L1455.5 1147.9L1456.0 1147.9L1456.5 1147.9L1457.0 1148.0L1457.5 1148.2L1458.0 1147.8L1458.5 1147.4L1459.0 1147.5L1459.5 1147.7L1460.0 1147.5L1460.5 1147.3L1461.0 1146.5L1461.5 1145.7L1462.0 1146.1L1462.5 1146.5L1463.0 1146.8L1463.5 1147.1L1464.0 1146.3L1464.5 1145.4L1465.0 1145.1L1465.5 1144.6L1466.0 1143.9L1466.5 1143.0L1467.0 1142.0L1467.5 1140.7L1468.0 1139.2L1468.5 1136.8L1469.0 1131.5L1469.5 1122.7L1470.0 1108.9L1470.5 1088.4L1471.0 1062.9L1471.5 1042.7L1471.7 1041.0L1472.0 1045.4L1472.5 1063.9L1473.0 1083.7L1473.5 1096.0L1474.0 1098.6L1474.5 1094.6L1475.0 1089.4L1475.5 1091.5L1476.0 1102.9L1476.5 1115.4L1477.0 1125.1L1477.5 1133.1L1478.0 1138.3L1478.5 1140.8L1479.0 1142.4L1479.5 1143.2L1480.0 1143.7L1480.5 1144.8L1481.0 1145.7L1481.5 1145.4L1482.0 1145.0L1482.5 1145.5L1483.0 1145.8L1483.5 1145.9L1484.0 1146.0L1484.5 1146.3L1485.0 1146.5L1485.5 1147.2L1486.0 1147.9L1486.5 1147.3L1487.0 1146.8L1487.5 1146.9L1488.0 1147.0L1488.5 1147.1L1489.0 1147.2L1489.5 1147.6L1490.0 1148.0L1490.5 1147.9L1491.0 1147.7L1491.5 1148.1L1492.0 1148.5L1492.5 1148.1L1493.0 1147.6L1493.5 1147.5L1494.0 1147.3L1494.5 1147.6L1495.0 1147.8L1495.5 1148.0L1496.0 1148.2L1496.5 1147.9L1497.0 1147.6L1497.5 1148.0L1498.0 1148.4L1498.5 1148.9L1499.0 1149.3L1499.5 1148.6L1500.0 1147.9L1500.5 1148.1L1501.0 1148.3L1501.5 1148.7L1502.0 1149.1L1502.5 1148.5L1503.0 1147.9L1503.5 1147.9L1504.0 1147.8L1504.5 1147.7L1505.0 1147.7L1505.5 1148.1L1506.0 1148.6L1506.5 1148.6L1507.0 1148.6L1507.5 1148.4L1508.0 1148.2L1508.5 1148.3L1509.0 1148.3L1509.5 1148.7L1510.0 1149.1L1510.5 1148.9L1511.0 1148.8L1511.5 1148.1L1512.0 1147.4L1512.5 1147.8L1513.0 1148.3L1513.5 1148.3L1514.0 1148.3L1514.5 1148.5L1515.0 1148.6L1515.5 1148.3L1516.0 1148.0L1516.5 1147.9L1517.0 1147.7L1517.5 1147.8L1518.0 1147.8L1518.5 1147.4L1519.0 1146.9L1519.5 1147.4L1520.0 1147.9L1520.5 1147.6L1521.0 1147.4L1521.5 1147.6L1522.0 1147.8L1522.5 1147.2L1523.0 1146.6L1523.5 1146.5L1524.0 1146.4L1524.5 1145.8L1525.0 1145.1L1525.5 1144.3L1526.0 1143.0L1526.5 1141.4L1527.0 1138.3L1527.5 1132.4L1528.0 1124.7L1528.5 1117.8L1528.9 1115.5L1529.0 1115.1L1529.5 1118.9L1530.0 1125.9L1530.5 1131.5L1531.0 1133.4L1531.5 1132.5L1532.0 1130.8L1532.5 1129.6L1533.0 1130.9L1533.5 1134.7L1534.0 1139.0L1534.5 1142.4L1535.0 1144.3L1535.5 1145.5L1536.0 1146.1L1536.5 1146.5L1537.0 1147.2L1537.5 1147.7L1538.0 1147.7L1538.5 1147.7L1539.0 1147.9L1539.5 1148.1L1540.0 1148.3L1540.5 1148.4L1541.0 1148.2L1541.5 1148.0L1542.0 1148.0L1542.5 1148.0L1543.0 1148.2L1543.5 1148.4L1544.0 1148.2L1544.5 1148.0L1545.0 1148.3L1545.5 1148.5L1546.0 1148.8L1546.5 1149.0L1547.0 1148.9L1547.5 1148.9L1548.0 1148.5L1548.5 1148.2L1549.0 1147.9L1549.5 1147.6L1550.0 1148.0L1550.5 1148.4L1551.0 1148.4L1551.5 1148.4L1552.0 1148.8L1552.5 1149.1L1553.0 1148.7L1553.5 1148.3L1554.0 1148.3L1554.5 1148.4L1555.0 1148.7L1555.5 1148.9L1556.0 1148.6L1556.5 1148.2L1557.0 1148.3L1557.5 1148.4L1558.0 1149.0L1558.5 1149.6L1559.0 1149.5L1559.5 1149.4L1560.0 1149.2L1560.5 1148.9L1561.0 1148.8L1561.5 1148.7L1562.0 1148.3L1562.5 1148.0L1563.0 1148.4L1563.5 1148.9L1564.0 1148.7L1564.5 1148.6L1565.0 1148.6L1565.5 1148.7L1566.0 1148.5L1566.5 1148.3L1567.0 1148.4L1567.5 1148.6L1568.0 1148.5L1568.5 1148.5L1569.0 1148.6L1569.5 1148.8L1570.0 1149.1L1570.5 1149.4L1571.0 1149.1L1571.5 1148.8L1572.0 1148.2L1572.5 1147.6L1573.0 1147.8L1573.5 1148.0L1574.0 1147.8L1574.5 1147.6L1575.0 1147.9L1575.5 1148.1L1576.0 1148.5L1576.5 1148.9L1577.0 1148.9L1577.5 1148.8L1578.0 1148.5L1578.5 1148.2L1579.0 1148.5L1579.5 1148.8L1580.0 1148.5L1580.5 1148.2L1581.0 1148.0L1581.5 1147.8L1582.0 1147.8L1582.5 1147.8L1583.0 1147.9L1583.5 1148.1L1584.0 1148.8L1584.5 1149.5L1585.0 1148.6L1585.5 1147.8L1586.0 1148.6L1586.5 1149.4L1587.0 1149.4L1587.5 1149.4L1588.0 1149.0L1588.5 1148.5L1589.0 1148.6L1589.5 1148.6L1590.0 1148.4L1590.5 1148.3L1591.0 1148.4L1591.5 1148.6L1592.0 1148.8L1592.5 1149.0L1593.0 1148.8L1593.5 1148.6L1594.0 1148.9L1594.5 1149.2L1595.0 1149.3L1595.5 1149.3L1596.0 1149.1L1596.5 1148.8L1597.0 1148.8L1597.5 1148.8L1598.0 1148.7L1598.5 1148.6L1599.0 1148.7L1599.5 1148.9L1600.0 1148.4L1600.5 1148.0L1601.0 1148.4L1601.5 1148.9L1602.0 1148.8L1602.5 1148.8L1603.0 1148.5L1603.5 1148.1L1604.0 1149.0L1604.5 1149.9L1605.0 1149.0L1605.5 1148.1L1606.0 1148.1L1606.5 1148.1L1607.0 1148.5L1607.5 1148.8L1608.0 1148.2L1608.5 1147.5L1609.0 1147.8L1609.5 1148.2L1610.0 1148.0L1610.5 1147.7L1611.0 1147.9L1611.5 1148.1L1612.0 1148.3L1612.5 1148.6L1613.0 1148.7L1613.5 1148.9L1614.0 1149.1L1614.5 1149.3L1615.0 1149.2L1615.5 1149.1L1616.0 1149.3L1616.5 1149.4L1617.0 1149.2L1617.5 1149.0L1618.0 1148.7L1618.5 1148.4L1619.0 1148.9L1619.5 1149.3L1620.0 1148.9L1620.5 1148.4L1621.0 1148.3L1621.5 1148.3L1622.0 1148.9L1622.5 1149.6L1623.0 1149.4L1623.5 1149.1L1624.0 1149.0L1624.5 1148.8L1625.0 1149.0L1625.5 1149.1L1626.0 1149.2L1626.5 1149.2L1627.0 1148.5L1627.5 1147.9L1628.0 1148.2L1628.5 1148.6L1629.0 1148.3L1629.5 1148.0L1630.0 1148.4L1630.5 1148.7L1631.0 1148.5L1631.5 1148.3L1632.0 1148.9L1632.5 1149.5L1633.0 1149.2L1633.5 1149.0L1634.0 1148.6L1634.5 1148.2L1635.0 1148.4L1635.5 1148.7L1636.0 1148.3L1636.5 1148.0L1637.0 1148.3L1637.5 1148.7L1638.0 1148.9L1638.5 1149.0L1639.0 1148.9L1639.5 1148.8L1640.0 1148.2L1640.5 1147.5L1641.0 1148.0L1641.5 1148.5L1642.0 1148.7L1642.5 1149.0L1643.0 1148.9L1643.5 1148.9L1644.0 1149.1L1644.5 1149.4L1645.0 1148.6L1645.5 1147.9L1646.0 1148.5L1646.5 1149.0L1647.0 1148.6L1647.5 1148.3L1648.0 1148.5L1648.5 1148.8L1649.0 1148.9L1649.5 1148.9L1650.0 1149.0L1650.5 1149.1L1651.0 1148.7L1651.5 1148.3L1652.0 1148.6L1652.5 1148.8L1653.0 1148.4L1653.5 1148.0L1654.0 1147.9L1654.5 1147.8L1655.0 1148.4L1655.5 1149.0L1656.0 1148.8L1656.5 1148.6L1657.0 1148.2L1657.5 1147.7L1658.0 1147.9L1658.5 1148.2L1659.0 1148.4L1659.5 1148.7L1660.0 1149.1L1660.5 1149.6L1661.0 1149.4L1661.5 1149.3L1662.0 1149.2L1662.5 1149.1L1663.0 1148.3L1663.5 1147.6L1664.0 1148.1L1664.5 1148.6L1665.0 1148.7L1665.5 1148.9L1666.0 1148.9L1666.5 1148.8L1667.0 1148.8L1667.5 1148.8L1668.0 1148.6L1668.5 1148.4L1669.0 1149.0L1669.5 1149.6L1670.0 1149.4L1670.5 1149.3L1671.0 1148.8L1671.5 1148.3L1672.0 1147.9L1672.5 1147.5L1673.0 1148.2L1673.5 1148.8L1674.0 1147.5L1674.5 1146.0L1675.0 1145.3L1675.5 1144.5L1676.0 1143.8L1676.2 1143.9L1676.5 1143.2L1677.0 1143.4L1677.5 1144.9L1678.0 1146.1L1678.5 1146.3L1679.0 1146.1L1679.5 1146.0L1680.0 1145.8L1680.5 1145.7L1681.0 1146.0L1681.5 1147.2L1682.0 1148.3L1682.5 1148.4L1683.0 1148.3L1683.5 1148.3L1684.0 1148.3L1684.5 1148.7L1685.0 1149.1L1685.5 1148.7L1686.0 1148.3L1686.5 1148.3L1687.0 1148.3L1687.5 1149.1L1688.0 1149.9L1688.5 1149.0L1689.0 1148.1L1689.5 1148.2L1690.0 1148.3L1690.5 1148.4L1691.0 1148.6L1691.5 1148.3L1692.0 1147.9L1692.5 1147.6L1693.0 1147.3L1693.5 1148.2L1694.0 1149.2L1694.5 1148.6L1695.0 1148.1L1695.5 1148.1L1696.0 1148.2L1696.5 1148.2L1697.0 1148.3L1697.5 1148.1L1698.0 1147.9L1698.5 1147.8L1699.0 1147.8L1699.5 1148.1L1700.0 1148.4L1700.5 1149.1L1701.0 1149.7L1701.5 1149.1L1702.0 1148.5L1702.5 1148.5L1703.0 1148.3L1703.5 1147.5L1704.0 1146.6L1704.5 1146.8L1705.0 1146.8L1705.5 1145.8L1706.0 1144.3L1706.5 1143.2L1707.0 1141.1L1707.5 1137.3L1708.0 1133.4L1708.5 1131.8L1709.0 1133.3L1709.5 1136.6L1710.0 1139.6L1710.5 1141.4L1711.0 1142.0L1711.5 1141.4L1712.0 1140.0L1712.5 1139.4L1713.0 1139.9L1713.5 1140.8L1714.0 1142.1L1714.5 1143.9L1715.0 1145.2L1715.5 1146.3L1716.0 1147.1L1716.5 1147.3L1717.0 1147.4L1717.5 1147.8L1718.0 1148.3L1718.5 1148.6L1719.0 1148.9L1719.5 1148.7L1720.0 1148.5L1720.5 1148.5L1721.0 1148.6L1721.5 1148.5L1722.0 1148.5L1722.5 1148.8L1723.0 1149.1L1723.5 1148.3L1724.0 1147.5L1724.5 1148.2L1725.0 1148.8L1725.5 1148.4L1726.0 1148.1L1726.5 1148.0L1727.0 1147.9L1727.5 1148.3L1728.0 1148.7L1728.5 1148.6L1729.0 1148.4L1729.5 1148.7L1730.0 1149.0L1730.5 1149.2L1731.0 1149.4L1731.5 1148.3L1732.0 1147.3L1732.5 1148.0L1733.0 1148.7L1733.5 1149.3L1734.0 1149.9L1734.5 1149.6L1735.0 1149.2L1735.5 1149.4L1736.0 1149.6L1736.5 1149.2L1737.0 1148.8L1737.5 1148.3L1738.0 1147.9L1738.5 1148.0L1739.0 1148.1L1739.5 1148.6L1740.0 1149.2L1740.5 1149.2L1741.0 1149.3L1741.5 1148.8L1742.0 1148.3L1742.5 1148.5L1743.0 1148.6L1743.5 1148.8L1744.0 1148.9L1744.5 1148.3L1745.0 1147.7L1745.5 1148.1L1746.0 1148.6L1746.5 1149.1L1747.0 1149.7L1747.5 1149.9L1748.0 1150.1L1748.5 1149.4L1749.0 1148.7L1749.5 1149.3L1750.0 1149.9L1750.5 1149.2L1751.0 1148.5L1751.5 1148.4L1752.0 1148.3L1752.5 1147.9L1753.0 1147.4L1753.5 1148.4L1754.0 1149.4L1754.5 1149.0L1755.0 1148.6L1755.5 1149.4L1756.0 1150.2L1756.5 1149.6L1757.0 1149.0L1757.5 1148.9L1758.0 1148.9L1758.5 1148.3L1759.0 1147.7L1759.5 1148.7L1760.0 1149.7L1760.5 1149.1L1761.0 1148.6L1761.5 1148.6L1762.0 1148.7L1762.5 1148.1L1763.0 1147.5L1763.5 1148.4L1764.0 1149.3L1764.5 1149.4L1765.0 1149.4L1765.5 1148.9L1766.0 1148.4L1766.5 1148.6L1767.0 1148.8L1767.5 1148.9L1768.0 1149.0L1768.5 1149.2L1769.0 1149.4L1769.5 1149.1L1770.0 1148.9L1770.5 1149.3L1771.0 1149.8L1771.5 1149.2L1772.0 1148.6L1772.5 1148.5L1773.0 1148.4L1773.5 1148.5L1774.0 1148.5L1774.5 1147.9L1775.0 1147.3L1775.5 1147.8L1776.0 1148.3L1776.5 1148.9L1777.0 1149.4L1777.5 1149.2L1778.0 1149.0L1778.5 1148.6L1779.0 1148.3L1779.5 1148.7L1780.0 1149.0L1780.5 1148.3L1781.0 1147.6L1781.5 1148.1L1782.0 1148.6L1782.5 1148.9L1783.0 1149.1L1783.5 1149.2L1784.0 1149.2L1784.5 1148.8L1785.0 1148.3L1785.5 1148.8L1786.0 1149.3L1786.5 1149.6L1787.0 1149.9L1787.5 1149.2L1788.0 1148.5L1788.5 1148.9L1789.0 1149.2L1789.5 1148.5L1790.0 1147.9L1790.5 1147.7L1791.0 1147.6L1791.5 1148.4L1792.0 1149.1L1792.5 1149.0L1793.0 1148.8L1793.5 1148.9L1794.0 1148.9L1794.5 1148.7L1795.0 1148.4L1795.5 1148.5L1796.0 1148.6L1796.5 1148.9L1797.0 1149.3L1797.5 1149.5L1798.0 1149.8L1798.5 1149.2L1799.0 1148.6L1799.5 1148.2L1800.0 1147.8L1800.5 1148.6L1801.0 1149.5L1801.5 1149.3L1802.0 1149.1L1802.5 1149.1L1803.0 1149.1L1803.5 1149.0L1804.0 1148.8L1804.5 1149.5L1805.0 1150.1L1805.5 1149.4L1806.0 1148.8L1806.5 1148.9L1807.0 1149.0L1807.5 1148.3L1808.0 1147.6L1808.5 1147.9L1809.0 1148.3L1809.5 1148.3L1810.0 1148.2L1810.5 1148.4L1811.0 1148.6L1811.5 1148.7L1812.0 1148.8L1812.5 1148.5L1813.0 1148.1L1813.5 1148.8L1814.0 1149.6L1814.5 1148.7L1815.0 1147.8L1815.5 1148.0L1816.0 1148.2L1816.5 1148.3L1817.0 1148.5L1817.5 1148.0L1818.0 1147.5L1818.5 1148.0L1819.0 1148.5L1819.5 1148.4L1820.0 1148.3L1820.5 1147.9L1821.0 1147.5L1821.5 1148.0L1822.0 1148.5L1822.5 1147.7L1823.0 1146.8L1823.5 1146.5L1824.0 1145.9L1824.5 1144.7L1825.0 1142.9L1825.5 1140.4L1826.0 1136.7L1826.5 1131.9L1827.0 1125.6L1827.5 1119.1L1828.0 1116.0L1828.5 1118.7L1829.0 1124.8L1829.5 1131.2L1830.0 1135.8L1830.5 1136.9L1831.0 1136.1L1831.5 1134.9L1832.0 1132.8L1832.5 1130.4L1833.0 1130.4L1833.5 1134.1L1834.0 1138.7L1834.5 1141.3L1835.0 1143.0L1835.5 1144.6L1836.0 1145.6L1836.5 1146.0L1837.0 1146.2L1837.5 1147.1L1838.0 1147.9L1838.5 1147.7L1839.0 1147.4L1839.5 1147.7L1840.0 1147.9L1840.5 1147.3L1841.0 1146.6L1841.5 1147.5L1842.0 1148.4L1842.5 1148.1L1843.0 1147.6L1843.5 1147.4L1844.0 1146.8L1844.5 1146.1L1845.0 1145.0L1845.5 1143.0L1846.0 1141.1L1846.4 1140.6L1846.5 1140.6L1847.0 1141.8L1847.5 1143.6L1848.0 1144.9L1848.5 1145.8L1849.0 1146.0L1849.5 1145.8L1850.0 1145.5L1850.5 1145.0L1851.0 1144.3L1851.5 1144.3L1852.0 1145.3L1852.5 1146.6L1853.0 1147.4L1853.5 1148.0L1854.0 1148.1L1854.5 1148.1L1855.0 1148.8L1855.5 1149.5L1856.0 1148.5L1856.5 1147.5L1857.0 1148.0L1857.5 1148.4L1858.0 1149.0L1858.5 1149.6L1859.0 1149.0L1859.5 1148.4L1860.0 1148.1L1860.5 1147.7L1861.0 1148.6L1861.5 1149.6L1862.0 1149.3L1862.5 1149.1L1863.0 1148.6L1863.5 1148.0L1864.0 1148.6L1864.5 1149.2L1865.0 1148.7L1865.5 1148.2L1866.0 1148.1L1866.5 1148.0L1867.0 1148.4L1867.5 1148.7L1868.0 1148.6L1868.5 1148.5L1869.0 1148.3L1869.5 1148.2L1870.0 1148.4L1870.5 1148.6L1871.0 1148.4L1871.5 1148.2L1872.0 1148.6L1872.5 1148.9L1873.0 1148.9L1873.5 1148.8L1874.0 1149.1L1874.5 1149.3L1875.0 1148.9L1875.5 1148.6L1876.0 1148.3L1876.5 1148.1L1877.0 1148.1L1877.5 1148.1L1878.0 1148.4L1878.5 1148.7L1879.0 1149.3L1879.5 1149.8L1880.0 1149.6L1880.5 1149.4L1881.0 1148.9L1881.5 1148.5L1882.0 1149.0L1882.5 1149.4L1883.0 1148.8L1883.5 1148.2L1884.0 1148.8L1884.5 1149.5L1885.0 1149.1L1885.5 1148.7L1886.0 1149.0L1886.5 1149.3L1887.0 1149.3L1887.5 1149.3L1888.0 1149.0L1888.5 1148.7L1889.0 1148.9L1889.5 1149.1L1890.0 1148.7L1890.5 1148.2L1891.0 1148.5L1891.5 1148.8L1892.0 1149.2L1892.5 1149.5L1893.0 1150.5L1893.5 1151.4L1894.0 1150.3L1894.5 1149.3L1895.0 1149.1L1895.5 1149.0L1896.0 1148.6L1896.5 1148.3L1897.0 1148.9L1897.5 1149.5L1898.0 1148.7L1898.5 1147.9L1899.0 1148.2L1899.5 1148.4L1900.0 1148.8L1900.5 1149.1L1901.0 1148.7L1901.5 1148.2L1902.0 1149.0L1902.5 1149.8L1903.0 1149.7L1903.5 1149.6L1904.0 1149.1L1904.5 1148.6L1905.0 1148.6L1905.5 1148.6L1906.0 1148.3L1906.5 1148.1L1907.0 1148.1L1907.5 1148.1L1908.0 1148.6L1908.5 1149.2L1909.0 1149.2L1909.5 1149.3L1910.0 1149.2L1910.5 1149.1L1911.0 1149.1L1911.5 1149.1L1912.0 1148.8L1912.5 1148.6L1913.0 1148.9L1913.5 1149.1L1914.0 1148.6L1914.5 1148.0L1915.0 1148.5L1915.5 1148.9L1916.0 1149.4L1916.5 1149.8L1917.0 1149.8L1917.5 1149.7L1918.0 1149.2L1918.5 1148.6L1919.0 1148.7L1919.5 1148.7L1920.0 1149.2L1920.5 1149.8L1921.0 1149.9L1921.5 1150.0L1922.0 1149.0L1922.5 1148.0L1923.0 1148.4L1923.5 1148.7L1924.0 1148.9L1924.5 1149.1L1925.0 1149.4L1925.5 1149.7L1926.0 1149.0L1926.5 1148.4L1927.0 1148.9L1927.5 1149.3L1928.0 1149.0L1928.5 1148.8L1929.0 1149.6L1929.5 1150.4L1930.0 1149.8L1930.5 1149.2L1931.0 1149.0L1931.5 1148.9L1932.0 1148.8L1932.5 1148.7L1933.0 1149.2L1933.5 1149.6L1934.0 1149.5L1934.5 1149.3L1935.0 1148.8L1935.5 1148.3L1936.0 1148.7L1936.5 1149.1L1937.0 1148.6L1937.5 1148.1L1938.0 1148.3L1938.5 1148.5L1939.0 1148.3L1939.5 1148.2L1940.0 1148.2L1940.5 1148.1L1941.0 1148.3L1941.5 1148.5L1942.0 1148.4L1942.5 1148.4L1943.0 1148.8L1943.5 1149.3L1944.0 1149.3L1944.5 1149.4L1945.0 1149.1L1945.5 1148.8L1946.0 1148.5L1946.5 1148.3L1947.0 1148.9L1947.5 1149.4L1948.0 1148.6L1948.5 1147.7L1949.0 1147.8L1949.5 1147.8L1950.0 1148.6L1950.5 1149.4L1951.0 1149.4L1951.5 1149.3L1952.0 1149.4L1952.5 1149.5L1953.0 1149.2L1953.5 1148.8L1954.0 1148.5L1954.5 1148.2L1955.0 1148.4L1955.5 1148.6L1956.0 1149.0L1956.5 1149.3L1957.0 1148.9L1957.5 1148.5L1958.0 1148.5L1958.5 1148.5L1959.0 1148.3L1959.5 1148.1L1960.0 1148.2L1960.5 1148.3L1961.0 1148.9L1961.5 1149.5L1962.0 1149.3L1962.5 1149.2L1963.0 1148.7L1963.5 1148.3L1964.0 1148.3L1964.5 1148.3L1965.0 1148.5L1965.5 1148.6L1966.0 1149.0L1966.5 1149.3L1967.0 1148.8L1967.5 1148.3L1968.0 1148.6L1968.5 1148.9L1969.0 1148.3L1969.5 1147.7L1970.0 1147.9L1970.5 1148.2L1971.0 1148.7L1971.5 1149.2L1972.0 1149.4L1972.5 1149.5L1973.0 1148.9L1973.5 1148.3L1974.0 1148.4L1974.5 1148.5L1975.0 1149.0L1975.5 1149.4L1976.0 1149.1" fill="none" stroke="#000000" stroke-width="4.60" stroke-linejoin="round" stroke-linecap="butt" shape-rendering="crispEdges"/>
<rect x="397.00" y="1560.00" width="6.00" height="1162.00" fill="#000"/>
<rect x="1963.00" y="1560.00" width="6.00" height="1162.00" fill="#000"/>
<rect x="397.00" y="1560.00" width="1572.00" height="5.00" fill="#000"/>
<rect x="397.00" y="2717.00" width="1572.00" height="5.00" fill="#000"/>
<rect x="593.15" y="2708.30" width="5.20" height="10.00" fill="#000"/>
<rect x="788.90" y="2697.00" width="5.20" height="21.00" fill="#000"/>
<rect x="984.65" y="2708.30" width="5.20" height="10.00" fill="#000"/>
<rect x="1180.40" y="2697.00" width="5.20" height="21.00" fill="#000"/>
<rect x="1376.15" y="2708.30" width="5.20" height="10.00" fill="#000"/>
<rect x="1571.90" y="2697.00" width="5.20" height="21.00" fill="#000"/>
<rect x="1767.65" y="2708.30" width="5.20" height="10.00" fill="#000"/>
<text x="338.86" y="2800.30" font-size="80.90" textLength="121.48" lengthAdjust="spacingAndGlyphs" fill="#000">200</text>
<text x="731.89" y="2800.30" font-size="80.90" textLength="120.62" lengthAdjust="spacingAndGlyphs" fill="#000">400</text>
<text x="1121.49" y="2800.30" font-size="80.90" textLength="120.53" lengthAdjust="spacingAndGlyphs" fill="#000">600</text>
<text x="1515.41" y="2800.30" font-size="80.90" textLength="119.47" lengthAdjust="spacingAndGlyphs" fill="#000">800</text>
<text x="1883.86" y="2800.30" font-size="80.90" textLength="156.27" lengthAdjust="spacingAndGlyphs" fill="#000">1000</text>
<text x="30.57" y="1595.50" font-size="123.74" textLength="145.87" lengthAdjust="spacingAndGlyphs" fill="#000">(b)</text>
<rect x="1324.00" y="1617.00" width="161.00" height="2.00" fill="#000000"/>
<rect x="1324.00" y="1720.00" width="161.00" height="2.00" fill="#ff0000"/>
<rect x="1324.00" y="1809.00" width="161.00" height="2.00" fill="#0000ff"/>
<rect x="1324.00" y="1897.00" width="161.00" height="2.00" fill="#ff00ff"/>
<text x="1498.70" y="1641.40" font-size="61.89" textLength="249.08" lengthAdjust="spacingAndGlyphs" fill="#000">Pure-TiO</text>
<text x="1743.98" y="1660.30" font-size="35.17" textLength="20.25" lengthAdjust="spacingAndGlyphs" fill="#000">2</text>
<text x="1500.07" y="1744.20" font-size="63.40" textLength="269.99" lengthAdjust="spacingAndGlyphs" fill="#000">As-MTTO</text>
<text x="1499.66" y="1832.20" font-size="58.13" textLength="427.13" lengthAdjust="spacingAndGlyphs" fill="#000">Polished-MTTO</text>
<text x="1500.95" y="1920.40" font-size="59.86" textLength="453.29" lengthAdjust="spacingAndGlyphs" fill="#000">Annealed-MTTO</text>
<text x="846.11" y="1690.00" font-size="102.29" textLength="58.78" lengthAdjust="spacingAndGlyphs" fill="#000">E</text>
<text x="904.32" y="1726.00" font-size="63.00" textLength="32.69" lengthAdjust="spacingAndGlyphs" fill="#000">g</text>
<text x="1131.89" y="1726.00" font-size="103.03" textLength="72.83" lengthAdjust="spacingAndGlyphs" fill="#000">A</text>
<text x="1205.84" y="1759.70" font-size="61.36" textLength="29.50" lengthAdjust="spacingAndGlyphs" fill="#000">1</text>
<text x="1235.22" y="1759.70" font-size="63.00" textLength="32.69" lengthAdjust="spacingAndGlyphs" fill="#000">g</text>
<text transform="translate(321.00 0) rotate(-90)" x="-2509.80" y="0" font-size="102.29" textLength="813.48" lengthAdjust="spacingAndGlyphs" fill="#000">Intensity (arb.unit)</text>
<text x="797.54" y="2935.00" font-size="110.23" textLength="560.09" lengthAdjust="spacingAndGlyphs" fill="#000">Raman shift</text>
<text x="1386.64" y="2936.13" font-size="108.10" textLength="32.26" lengthAdjust="spacingAndGlyphs" fill="#000">(</text>
<text x="1419.74" y="2934.90" font-size="103.62" textLength="138.88" lengthAdjust="spacingAndGlyphs" fill="#000">cm</text>
<text x="1557.39" y="2904.90" font-size="73.79" textLength="70.52" lengthAdjust="spacingAndGlyphs" fill="#000">−1</text>
<text x="1630.51" y="2936.18" font-size="108.32" textLength="32.72" lengthAdjust="spacingAndGlyphs" fill="#000">)</text>
<line x1="883" y1="1735" x2="883" y2="2682.5" stroke="#000" stroke-width="2" stroke-dasharray="3 6.4"/>
<line x1="1203" y1="1776" x2="1203" y2="2673.5" stroke="#000" stroke-width="2" stroke-dasharray="3 6.4"/>
<path d="M400.0 2071.6L401.0 2070.0L402.0 2068.5L403.0 2067.0L404.0 2065.5L405.0 2064.1L406.0 2062.7L407.0 2061.4L408.0 2060.1L409.0 2058.9L410.0 2057.6L411.0 2056.4L412.0 2055.2L413.0 2054.0L414.0 2052.8L415.0 2051.6L416.0 2050.4L417.0 2049.3L418.0 2048.1L419.0 2046.9L420.0 2045.7L421.0 2044.5L422.0 2043.4L423.0 2042.2L424.0 2041.0L425.0 2039.8L426.0 2038.7L427.0 2037.5L428.0 2036.3L429.0 2035.2L430.0 2034.0L431.0 2032.8L432.0 2031.6L433.0 2030.5L434.0 2029.3L435.0 2028.2L436.0 2027.0L437.0 2025.9L438.0 2024.8L439.0 2023.7L440.0 2022.6L441.0 2021.5L442.0 2020.4L443.0 2019.4L444.0 2018.4L445.0 2017.3L446.0 2016.4L447.0 2015.4L448.0 2014.5L449.0 2013.6L450.0 2012.7L451.0 2011.8L452.0 2011.0L453.0 2010.2L454.0 2009.4L455.0 2008.7L456.0 2008.0L457.0 2007.3L458.0 2006.7L459.0 2006.1L460.0 2005.6L461.0 2005.1L462.0 2004.6L463.0 2004.2L464.0 2003.8L465.0 2003.5L466.0 2003.2L467.0 2002.9L468.0 2002.8L469.0 2002.6L470.0 2002.6L471.0 2002.6L472.0 2002.6L473.0 2002.7L474.0 2002.9L475.0 2003.1L476.0 2003.5L477.0 2003.8L478.0 2004.3L479.0 2004.8L480.0 2005.3L481.0 2006.0L482.0 2006.6L483.0 2007.3L484.0 2008.1L485.0 2009.0L486.0 2009.8L487.0 2010.7L488.0 2011.7L489.0 2012.7L490.0 2013.7L491.0 2014.8L492.0 2015.9L493.0 2017.1L494.0 2018.2L495.0 2019.4L496.0 2020.6L497.0 2021.8L498.0 2023.0L499.0 2024.2L500.0 2025.5L501.0 2026.7L502.0 2027.9L503.0 2029.1L504.0 2030.3L505.0 2031.4L506.0 2032.6L507.0 2033.7L508.0 2034.8L509.0 2035.9L510.0 2036.9L511.0 2038.0L512.0 2039.0L513.0 2039.9L514.0 2040.9L515.0 2041.8L516.0 2042.7L517.0 2043.6L518.0 2044.4L519.0 2045.3L520.0 2046.0L521.0 2046.8L522.0 2047.5L523.0 2048.3L524.0 2048.9L525.0 2049.6L526.0 2050.3L527.0 2050.9L528.0 2051.5L529.0 2052.2L530.0 2052.8L531.0 2053.4L532.0 2054.0L533.0 2054.6L534.0 2055.2L535.0 2055.8L536.0 2056.4L537.0 2057.0L538.0 2057.6L539.0 2058.2L540.0 2058.8L541.0 2059.5L542.0 2060.1L543.0 2060.8L544.0 2061.4L545.0 2062.1L546.0 2062.8L547.0 2063.5L548.0 2064.2L549.0 2065.0L550.0 2065.7L551.0 2066.5L552.0 2067.2L553.0 2068.0L554.0 2068.8L555.0 2069.7L556.0 2070.5L557.0 2071.3L558.0 2072.2L559.0 2073.1L560.0 2074.0L561.0 2074.9L562.0 2075.8L563.0 2076.7L564.0 2077.7L565.0 2078.7L566.0 2079.6L567.0 2080.6L568.0 2081.6L569.0 2082.6L570.0 2083.6L571.0 2084.6L572.0 2085.6L573.0 2086.6L574.0 2087.6L575.0 2088.5L576.0 2089.5L577.0 2090.4L578.0 2091.4L579.0 2092.3L580.0 2093.1L581.0 2094.0L582.0 2094.8L583.0 2095.6L584.0 2096.3L585.0 2097.0L586.0 2097.7L587.0 2098.3L588.0 2098.9L589.0 2099.5L590.0 2100.0L591.0 2100.5L592.0 2100.9L593.0 2101.3L594.0 2101.6L595.0 2101.9L596.0 2102.1L597.0 2102.3L598.0 2102.4L599.0 2102.5L600.0 2102.5L601.0 2102.5L602.0 2102.5L603.0 2102.4L604.0 2102.3L605.0 2102.1L606.0 2101.9L607.0 2101.7L608.0 2101.5L609.0 2101.2L610.0 2100.9L611.0 2100.6L612.0 2100.2L613.0 2099.9L614.0 2099.5L615.0 2099.1L616.0 2098.7L617.0 2098.3L618.0 2097.8L619.0 2097.4L620.0 2097.0L621.0 2096.5L622.0 2096.1L623.0 2095.7L624.0 2095.3L625.0 2094.9L626.0 2094.5L627.0 2094.1L628.0 2093.7L629.0 2093.3L630.0 2093.0L631.0 2092.7L632.0 2092.3L633.0 2092.0L634.0 2091.7L635.0 2091.4L636.0 2091.2L637.0 2090.9L638.0 2090.7L639.0 2090.4L640.0 2090.2L641.0 2090.0L642.0 2089.8L643.0 2089.6L644.0 2089.5L645.0 2089.3L646.0 2089.2L647.0 2089.0L648.0 2088.9L649.0 2088.8L650.0 2088.7L651.0 2088.5L652.0 2088.4L653.0 2088.3L654.0 2088.2L655.0 2088.1L656.0 2088.0L657.0 2087.8L658.0 2087.7L659.0 2087.6L660.0 2087.4L661.0 2087.3L662.0 2087.1L663.0 2087.0L664.0 2086.8L665.0 2086.6L666.0 2086.4L667.0 2086.2L668.0 2086.0L669.0 2085.8L670.0 2085.6L671.0 2085.3L672.0 2085.1L673.0 2084.9L674.0 2084.6L675.0 2084.4L676.0 2084.1L677.0 2083.8L678.0 2083.6L679.0 2083.3L680.0 2083.0L681.0 2082.7L682.0 2082.4L683.0 2082.1L684.0 2081.8L685.0 2081.5L686.0 2081.2L687.0 2080.9L688.0 2080.6L689.0 2080.3L690.0 2080.0L691.0 2079.7L692.0 2079.4L693.0 2079.2L694.0 2078.9L695.0 2078.6L696.0 2078.4L697.0 2078.1L698.0 2077.9L699.0 2077.7L700.0 2077.5L701.0 2077.3L702.0 2077.1L703.0 2076.9L704.0 2076.8L705.0 2076.6L706.0 2076.5L707.0 2076.4L708.0 2076.3L709.0 2076.2L710.0 2076.1L711.0 2076.0L712.0 2075.9L713.0 2075.9L714.0 2075.8L715.0 2075.7L716.0 2075.7L717.0 2075.6L718.0 2075.6L719.0 2075.5L720.0 2075.5L721.0 2075.5L722.0 2075.4L723.0 2075.4L724.0 2075.4L725.0 2075.3L726.0 2075.3L727.0 2075.2L728.0 2075.2L729.0 2075.2L730.0 2075.1L731.0 2075.1L732.0 2075.0L733.0 2075.0L734.0 2074.9L735.0 2074.9L736.0 2074.8L737.0 2074.7L738.0 2074.6L739.0 2074.6L740.0 2074.5L741.0 2074.4L742.0 2074.3L743.0 2074.2L744.0 2074.1L745.0 2074.0L746.0 2073.9L747.0 2073.8L748.0 2073.7L749.0 2073.5L750.0 2073.4L751.0 2073.2L752.0 2073.1L753.0 2072.9L754.0 2072.7L755.0 2072.5L756.0 2072.3L757.0 2072.1L758.0 2071.9L759.0 2071.7L760.0 2071.4L761.0 2071.2L762.0 2070.9L763.0 2070.7L764.0 2070.4L765.0 2070.1L766.0 2069.8L767.0 2069.5L768.0 2069.1L769.0 2068.8L770.0 2068.4L771.0 2068.1L772.0 2067.7L773.0 2067.3L774.0 2066.9L775.0 2066.4L776.0 2066.0L777.0 2065.5L778.0 2065.0L779.0 2064.4L780.0 2063.9L781.0 2063.3L782.0 2062.7L783.0 2062.0L784.0 2061.3L785.0 2060.6L786.0 2059.8L787.0 2059.0L788.0 2058.2L789.0 2057.3L790.0 2056.4L791.0 2055.5L792.0 2054.4L793.0 2053.4L794.0 2052.3L795.0 2051.1L796.0 2049.9L797.0 2048.6L798.0 2047.3L799.0 2045.9L800.0 2044.5L801.0 2043.0L802.0 2041.4L803.0 2039.8L804.0 2038.1L805.0 2036.4L806.0 2034.5L807.0 2032.6L808.0 2030.7L809.0 2028.6L810.0 2026.5L811.0 2024.3L812.0 2022.1L813.0 2019.7L814.0 2017.3L815.0 2014.8L816.0 2012.2L817.0 2009.5L818.0 2006.7L819.0 2003.8L820.0 2000.9L821.0 1997.8L822.0 1994.7L823.0 1991.5L824.0 1988.1L825.0 1984.7L826.0 1981.2L827.0 1977.5L828.0 1973.8L829.0 1970.0L830.0 1966.1L831.0 1962.0L832.0 1957.9L833.0 1953.7L834.0 1949.3L835.0 1944.9L836.0 1940.4L837.0 1935.7L838.0 1931.0L839.0 1926.1L840.0 1921.2L841.0 1916.2L842.0 1911.1L843.0 1905.8L844.0 1900.5L845.0 1895.2L846.0 1889.7L847.0 1884.2L848.0 1878.6L849.0 1872.9L850.0 1867.2L851.0 1861.4L852.0 1855.6L853.0 1849.7L854.0 1843.8L855.0 1837.9L856.0 1832.0L857.0 1826.1L858.0 1820.2L859.0 1814.4L860.0 1808.6L861.0 1802.8L862.0 1797.1L863.0 1791.6L864.0 1786.1L865.0 1780.7L866.0 1775.5L867.0 1770.4L868.0 1765.6L869.0 1760.9L870.0 1756.4L871.0 1752.2L872.0 1748.2L873.0 1744.5L874.0 1741.1L875.0 1737.9L876.0 1735.1L877.0 1732.7L878.0 1730.5L879.0 1728.8L880.0 1727.4L881.0 1726.3L882.0 1725.7L883.0 1725.4L883.3 1725.4L884.0 1725.6L885.0 1726.4L886.0 1727.8L887.0 1730.0L888.0 1732.8L889.0 1736.2L890.0 1740.3L891.0 1744.9L892.0 1750.1L893.0 1755.8L894.0 1762.0L895.0 1768.5L896.0 1775.5L897.0 1782.7L898.0 1790.3L899.0 1798.1L900.0 1806.1L901.0 1814.2L902.0 1822.5L903.0 1830.9L904.0 1839.3L905.0 1847.7L906.0 1856.1L907.0 1864.6L908.0 1872.9L909.0 1881.2L910.0 1889.4L911.0 1897.5L912.0 1905.4L913.0 1913.2L914.0 1920.9L915.0 1928.5L916.0 1935.8L917.0 1943.0L918.0 1950.1L919.0 1956.9L920.0 1963.6L921.0 1970.1L922.0 1976.4L923.0 1982.6L924.0 1988.5L925.0 1994.3L926.0 1999.9L927.0 2005.3L928.0 2010.5L929.0 2015.6L930.0 2020.5L931.0 2025.2L932.0 2029.8L933.0 2034.2L934.0 2038.4L935.0 2042.5L936.0 2046.4L937.0 2050.2L938.0 2053.8L939.0 2057.3L940.0 2060.7L941.0 2063.9L942.0 2067.0L943.0 2069.9L944.0 2072.8L945.0 2075.5L946.0 2078.1L947.0 2080.6L948.0 2083.0L949.0 2085.3L950.0 2087.5L951.0 2089.6L952.0 2091.6L953.0 2093.6L954.0 2095.4L955.0 2097.2L956.0 2098.8L957.0 2100.4L958.0 2102.0L959.0 2103.4L960.0 2104.8L961.0 2106.1L962.0 2107.4L963.0 2108.6L964.0 2109.7L965.0 2110.8L966.0 2111.9L967.0 2112.9L968.0 2113.8L969.0 2114.7L970.0 2115.5L971.0 2116.3L972.0 2117.1L973.0 2117.8L974.0 2118.5L975.0 2119.2L976.0 2119.8L977.0 2120.3L978.0 2120.9L979.0 2121.4L980.0 2121.9L981.0 2122.3L982.0 2122.7L983.0 2123.1L984.0 2123.5L985.0 2123.8L986.0 2124.1L987.0 2124.4L988.0 2124.7L989.0 2124.9L990.0 2125.1L991.0 2125.3L992.0 2125.5L993.0 2125.6L994.0 2125.8L995.0 2125.9L996.0 2126.0L997.0 2126.0L998.0 2126.1L999.0 2126.1L1000.0 2126.2L1001.0 2126.2L1002.0 2126.2L1003.0 2126.2L1004.0 2126.2L1005.0 2126.1L1006.0 2126.1L1007.0 2126.0L1008.0 2126.0L1009.0 2125.9L1010.0 2125.9L1011.0 2125.8L1012.0 2125.7L1013.0 2125.6L1014.0 2125.5L1015.0 2125.4L1016.0 2125.4L1017.0 2125.3L1018.0 2125.2L1019.0 2125.1L1020.0 2125.0L1021.0 2124.9L1022.0 2124.9L1023.0 2124.8L1024.0 2124.7L1025.0 2124.7L1026.0 2124.6L1027.0 2124.6L1028.0 2124.6L1029.0 2124.5L1030.0 2124.5L1031.0 2124.5L1032.0 2124.6L1033.0 2124.6L1034.0 2124.6L1035.0 2124.7L1036.0 2124.7L1037.0 2124.8L1038.0 2124.9L1039.0 2124.9L1040.0 2125.0L1041.0 2125.1L1042.0 2125.2L1043.0 2125.2L1044.0 2125.3L1045.0 2125.3L1046.0 2125.4L1047.0 2125.4L1048.0 2125.5L1049.0 2125.5L1050.0 2125.5L1051.0 2125.5L1052.0 2125.5L1053.0 2125.5L1054.0 2125.5L1055.0 2125.4L1056.0 2125.3L1057.0 2125.3L1058.0 2125.2L1059.0 2125.0L1060.0 2124.9L1061.0 2124.8L1062.0 2124.6L1063.0 2124.4L1064.0 2124.2L1065.0 2124.0L1066.0 2123.7L1067.0 2123.4L1068.0 2123.1L1069.0 2122.8L1070.0 2122.5L1071.0 2122.1L1072.0 2121.7L1073.0 2121.3L1074.0 2120.9L1075.0 2120.4L1076.0 2120.0L1077.0 2119.5L1078.0 2118.9L1079.0 2118.4L1080.0 2117.8L1081.0 2117.3L1082.0 2116.7L1083.0 2116.0L1084.0 2115.4L1085.0 2114.7L1086.0 2114.1L1087.0 2113.4L1088.0 2112.6L1089.0 2111.9L1090.0 2111.1L1091.0 2110.4L1092.0 2109.6L1093.0 2108.8L1094.0 2107.9L1095.0 2107.1L1096.0 2106.2L1097.0 2105.3L1098.0 2104.4L1099.0 2103.5L1100.0 2102.5L1101.0 2101.5L1102.0 2100.5L1103.0 2099.5L1104.0 2098.4L1105.0 2097.3L1106.0 2096.2L1107.0 2095.1L1108.0 2093.9L1109.0 2092.7L1110.0 2091.4L1111.0 2090.2L1112.0 2088.9L1113.0 2087.6L1114.0 2086.2L1115.0 2084.8L1116.0 2083.4L1117.0 2081.9L1118.0 2080.4L1119.0 2078.8L1120.0 2077.2L1121.0 2075.6L1122.0 2073.9L1123.0 2072.2L1124.0 2070.4L1125.0 2068.6L1126.0 2066.7L1127.0 2064.8L1128.0 2062.9L1129.0 2060.9L1130.0 2058.8L1131.0 2056.7L1132.0 2054.5L1133.0 2052.2L1134.0 2049.9L1135.0 2047.5L1136.0 2045.1L1137.0 2042.6L1138.0 2040.0L1139.0 2037.4L1140.0 2034.7L1141.0 2031.9L1142.0 2029.1L1143.0 2026.1L1144.0 2023.1L1145.0 2020.0L1146.0 2016.8L1147.0 2013.6L1148.0 2010.2L1149.0 2006.8L1150.0 2003.3L1151.0 1999.6L1152.0 1995.9L1153.0 1992.1L1154.0 1988.2L1155.0 1984.2L1156.0 1980.1L1157.0 1975.9L1158.0 1971.6L1159.0 1967.2L1160.0 1962.7L1161.0 1958.2L1162.0 1953.5L1163.0 1948.7L1164.0 1943.8L1165.0 1938.8L1166.0 1933.7L1167.0 1928.6L1168.0 1923.3L1169.0 1918.0L1170.0 1912.6L1171.0 1907.1L1172.0 1901.6L1173.0 1896.0L1174.0 1890.3L1175.0 1884.7L1176.0 1879.0L1177.0 1873.2L1178.0 1867.5L1179.0 1861.8L1180.0 1856.1L1181.0 1850.4L1182.0 1844.8L1183.0 1839.2L1184.0 1833.8L1185.0 1828.4L1186.0 1823.2L1187.0 1818.1L1188.0 1813.2L1189.0 1808.5L1190.0 1804.0L1191.0 1799.7L1192.0 1795.7L1193.0 1791.9L1194.0 1788.4L1195.0 1785.3L1196.0 1782.4L1197.0 1779.9L1198.0 1777.8L1199.0 1776.0L1200.0 1774.6L1201.0 1773.6L1202.0 1773.0L1202.7 1772.8L1203.0 1772.7L1204.0 1773.0L1205.0 1773.8L1206.0 1775.3L1207.0 1777.3L1208.0 1779.8L1209.0 1782.9L1210.0 1786.5L1211.0 1790.5L1212.0 1795.0L1213.0 1800.0L1214.0 1805.3L1215.0 1810.9L1216.0 1816.8L1217.0 1823.0L1218.0 1829.4L1219.0 1836.0L1220.0 1842.7L1221.0 1849.6L1222.0 1856.5L1223.0 1863.5L1224.0 1870.5L1225.0 1877.6L1226.0 1884.6L1227.0 1891.5L1228.0 1898.5L1229.0 1905.3L1230.0 1912.0L1231.0 1918.7L1232.0 1925.2L1233.0 1931.6L1234.0 1937.9L1235.0 1944.0L1236.0 1950.0L1237.0 1955.9L1238.0 1961.6L1239.0 1967.2L1240.0 1972.6L1241.0 1977.8L1242.0 1983.0L1243.0 1987.9L1244.0 1992.8L1245.0 1997.4L1246.0 2002.0L1247.0 2006.4L1248.0 2010.7L1249.0 2014.8L1250.0 2018.8L1251.0 2022.7L1252.0 2026.5L1253.0 2030.1L1254.0 2033.6L1255.0 2037.1L1256.0 2040.4L1257.0 2043.6L1258.0 2046.7L1259.0 2049.7L1260.0 2052.6L1261.0 2055.4L1262.0 2058.1L1263.0 2060.7L1264.0 2063.3L1265.0 2065.8L1266.0 2068.2L1267.0 2070.5L1268.0 2072.7L1269.0 2074.9L1270.0 2077.0L1271.0 2079.1L1272.0 2081.1L1273.0 2083.0L1274.0 2084.9L1275.0 2086.7L1276.0 2088.4L1277.0 2090.1L1278.0 2091.8L1279.0 2093.4L1280.0 2095.0L1281.0 2096.5L1282.0 2097.9L1283.0 2099.4L1284.0 2100.8L1285.0 2102.1L1286.0 2103.4L1287.0 2104.7L1288.0 2105.9L1289.0 2107.1L1290.0 2108.3L1291.0 2109.4L1292.0 2110.6L1293.0 2111.6L1294.0 2112.7L1295.0 2113.7L1296.0 2114.7L1297.0 2115.7L1298.0 2116.6L1299.0 2117.5L1300.0 2118.4L1301.0 2119.3L1302.0 2120.1L1303.0 2121.0L1304.0 2121.8L1305.0 2122.6L1306.0 2123.3L1307.0 2124.1L1308.0 2124.8L1309.0 2125.5L1310.0 2126.2L1311.0 2126.9L1312.0 2127.6L1313.0 2128.2L1314.0 2128.9L1315.0 2129.5L1316.0 2130.1L1317.0 2130.7L1318.0 2131.3L1319.0 2131.9L1320.0 2132.4L1321.0 2133.0L1322.0 2133.5L1323.0 2134.1L1324.0 2134.6L1325.0 2135.1L1326.0 2135.6L1327.0 2136.1L1328.0 2136.6L1329.0 2137.1L1330.0 2137.6L1331.0 2138.0L1332.0 2138.5L1333.0 2139.0L1334.0 2139.4L1335.0 2139.9L1336.0 2140.3L1337.0 2140.8L1338.0 2141.2L1339.0 2141.6L1340.0 2142.0L1341.0 2142.5L1342.0 2142.9L1343.0 2143.3L1344.0 2143.7L1345.0 2144.1L1346.0 2144.5L1347.0 2144.9L1348.0 2145.3L1349.0 2145.7L1350.0 2146.1L1351.0 2146.5L1352.0 2146.9L1353.0 2147.3L1354.0 2147.7L1355.0 2148.1L1356.0 2148.5L1357.0 2148.9L1358.0 2149.3L1359.0 2149.7L1360.0 2150.1L1361.0 2150.5L1362.0 2150.9L1363.0 2151.3L1364.0 2151.7L1365.0 2152.1L1366.0 2152.5L1367.0 2152.9L1368.0 2153.3L1369.0 2153.7L1370.0 2154.1L1371.0 2154.5L1372.0 2154.9L1373.0 2155.3L1374.0 2155.7L1375.0 2156.1L1376.0 2156.6L1377.0 2157.0L1378.0 2157.4L1379.0 2157.8L1380.0 2158.2L1381.0 2158.6L1382.0 2159.1L1383.0 2159.5L1384.0 2159.9L1385.0 2160.3L1386.0 2160.8L1387.0 2161.2L1388.0 2161.6L1389.0 2162.1L1390.0 2162.5L1391.0 2162.9L1392.0 2163.4L1393.0 2163.8L1394.0 2164.3L1395.0 2164.7L1396.0 2165.1L1397.0 2165.6L1398.0 2166.0L1399.0 2166.5L1400.0 2166.9L1401.0 2167.4L1402.0 2167.9L1403.0 2168.3L1404.0 2168.8L1405.0 2169.2L1406.0 2169.7L1407.0 2170.2L1408.0 2170.6L1409.0 2171.1L1410.0 2171.6L1411.0 2172.0L1412.0 2172.5L1413.0 2173.0L1414.0 2173.4L1415.0 2173.9L1416.0 2174.4L1417.0 2174.9L1418.0 2175.3L1419.0 2175.8L1420.0 2176.3L1421.0 2176.7L1422.0 2177.2L1423.0 2177.7L1424.0 2178.1L1425.0 2178.6L1426.0 2179.0L1427.0 2179.5L1428.0 2180.0L1429.0 2180.4L1430.0 2180.9L1431.0 2181.3L1432.0 2181.8L1433.0 2182.2L1434.0 2182.7L1435.0 2183.1L1436.0 2183.5L1437.0 2184.0L1438.0 2184.4L1439.0 2184.8L1440.0 2185.3L1441.0 2185.7L1442.0 2186.1L1443.0 2186.5L1444.0 2186.9L1445.0 2187.3L1446.0 2187.7L1447.0 2188.1L1448.0 2188.5L1449.0 2188.9L1450.0 2189.3L1451.0 2189.7L1452.0 2190.1L1453.0 2190.4L1454.0 2190.8L1455.0 2191.2L1456.0 2191.5L1457.0 2191.9L1458.0 2192.3L1459.0 2192.6L1460.0 2193.0L1461.0 2193.3L1462.0 2193.7L1463.0 2194.0L1464.0 2194.3L1465.0 2194.7L1466.0 2195.0L1467.0 2195.3L1468.0 2195.6L1469.0 2196.0L1470.0 2196.3L1471.0 2196.6L1472.0 2196.9L1473.0 2197.2L1474.0 2197.5L1475.0 2197.8L1476.0 2198.1L1477.0 2198.4L1478.0 2198.7L1479.0 2198.9L1480.0 2199.2L1481.0 2199.5L1482.0 2199.7L1483.0 2200.0L1484.0 2200.3L1485.0 2200.5L1486.0 2200.8L1487.0 2201.0L1488.0 2201.3L1489.0 2201.5L1490.0 2201.8L1491.0 2202.0L1492.0 2202.2L1493.0 2202.5L1494.0 2202.7L1495.0 2202.9L1496.0 2203.1L1497.0 2203.3L1498.0 2203.6L1499.0 2203.8L1500.0 2204.0L1501.0 2204.2L1502.0 2204.4L1503.0 2204.6L1504.0 2204.8L1505.0 2205.0L1506.0 2205.1L1507.0 2205.3L1508.0 2205.5L1509.0 2205.7L1510.0 2205.9L1511.0 2206.0L1512.0 2206.2L1513.0 2206.4L1514.0 2206.5L1515.0 2206.7L1516.0 2206.8L1517.0 2207.0L1518.0 2207.2L1519.0 2207.3L1520.0 2207.5L1521.0 2207.6L1522.0 2207.7L1523.0 2207.9L1524.0 2208.0L1525.0 2208.1L1526.0 2208.3L1527.0 2208.4L1528.0 2208.5L1529.0 2208.7L1530.0 2208.8L1531.0 2208.9L1532.0 2209.0L1533.0 2209.1L1534.0 2209.3L1535.0 2209.4L1536.0 2209.5L1537.0 2209.6L1538.0 2209.7L1539.0 2209.8L1540.0 2209.9L1541.0 2210.0L1542.0 2210.1L1543.0 2210.2L1544.0 2210.3L1545.0 2210.4L1546.0 2210.5L1547.0 2210.6L1548.0 2210.6L1549.0 2210.7L1550.0 2210.8L1551.0 2210.9L1552.0 2211.0L1553.0 2211.1L1554.0 2211.1L1555.0 2211.2L1556.0 2211.3L1557.0 2211.4L1558.0 2211.4L1559.0 2211.5L1560.0 2211.6L1561.0 2211.6L1562.0 2211.7L1563.0 2211.8L1564.0 2211.8L1565.0 2211.9L1566.0 2212.0L1567.0 2212.0L1568.0 2212.1L1569.0 2212.2L1570.0 2212.2L1571.0 2212.3L1572.0 2212.3L1573.0 2212.4L1574.0 2212.4L1575.0 2212.5L1576.0 2212.6L1577.0 2212.6L1578.0 2212.7L1579.0 2212.7L1580.0 2212.8L1581.0 2212.8L1582.0 2212.9L1583.0 2212.9L1584.0 2213.0L1585.0 2213.0L1586.0 2213.1L1587.0 2213.1L1588.0 2213.2L1589.0 2213.3L1590.0 2213.3L1591.0 2213.4L1592.0 2213.4L1593.0 2213.5L1594.0 2213.5L1595.0 2213.6L1596.0 2213.6L1597.0 2213.7L1598.0 2213.7L1599.0 2213.8L1600.0 2213.8L1601.0 2213.9L1602.0 2213.9L1603.0 2214.0L1604.0 2214.0L1605.0 2214.1L1606.0 2214.1L1607.0 2214.2L1608.0 2214.3L1609.0 2214.3L1610.0 2214.4L1611.0 2214.4L1612.0 2214.5L1613.0 2214.5L1614.0 2214.6L1615.0 2214.7L1616.0 2214.7L1617.0 2214.8L1618.0 2214.9L1619.0 2214.9L1620.0 2215.0L1621.0 2215.1L1622.0 2215.1L1623.0 2215.2L1624.0 2215.3L1625.0 2215.3L1626.0 2215.4L1627.0 2215.5L1628.0 2215.5L1629.0 2215.6L1630.0 2215.7L1631.0 2215.8L1632.0 2215.8L1633.0 2215.9L1634.0 2216.0L1635.0 2216.1L1636.0 2216.2L1637.0 2216.2L1638.0 2216.3L1639.0 2216.4L1640.0 2216.5L1641.0 2216.6L1642.0 2216.7L1643.0 2216.7L1644.0 2216.8L1645.0 2216.9L1646.0 2217.0L1647.0 2217.1L1648.0 2217.2L1649.0 2217.3L1650.0 2217.4L1651.0 2217.4L1652.0 2217.5L1653.0 2217.6L1654.0 2217.7L1655.0 2217.8L1656.0 2217.9L1657.0 2218.0L1658.0 2218.1L1659.0 2218.2L1660.0 2218.3L1661.0 2218.3L1662.0 2218.4L1663.0 2218.5L1664.0 2218.6L1665.0 2218.7L1666.0 2218.8L1667.0 2218.9L1668.0 2219.0L1669.0 2219.1L1670.0 2219.2L1671.0 2219.3L1672.0 2219.4L1673.0 2219.4L1674.0 2219.5L1675.0 2219.6L1676.0 2219.7L1677.0 2219.8L1678.0 2219.9L1679.0 2220.0L1680.0 2220.1L1681.0 2220.2L1682.0 2220.3L1683.0 2220.4L1684.0 2220.5L1685.0 2220.5L1686.0 2220.6L1687.0 2220.7L1688.0 2220.8L1689.0 2220.9L1690.0 2221.0L1691.0 2221.1L1692.0 2221.2L1693.0 2221.2L1694.0 2221.3L1695.0 2221.4L1696.0 2221.5L1697.0 2221.6L1698.0 2221.7L1699.0 2221.8L1700.0 2221.8L1701.0 2221.9L1702.0 2222.0L1703.0 2222.1L1704.0 2222.2L1705.0 2222.2L1706.0 2222.3L1707.0 2222.4L1708.0 2222.5L1709.0 2222.5L1710.0 2222.6L1711.0 2222.7L1712.0 2222.8L1713.0 2222.8L1714.0 2222.9L1715.0 2223.0L1716.0 2223.1L1717.0 2223.1L1718.0 2223.2L1719.0 2223.3L1720.0 2223.4L1721.0 2223.4L1722.0 2223.5L1723.0 2223.6L1724.0 2223.6L1725.0 2223.7L1726.0 2223.8L1727.0 2223.8L1728.0 2223.9L1729.0 2224.0L1730.0 2224.0L1731.0 2224.1L1732.0 2224.1L1733.0 2224.2L1734.0 2224.3L1735.0 2224.3L1736.0 2224.4L1737.0 2224.5L1738.0 2224.5L1739.0 2224.6L1740.0 2224.6L1741.0 2224.7L1742.0 2224.7L1743.0 2224.8L1744.0 2224.9L1745.0 2224.9L1746.0 2225.0L1747.0 2225.0L1748.0 2225.1L1749.0 2225.1L1750.0 2225.2L1751.0 2225.2L1752.0 2225.3L1753.0 2225.3L1754.0 2225.4L1755.0 2225.4L1756.0 2225.5L1757.0 2225.5L1758.0 2225.6L1759.0 2225.6L1760.0 2225.7L1761.0 2225.7L1762.0 2225.8L1763.0 2225.8L1764.0 2225.9L1765.0 2225.9L1766.0 2226.0L1767.0 2226.0L1768.0 2226.1L1769.0 2226.1L1770.0 2226.2L1771.0 2226.2L1772.0 2226.3L1773.0 2226.3L1774.0 2226.3L1775.0 2226.4L1776.0 2226.4L1777.0 2226.5L1778.0 2226.5L1779.0 2226.5L1780.0 2226.6L1781.0 2226.6L1782.0 2226.7L1783.0 2226.7L1784.0 2226.7L1785.0 2226.8L1786.0 2226.8L1787.0 2226.9L1788.0 2226.9L1789.0 2226.9L1790.0 2227.0L1791.0 2227.0L1792.0 2227.0L1793.0 2227.1L1794.0 2227.1L1795.0 2227.1L1796.0 2227.2L1797.0 2227.2L1798.0 2227.3L1799.0 2227.3L1800.0 2227.3L1801.0 2227.4L1802.0 2227.4L1803.0 2227.4L1804.0 2227.5L1805.0 2227.5L1806.0 2227.5L1807.0 2227.5L1808.0 2227.6L1809.0 2227.6L1810.0 2227.6L1811.0 2227.7L1812.0 2227.7L1813.0 2227.7L1814.0 2227.8L1815.0 2227.8L1816.0 2227.8L1817.0 2227.8L1818.0 2227.9L1819.0 2227.9L1820.0 2227.9L1821.0 2228.0L1822.0 2228.0L1823.0 2228.0L1824.0 2228.0L1825.0 2228.1L1826.0 2228.1L1827.0 2228.1L1828.0 2228.1L1829.0 2228.2L1830.0 2228.2L1831.0 2228.2L1832.0 2228.2L1833.0 2228.3L1834.0 2228.3L1835.0 2228.3L1836.0 2228.3L1837.0 2228.4L1838.0 2228.4L1839.0 2228.4L1840.0 2228.4L1841.0 2228.5L1842.0 2228.5L1843.0 2228.5L1844.0 2228.5L1845.0 2228.6L1846.0 2228.6L1847.0 2228.6L1848.0 2228.6L1849.0 2228.6L1850.0 2228.7L1851.0 2228.7L1852.0 2228.7L1853.0 2228.7L1854.0 2228.8L1855.0 2228.8L1856.0 2228.8L1857.0 2228.8L1858.0 2228.8L1859.0 2228.9L1860.0 2228.9L1861.0 2228.9L1862.0 2228.9L1863.0 2228.9L1864.0 2229.0L1865.0 2229.0L1866.0 2229.0L1867.0 2229.0L1868.0 2229.0L1869.0 2229.1L1870.0 2229.1L1871.0 2229.1L1872.0 2229.1L1873.0 2229.1L1874.0 2229.2L1875.0 2229.2L1876.0 2229.2L1877.0 2229.2L1878.0 2229.2L1879.0 2229.3L1880.0 2229.3L1881.0 2229.3L1882.0 2229.3L1883.0 2229.3L1884.0 2229.4L1885.0 2229.4L1886.0 2229.4L1887.0 2229.4L1888.0 2229.4L1889.0 2229.5L1890.0 2229.5L1891.0 2229.5L1892.0 2229.5L1893.0 2229.5L1894.0 2229.6L1895.0 2229.6L1896.0 2229.6L1897.0 2229.6L1898.0 2229.6L1899.0 2229.7L1900.0 2229.7L1901.0 2229.7L1902.0 2229.7L1903.0 2229.7L1904.0 2229.7L1905.0 2229.8L1906.0 2229.8L1907.0 2229.8L1908.0 2229.8L1909.0 2229.8L1910.0 2229.9L1911.0 2229.9L1912.0 2229.9L1913.0 2229.9L1914.0 2229.9L1915.0 2230.0L1916.0 2230.0L1917.0 2230.0L1918.0 2230.0L1919.0 2230.0L1920.0 2230.0L1921.0 2230.1L1922.0 2230.1L1923.0 2230.1L1924.0 2230.1L1925.0 2230.1L1926.0 2230.2L1927.0 2230.2L1928.0 2230.2L1929.0 2230.2L1930.0 2230.2L1931.0 2230.2L1932.0 2230.3L1933.0 2230.3L1934.0 2230.3L1935.0 2230.3L1936.0 2230.3L1937.0 2230.4L1938.0 2230.4L1939.0 2230.4L1940.0 2230.4L1941.0 2230.4L1942.0 2230.4L1943.0 2230.5L1944.0 2230.5L1945.0 2230.5L1946.0 2230.5L1947.0 2230.5L1948.0 2230.6L1949.0 2230.6L1950.0 2230.6L1951.0 2230.6L1952.0 2230.6L1953.0 2230.6L1954.0 2230.7L1955.0 2230.7L1956.0 2230.7L1957.0 2230.7L1958.0 2230.7L1959.0 2230.7L1960.0 2230.8L1961.0 2230.8L1962.0 2230.8L1963.0 2230.8L1964.0 2230.8L1965.0 2230.9L1966.0 2230.9" fill="none" stroke="#000000" stroke-width="2.00" stroke-linejoin="round" stroke-linecap="butt" shape-rendering="crispEdges"/>
<path d="M400.0 2248.7L401.0 2247.8L402.0 2246.8L403.0 2245.9L404.0 2245.0L405.0 2244.1L406.0 2243.2L407.0 2242.2L408.0 2241.3L409.0 2240.4L410.0 2239.5L411.0 2238.5L412.0 2237.6L413.0 2236.7L414.0 2235.7L415.0 2234.8L416.0 2233.8L417.0 2232.9L418.0 2231.9L419.0 2231.0L420.0 2230.0L421.0 2229.0L422.0 2228.1L423.0 2227.1L424.0 2226.1L425.0 2225.1L426.0 2224.2L427.0 2223.2L428.0 2222.2L429.0 2221.3L430.0 2220.3L431.0 2219.3L432.0 2218.4L433.0 2217.4L434.0 2216.5L435.0 2215.5L436.0 2214.6L437.0 2213.7L438.0 2212.8L439.0 2211.9L440.0 2211.0L441.0 2210.1L442.0 2209.2L443.0 2208.3L444.0 2207.5L445.0 2206.6L446.0 2205.8L447.0 2205.0L448.0 2204.2L449.0 2203.4L450.0 2202.6L451.0 2201.9L452.0 2201.2L453.0 2200.5L454.0 2199.8L455.0 2199.1L456.0 2198.5L457.0 2197.9L458.0 2197.3L459.0 2196.8L460.0 2196.2L461.0 2195.8L462.0 2195.3L463.0 2194.9L464.0 2194.5L465.0 2194.1L466.0 2193.8L467.0 2193.6L468.0 2193.3L469.0 2193.1L470.0 2193.0L471.0 2192.9L472.0 2192.8L473.0 2192.8L474.0 2192.8L475.0 2192.9L476.0 2193.0L477.0 2193.2L478.0 2193.5L479.0 2193.7L480.0 2194.1L481.0 2194.5L482.0 2194.9L483.0 2195.4L484.0 2195.9L485.0 2196.4L486.0 2197.1L487.0 2197.7L488.0 2198.4L489.0 2199.2L490.0 2200.0L491.0 2200.8L492.0 2201.7L493.0 2202.6L494.0 2203.5L495.0 2204.5L496.0 2205.5L497.0 2206.5L498.0 2207.6L499.0 2208.6L500.0 2209.7L501.0 2210.8L502.0 2211.8L503.0 2212.9L504.0 2213.9L505.0 2215.0L506.0 2216.0L507.0 2217.0L508.0 2218.0L509.0 2219.0L510.0 2220.0L511.0 2220.9L512.0 2221.8L513.0 2222.7L514.0 2223.6L515.0 2224.4L516.0 2225.3L517.0 2226.0L518.0 2226.8L519.0 2227.6L520.0 2228.3L521.0 2228.9L522.0 2229.6L523.0 2230.2L524.0 2230.8L525.0 2231.4L526.0 2232.0L527.0 2232.5L528.0 2233.0L529.0 2233.6L530.0 2234.1L531.0 2234.6L532.0 2235.0L533.0 2235.5L534.0 2236.0L535.0 2236.5L536.0 2237.0L537.0 2237.5L538.0 2238.0L539.0 2238.4L540.0 2238.9L541.0 2239.5L542.0 2240.0L543.0 2240.5L544.0 2241.0L545.0 2241.6L546.0 2242.1L547.0 2242.7L548.0 2243.3L549.0 2243.9L550.0 2244.5L551.0 2245.1L552.0 2245.8L553.0 2246.4L554.0 2247.1L555.0 2247.8L556.0 2248.5L557.0 2249.2L558.0 2249.9L559.0 2250.6L560.0 2251.3L561.0 2252.1L562.0 2252.8L563.0 2253.6L564.0 2254.3L565.0 2255.1L566.0 2255.9L567.0 2256.7L568.0 2257.4L569.0 2258.2L570.0 2259.0L571.0 2259.7L572.0 2260.5L573.0 2261.2L574.0 2261.9L575.0 2262.7L576.0 2263.4L577.0 2264.0L578.0 2264.7L579.0 2265.3L580.0 2265.9L581.0 2266.5L582.0 2267.0L583.0 2267.6L584.0 2268.0L585.0 2268.5L586.0 2268.9L587.0 2269.3L588.0 2269.7L589.0 2270.1L590.0 2270.4L591.0 2270.7L592.0 2270.9L593.0 2271.2L594.0 2271.3L595.0 2271.5L596.0 2271.6L597.0 2271.8L598.0 2271.8L599.0 2271.9L600.0 2271.9L601.0 2271.9L602.0 2271.9L603.0 2271.8L604.0 2271.7L605.0 2271.6L606.0 2271.5L607.0 2271.3L608.0 2271.1L609.0 2270.9L610.0 2270.7L611.0 2270.4L612.0 2270.2L613.0 2269.9L614.0 2269.6L615.0 2269.3L616.0 2269.0L617.0 2268.6L618.0 2268.3L619.0 2268.0L620.0 2267.6L621.0 2267.3L622.0 2267.0L623.0 2266.6L624.0 2266.3L625.0 2266.0L626.0 2265.7L627.0 2265.4L628.0 2265.2L629.0 2264.9L630.0 2264.7L631.0 2264.5L632.0 2264.2L633.0 2264.0L634.0 2263.8L635.0 2263.7L636.0 2263.5L637.0 2263.3L638.0 2263.2L639.0 2263.1L640.0 2262.9L641.0 2262.8L642.0 2262.7L643.0 2262.6L644.0 2262.5L645.0 2262.4L646.0 2262.4L647.0 2262.3L648.0 2262.2L649.0 2262.2L650.0 2262.1L651.0 2262.1L652.0 2262.0L653.0 2262.0L654.0 2261.9L655.0 2261.9L656.0 2261.8L657.0 2261.8L658.0 2261.7L659.0 2261.6L660.0 2261.6L661.0 2261.5L662.0 2261.4L663.0 2261.3L664.0 2261.3L665.0 2261.2L666.0 2261.1L667.0 2261.0L668.0 2260.9L669.0 2260.8L670.0 2260.6L671.0 2260.5L672.0 2260.4L673.0 2260.3L674.0 2260.1L675.0 2260.0L676.0 2259.8L677.0 2259.7L678.0 2259.5L679.0 2259.4L680.0 2259.2L681.0 2259.1L682.0 2258.9L683.0 2258.7L684.0 2258.5L685.0 2258.3L686.0 2258.2L687.0 2258.0L688.0 2257.8L689.0 2257.6L690.0 2257.4L691.0 2257.3L692.0 2257.1L693.0 2256.9L694.0 2256.8L695.0 2256.6L696.0 2256.5L697.0 2256.3L698.0 2256.2L699.0 2256.0L700.0 2255.9L701.0 2255.8L702.0 2255.7L703.0 2255.6L704.0 2255.5L705.0 2255.4L706.0 2255.4L707.0 2255.3L708.0 2255.2L709.0 2255.2L710.0 2255.1L711.0 2255.1L712.0 2255.1L713.0 2255.0L714.0 2255.0L715.0 2255.0L716.0 2255.0L717.0 2255.0L718.0 2254.9L719.0 2254.9L720.0 2254.9L721.0 2254.9L722.0 2254.9L723.0 2254.9L724.0 2254.9L725.0 2254.9L726.0 2254.9L727.0 2254.9L728.0 2254.9L729.0 2254.9L730.0 2254.9L731.0 2254.9L732.0 2254.9L733.0 2254.9L734.0 2254.9L735.0 2254.9L736.0 2254.9L737.0 2254.9L738.0 2254.8L739.0 2254.8L740.0 2254.8L741.0 2254.8L742.0 2254.7L743.0 2254.7L744.0 2254.6L745.0 2254.6L746.0 2254.5L747.0 2254.5L748.0 2254.4L749.0 2254.3L750.0 2254.3L751.0 2254.2L752.0 2254.1L753.0 2254.0L754.0 2253.9L755.0 2253.8L756.0 2253.6L757.0 2253.5L758.0 2253.4L759.0 2253.2L760.0 2253.1L761.0 2252.9L762.0 2252.7L763.0 2252.6L764.0 2252.4L765.0 2252.2L766.0 2252.0L767.0 2251.8L768.0 2251.6L769.0 2251.3L770.0 2251.1L771.0 2250.9L772.0 2250.6L773.0 2250.4L774.0 2250.1L775.0 2249.8L776.0 2249.5L777.0 2249.2L778.0 2248.9L779.0 2248.5L780.0 2248.2L781.0 2247.8L782.0 2247.4L783.0 2246.9L784.0 2246.5L785.0 2246.0L786.0 2245.5L787.0 2245.0L788.0 2244.5L789.0 2243.9L790.0 2243.3L791.0 2242.7L792.0 2242.0L793.0 2241.3L794.0 2240.6L795.0 2239.8L796.0 2239.0L797.0 2238.2L798.0 2237.3L799.0 2236.4L800.0 2235.4L801.0 2234.4L802.0 2233.4L803.0 2232.3L804.0 2231.2L805.0 2230.0L806.0 2228.8L807.0 2227.5L808.0 2226.2L809.0 2224.9L810.0 2223.4L811.0 2222.0L812.0 2220.5L813.0 2218.9L814.0 2217.3L815.0 2215.6L816.0 2213.9L817.0 2212.1L818.0 2210.2L819.0 2208.3L820.0 2206.3L821.0 2204.3L822.0 2202.2L823.0 2200.0L824.0 2197.8L825.0 2195.5L826.0 2193.1L827.0 2190.7L828.0 2188.2L829.0 2185.6L830.0 2183.0L831.0 2180.3L832.0 2177.6L833.0 2174.8L834.0 2171.9L835.0 2168.9L836.0 2165.9L837.0 2162.8L838.0 2159.6L839.0 2156.4L840.0 2153.1L841.0 2149.8L842.0 2146.4L843.0 2142.9L844.0 2139.4L845.0 2135.9L846.0 2132.3L847.0 2128.6L848.0 2124.9L849.0 2121.1L850.0 2117.4L851.0 2113.6L852.0 2109.7L853.0 2105.9L854.0 2102.0L855.0 2098.1L856.0 2094.3L857.0 2090.4L858.0 2086.5L859.0 2082.7L860.0 2078.9L861.0 2075.2L862.0 2071.5L863.0 2067.8L864.0 2064.2L865.0 2060.8L866.0 2057.4L867.0 2054.1L868.0 2050.9L869.0 2047.9L870.0 2045.0L871.0 2042.3L872.0 2039.7L873.0 2037.3L874.0 2035.1L875.0 2033.1L876.0 2031.4L877.0 2029.8L878.0 2028.4L879.0 2027.3L880.0 2026.5L881.0 2025.8L882.0 2025.5L883.0 2025.3L883.2 2025.4L884.0 2025.5L885.0 2026.1L886.0 2027.1L887.0 2028.5L888.0 2030.4L889.0 2032.7L890.0 2035.4L891.0 2038.5L892.0 2041.9L893.0 2045.7L894.0 2049.7L895.0 2054.1L896.0 2058.6L897.0 2063.4L898.0 2068.4L899.0 2073.5L900.0 2078.8L901.0 2084.2L902.0 2089.6L903.0 2095.1L904.0 2100.7L905.0 2106.2L906.0 2111.8L907.0 2117.4L908.0 2122.9L909.0 2128.4L910.0 2133.8L911.0 2139.1L912.0 2144.4L913.0 2149.6L914.0 2154.7L915.0 2159.7L916.0 2164.7L917.0 2169.5L918.0 2174.2L919.0 2178.7L920.0 2183.2L921.0 2187.5L922.0 2191.8L923.0 2195.9L924.0 2199.9L925.0 2203.7L926.0 2207.5L927.0 2211.1L928.0 2214.7L929.0 2218.1L930.0 2221.3L931.0 2224.5L932.0 2227.6L933.0 2230.6L934.0 2233.4L935.0 2236.2L936.0 2238.8L937.0 2241.3L938.0 2243.8L939.0 2246.2L940.0 2248.4L941.0 2250.6L942.0 2252.7L943.0 2254.7L944.0 2256.6L945.0 2258.4L946.0 2260.2L947.0 2261.9L948.0 2263.5L949.0 2265.1L950.0 2266.5L951.0 2268.0L952.0 2269.3L953.0 2270.6L954.0 2271.9L955.0 2273.0L956.0 2274.2L957.0 2275.2L958.0 2276.3L959.0 2277.3L960.0 2278.2L961.0 2279.1L962.0 2280.0L963.0 2280.8L964.0 2281.5L965.0 2282.3L966.0 2283.0L967.0 2283.7L968.0 2284.3L969.0 2284.9L970.0 2285.5L971.0 2286.1L972.0 2286.6L973.0 2287.1L974.0 2287.5L975.0 2288.0L976.0 2288.4L977.0 2288.8L978.0 2289.2L979.0 2289.6L980.0 2289.9L981.0 2290.2L982.0 2290.5L983.0 2290.8L984.0 2291.1L985.0 2291.3L986.0 2291.6L987.0 2291.8L988.0 2292.0L989.0 2292.2L990.0 2292.3L991.0 2292.5L992.0 2292.6L993.0 2292.7L994.0 2292.9L995.0 2293.0L996.0 2293.1L997.0 2293.1L998.0 2293.2L999.0 2293.3L1000.0 2293.3L1001.0 2293.4L1002.0 2293.4L1003.0 2293.4L1004.0 2293.5L1005.0 2293.5L1006.0 2293.5L1007.0 2293.5L1008.0 2293.5L1009.0 2293.5L1010.0 2293.5L1011.0 2293.5L1012.0 2293.4L1013.0 2293.4L1014.0 2293.4L1015.0 2293.4L1016.0 2293.3L1017.0 2293.3L1018.0 2293.3L1019.0 2293.2L1020.0 2293.2L1021.0 2293.2L1022.0 2293.1L1023.0 2293.1L1024.0 2293.1L1025.0 2293.1L1026.0 2293.1L1027.0 2293.0L1028.0 2293.0L1029.0 2293.0L1030.0 2293.0L1031.0 2293.0L1032.0 2293.1L1033.0 2293.1L1034.0 2293.1L1035.0 2293.1L1036.0 2293.1L1037.0 2293.2L1038.0 2293.2L1039.0 2293.2L1040.0 2293.3L1041.0 2293.3L1042.0 2293.3L1043.0 2293.3L1044.0 2293.4L1045.0 2293.4L1046.0 2293.4L1047.0 2293.4L1048.0 2293.4L1049.0 2293.4L1050.0 2293.4L1051.0 2293.4L1052.0 2293.4L1053.0 2293.4L1054.0 2293.3L1055.0 2293.3L1056.0 2293.3L1057.0 2293.2L1058.0 2293.1L1059.0 2293.0L1060.0 2292.9L1061.0 2292.8L1062.0 2292.7L1063.0 2292.6L1064.0 2292.4L1065.0 2292.2L1066.0 2292.0L1067.0 2291.8L1068.0 2291.6L1069.0 2291.4L1070.0 2291.1L1071.0 2290.9L1072.0 2290.6L1073.0 2290.2L1074.0 2289.9L1075.0 2289.6L1076.0 2289.2L1077.0 2288.8L1078.0 2288.4L1079.0 2288.0L1080.0 2287.5L1081.0 2287.1L1082.0 2286.6L1083.0 2286.1L1084.0 2285.6L1085.0 2285.1L1086.0 2284.5L1087.0 2284.0L1088.0 2283.4L1089.0 2282.8L1090.0 2282.2L1091.0 2281.5L1092.0 2280.9L1093.0 2280.2L1094.0 2279.5L1095.0 2278.8L1096.0 2278.1L1097.0 2277.4L1098.0 2276.6L1099.0 2275.8L1100.0 2275.0L1101.0 2274.2L1102.0 2273.3L1103.0 2272.4L1104.0 2271.5L1105.0 2270.6L1106.0 2269.6L1107.0 2268.6L1108.0 2267.6L1109.0 2266.6L1110.0 2265.5L1111.0 2264.4L1112.0 2263.3L1113.0 2262.1L1114.0 2260.9L1115.0 2259.6L1116.0 2258.4L1117.0 2257.1L1118.0 2255.7L1119.0 2254.3L1120.0 2252.9L1121.0 2251.4L1122.0 2249.9L1123.0 2248.4L1124.0 2246.8L1125.0 2245.1L1126.0 2243.4L1127.0 2241.7L1128.0 2239.9L1129.0 2238.1L1130.0 2236.2L1131.0 2234.3L1132.0 2232.3L1133.0 2230.2L1134.0 2228.1L1135.0 2226.0L1136.0 2223.8L1137.0 2221.5L1138.0 2219.1L1139.0 2216.8L1140.0 2214.3L1141.0 2211.8L1142.0 2209.2L1143.0 2206.5L1144.0 2203.8L1145.0 2201.0L1146.0 2198.2L1147.0 2195.2L1148.0 2192.2L1149.0 2189.2L1150.0 2186.0L1151.0 2182.8L1152.0 2179.6L1153.0 2176.2L1154.0 2172.8L1155.0 2169.3L1156.0 2165.7L1157.0 2162.0L1158.0 2158.3L1159.0 2154.5L1160.0 2150.7L1161.0 2146.7L1162.0 2142.7L1163.0 2138.6L1164.0 2134.5L1165.0 2130.3L1166.0 2126.0L1167.0 2121.7L1168.0 2117.3L1169.0 2112.9L1170.0 2108.4L1171.0 2103.9L1172.0 2099.3L1173.0 2094.7L1174.0 2090.1L1175.0 2085.4L1176.0 2080.8L1177.0 2076.1L1178.0 2071.4L1179.0 2066.7L1180.0 2062.1L1181.0 2057.5L1182.0 2052.9L1183.0 2048.3L1184.0 2043.9L1185.0 2039.5L1186.0 2035.2L1187.0 2030.9L1188.0 2026.8L1189.0 2022.9L1190.0 2019.0L1191.0 2015.4L1192.0 2011.8L1193.0 2008.5L1194.0 2005.4L1195.0 2002.4L1196.0 1999.7L1197.0 1997.2L1198.0 1995.0L1199.0 1993.0L1200.0 1991.3L1201.0 1989.9L1202.0 1988.7L1203.0 1987.8L1204.0 1987.2L1205.0 1986.9L1206.0 1986.9L1207.0 1987.3L1208.0 1988.1L1209.0 1989.4L1210.0 1991.0L1211.0 1993.0L1212.0 1995.4L1213.0 1998.1L1214.0 2001.1L1215.0 2004.5L1216.0 2008.2L1217.0 2012.1L1218.0 2016.3L1219.0 2020.7L1220.0 2025.3L1221.0 2030.1L1222.0 2035.1L1223.0 2040.2L1224.0 2045.4L1225.0 2050.7L1226.0 2056.0L1227.0 2061.4L1228.0 2066.9L1229.0 2072.3L1230.0 2077.8L1231.0 2083.3L1232.0 2088.7L1233.0 2094.1L1234.0 2099.5L1235.0 2104.8L1236.0 2110.1L1237.0 2115.3L1238.0 2120.4L1239.0 2125.4L1240.0 2130.3L1241.0 2135.2L1242.0 2140.0L1243.0 2144.6L1244.0 2149.2L1245.0 2153.7L1246.0 2158.0L1247.0 2162.3L1248.0 2166.4L1249.0 2170.5L1250.0 2174.5L1251.0 2178.3L1252.0 2182.0L1253.0 2185.7L1254.0 2189.2L1255.0 2192.7L1256.0 2196.0L1257.0 2199.3L1258.0 2202.5L1259.0 2205.5L1260.0 2208.5L1261.0 2211.4L1262.0 2214.2L1263.0 2216.9L1264.0 2219.5L1265.0 2222.1L1266.0 2224.5L1267.0 2226.9L1268.0 2229.2L1269.0 2231.4L1270.0 2233.6L1271.0 2235.7L1272.0 2237.7L1273.0 2239.7L1274.0 2241.6L1275.0 2243.4L1276.0 2245.2L1277.0 2246.9L1278.0 2248.5L1279.0 2250.1L1280.0 2251.7L1281.0 2253.2L1282.0 2254.6L1283.0 2256.0L1284.0 2257.3L1285.0 2258.7L1286.0 2259.9L1287.0 2261.1L1288.0 2262.3L1289.0 2263.5L1290.0 2264.6L1291.0 2265.6L1292.0 2266.6L1293.0 2267.6L1294.0 2268.6L1295.0 2269.5L1296.0 2270.5L1297.0 2271.3L1298.0 2272.2L1299.0 2273.0L1300.0 2273.8L1301.0 2274.6L1302.0 2275.3L1303.0 2276.0L1304.0 2276.7L1305.0 2277.4L1306.0 2278.1L1307.0 2278.7L1308.0 2279.4L1309.0 2280.0L1310.0 2280.6L1311.0 2281.1L1312.0 2281.7L1313.0 2282.3L1314.0 2282.8L1315.0 2283.3L1316.0 2283.9L1317.0 2284.4L1318.0 2284.9L1319.0 2285.3L1320.0 2285.8L1321.0 2286.3L1322.0 2286.8L1323.0 2287.2L1324.0 2287.7L1325.0 2288.1L1326.0 2288.5L1327.0 2289.0L1328.0 2289.4L1329.0 2289.8L1330.0 2290.3L1331.0 2290.7L1332.0 2291.1L1333.0 2291.5L1334.0 2291.9L1335.0 2292.3L1336.0 2292.7L1337.0 2293.1L1338.0 2293.5L1339.0 2293.9L1340.0 2294.3L1341.0 2294.8L1342.0 2295.2L1343.0 2295.6L1344.0 2296.0L1345.0 2296.4L1346.0 2296.8L1347.0 2297.2L1348.0 2297.6L1349.0 2298.0L1350.0 2298.4L1351.0 2298.8L1352.0 2299.2L1353.0 2299.6L1354.0 2300.0L1355.0 2300.4L1356.0 2300.8L1357.0 2301.2L1358.0 2301.7L1359.0 2302.1L1360.0 2302.5L1361.0 2302.9L1362.0 2303.3L1363.0 2303.8L1364.0 2304.2L1365.0 2304.6L1366.0 2305.0L1367.0 2305.5L1368.0 2305.9L1369.0 2306.4L1370.0 2306.8L1371.0 2307.2L1372.0 2307.7L1373.0 2308.1L1374.0 2308.5L1375.0 2309.0L1376.0 2309.4L1377.0 2309.9L1378.0 2310.3L1379.0 2310.8L1380.0 2311.2L1381.0 2311.7L1382.0 2312.1L1383.0 2312.5L1384.0 2313.0L1385.0 2313.4L1386.0 2313.9L1387.0 2314.3L1388.0 2314.8L1389.0 2315.2L1390.0 2315.6L1391.0 2316.1L1392.0 2316.5L1393.0 2317.0L1394.0 2317.4L1395.0 2317.8L1396.0 2318.3L1397.0 2318.7L1398.0 2319.1L1399.0 2319.6L1400.0 2320.0L1401.0 2320.4L1402.0 2320.8L1403.0 2321.2L1404.0 2321.7L1405.0 2322.1L1406.0 2322.5L1407.0 2322.9L1408.0 2323.3L1409.0 2323.7L1410.0 2324.1L1411.0 2324.5L1412.0 2324.9L1413.0 2325.3L1414.0 2325.7L1415.0 2326.1L1416.0 2326.5L1417.0 2326.9L1418.0 2327.2L1419.0 2327.6L1420.0 2328.0L1421.0 2328.4L1422.0 2328.8L1423.0 2329.1L1424.0 2329.5L1425.0 2329.9L1426.0 2330.2L1427.0 2330.6L1428.0 2331.0L1429.0 2331.3L1430.0 2331.7L1431.0 2332.0L1432.0 2332.4L1433.0 2332.7L1434.0 2333.1L1435.0 2333.4L1436.0 2333.8L1437.0 2334.1L1438.0 2334.4L1439.0 2334.8L1440.0 2335.1L1441.0 2335.4L1442.0 2335.8L1443.0 2336.1L1444.0 2336.4L1445.0 2336.7L1446.0 2337.0L1447.0 2337.3L1448.0 2337.7L1449.0 2338.0L1450.0 2338.3L1451.0 2338.6L1452.0 2338.9L1453.0 2339.2L1454.0 2339.5L1455.0 2339.8L1456.0 2340.1L1457.0 2340.3L1458.0 2340.6L1459.0 2340.9L1460.0 2341.2L1461.0 2341.5L1462.0 2341.7L1463.0 2342.0L1464.0 2342.3L1465.0 2342.6L1466.0 2342.8L1467.0 2343.1L1468.0 2343.3L1469.0 2343.6L1470.0 2343.9L1471.0 2344.1L1472.0 2344.4L1473.0 2344.6L1474.0 2344.8L1475.0 2345.1L1476.0 2345.3L1477.0 2345.6L1478.0 2345.8L1479.0 2346.0L1480.0 2346.3L1481.0 2346.5L1482.0 2346.7L1483.0 2346.9L1484.0 2347.1L1485.0 2347.3L1486.0 2347.6L1487.0 2347.8L1488.0 2348.0L1489.0 2348.2L1490.0 2348.4L1491.0 2348.6L1492.0 2348.8L1493.0 2349.0L1494.0 2349.1L1495.0 2349.3L1496.0 2349.5L1497.0 2349.7L1498.0 2349.9L1499.0 2350.0L1500.0 2350.2L1501.0 2350.4L1502.0 2350.5L1503.0 2350.7L1504.0 2350.8L1505.0 2351.0L1506.0 2351.1L1507.0 2351.3L1508.0 2351.4L1509.0 2351.6L1510.0 2351.7L1511.0 2351.8L1512.0 2352.0L1513.0 2352.1L1514.0 2352.2L1515.0 2352.3L1516.0 2352.5L1517.0 2352.6L1518.0 2352.7L1519.0 2352.8L1520.0 2352.9L1521.0 2353.0L1522.0 2353.1L1523.0 2353.2L1524.0 2353.3L1525.0 2353.4L1526.0 2353.5L1527.0 2353.5L1528.0 2353.6L1529.0 2353.7L1530.0 2353.8L1531.0 2353.8L1532.0 2353.9L1533.0 2354.0L1534.0 2354.0L1535.0 2354.1L1536.0 2354.1L1537.0 2354.2L1538.0 2354.3L1539.0 2354.3L1540.0 2354.4L1541.0 2354.4L1542.0 2354.5L1543.0 2354.5L1544.0 2354.6L1545.0 2354.6L1546.0 2354.7L1547.0 2354.7L1548.0 2354.7L1549.0 2354.8L1550.0 2354.8L1551.0 2354.9L1552.0 2354.9L1553.0 2354.9L1554.0 2355.0L1555.0 2355.0L1556.0 2355.1L1557.0 2355.1L1558.0 2355.1L1559.0 2355.2L1560.0 2355.2L1561.0 2355.3L1562.0 2355.3L1563.0 2355.3L1564.0 2355.4L1565.0 2355.4L1566.0 2355.5L1567.0 2355.5L1568.0 2355.6L1569.0 2355.6L1570.0 2355.6L1571.0 2355.7L1572.0 2355.7L1573.0 2355.8L1574.0 2355.8L1575.0 2355.9L1576.0 2355.9L1577.0 2356.0L1578.0 2356.0L1579.0 2356.1L1580.0 2356.1L1581.0 2356.2L1582.0 2356.2L1583.0 2356.3L1584.0 2356.3L1585.0 2356.4L1586.0 2356.4L1587.0 2356.5L1588.0 2356.5L1589.0 2356.6L1590.0 2356.6L1591.0 2356.7L1592.0 2356.7L1593.0 2356.8L1594.0 2356.8L1595.0 2356.9L1596.0 2357.0L1597.0 2357.0L1598.0 2357.1L1599.0 2357.1L1600.0 2357.2L1601.0 2357.3L1602.0 2357.3L1603.0 2357.4L1604.0 2357.4L1605.0 2357.5L1606.0 2357.6L1607.0 2357.6L1608.0 2357.7L1609.0 2357.8L1610.0 2357.8L1611.0 2357.9L1612.0 2358.0L1613.0 2358.0L1614.0 2358.1L1615.0 2358.2L1616.0 2358.3L1617.0 2358.3L1618.0 2358.4L1619.0 2358.5L1620.0 2358.6L1621.0 2358.6L1622.0 2358.7L1623.0 2358.8L1624.0 2358.9L1625.0 2358.9L1626.0 2359.0L1627.0 2359.1L1628.0 2359.2L1629.0 2359.3L1630.0 2359.3L1631.0 2359.4L1632.0 2359.5L1633.0 2359.6L1634.0 2359.7L1635.0 2359.8L1636.0 2359.9L1637.0 2359.9L1638.0 2360.0L1639.0 2360.1L1640.0 2360.2L1641.0 2360.3L1642.0 2360.4L1643.0 2360.5L1644.0 2360.6L1645.0 2360.6L1646.0 2360.7L1647.0 2360.8L1648.0 2360.9L1649.0 2361.0L1650.0 2361.1L1651.0 2361.2L1652.0 2361.3L1653.0 2361.4L1654.0 2361.5L1655.0 2361.5L1656.0 2361.6L1657.0 2361.7L1658.0 2361.8L1659.0 2361.9L1660.0 2362.0L1661.0 2362.1L1662.0 2362.2L1663.0 2362.3L1664.0 2362.4L1665.0 2362.5L1666.0 2362.6L1667.0 2362.7L1668.0 2362.7L1669.0 2362.8L1670.0 2362.9L1671.0 2363.0L1672.0 2363.1L1673.0 2363.2L1674.0 2363.3L1675.0 2363.4L1676.0 2363.5L1677.0 2363.6L1678.0 2363.7L1679.0 2363.7L1680.0 2363.8L1681.0 2363.9L1682.0 2364.0L1683.0 2364.1L1684.0 2364.2L1685.0 2364.3L1686.0 2364.4L1687.0 2364.4L1688.0 2364.5L1689.0 2364.6L1690.0 2364.7L1691.0 2364.8L1692.0 2364.9L1693.0 2364.9L1694.0 2365.0L1695.0 2365.1L1696.0 2365.2L1697.0 2365.3L1698.0 2365.4L1699.0 2365.4L1700.0 2365.5L1701.0 2365.6L1702.0 2365.7L1703.0 2365.7L1704.0 2365.8L1705.0 2365.9L1706.0 2366.0L1707.0 2366.0L1708.0 2366.1L1709.0 2366.2L1710.0 2366.3L1711.0 2366.3L1712.0 2366.4L1713.0 2366.5L1714.0 2366.5L1715.0 2366.6L1716.0 2366.7L1717.0 2366.7L1718.0 2366.8L1719.0 2366.9L1720.0 2366.9L1721.0 2367.0L1722.0 2367.1L1723.0 2367.1L1724.0 2367.2L1725.0 2367.2L1726.0 2367.3L1727.0 2367.4L1728.0 2367.4L1729.0 2367.5L1730.0 2367.5L1731.0 2367.6L1732.0 2367.7L1733.0 2367.7L1734.0 2367.8L1735.0 2367.8L1736.0 2367.9L1737.0 2367.9L1738.0 2368.0L1739.0 2368.1L1740.0 2368.1L1741.0 2368.2L1742.0 2368.2L1743.0 2368.3L1744.0 2368.3L1745.0 2368.4L1746.0 2368.4L1747.0 2368.5L1748.0 2368.5L1749.0 2368.6L1750.0 2368.6L1751.0 2368.7L1752.0 2368.7L1753.0 2368.7L1754.0 2368.8L1755.0 2368.8L1756.0 2368.9L1757.0 2368.9L1758.0 2369.0L1759.0 2369.0L1760.0 2369.1L1761.0 2369.1L1762.0 2369.1L1763.0 2369.2L1764.0 2369.2L1765.0 2369.3L1766.0 2369.3L1767.0 2369.3L1768.0 2369.4L1769.0 2369.4L1770.0 2369.5L1771.0 2369.5L1772.0 2369.5L1773.0 2369.6L1774.0 2369.6L1775.0 2369.7L1776.0 2369.7L1777.0 2369.7L1778.0 2369.8L1779.0 2369.8L1780.0 2369.8L1781.0 2369.9L1782.0 2369.9L1783.0 2369.9L1784.0 2370.0L1785.0 2370.0L1786.0 2370.0L1787.0 2370.1L1788.0 2370.1L1789.0 2370.1L1790.0 2370.2L1791.0 2370.2L1792.0 2370.2L1793.0 2370.3L1794.0 2370.3L1795.0 2370.3L1796.0 2370.3L1797.0 2370.4L1798.0 2370.4L1799.0 2370.4L1800.0 2370.5L1801.0 2370.5L1802.0 2370.5L1803.0 2370.5L1804.0 2370.6L1805.0 2370.6L1806.0 2370.6L1807.0 2370.7L1808.0 2370.7L1809.0 2370.7L1810.0 2370.7L1811.0 2370.8L1812.0 2370.8L1813.0 2370.8L1814.0 2370.8L1815.0 2370.9L1816.0 2370.9L1817.0 2370.9L1818.0 2370.9L1819.0 2371.0L1820.0 2371.0L1821.0 2371.0L1822.0 2371.0L1823.0 2371.1L1824.0 2371.1L1825.0 2371.1L1826.0 2371.1L1827.0 2371.2L1828.0 2371.2L1829.0 2371.2L1830.0 2371.2L1831.0 2371.2L1832.0 2371.3L1833.0 2371.3L1834.0 2371.3L1835.0 2371.3L1836.0 2371.4L1837.0 2371.4L1838.0 2371.4L1839.0 2371.4L1840.0 2371.4L1841.0 2371.5L1842.0 2371.5L1843.0 2371.5L1844.0 2371.5L1845.0 2371.5L1846.0 2371.6L1847.0 2371.6L1848.0 2371.6L1849.0 2371.6L1850.0 2371.6L1851.0 2371.7L1852.0 2371.7L1853.0 2371.7L1854.0 2371.7L1855.0 2371.7L1856.0 2371.7L1857.0 2371.8L1858.0 2371.8L1859.0 2371.8L1860.0 2371.8L1861.0 2371.8L1862.0 2371.9L1863.0 2371.9L1864.0 2371.9L1865.0 2371.9L1866.0 2371.9L1867.0 2371.9L1868.0 2372.0L1869.0 2372.0L1870.0 2372.0L1871.0 2372.0L1872.0 2372.0L1873.0 2372.1L1874.0 2372.1L1875.0 2372.1L1876.0 2372.1L1877.0 2372.1L1878.0 2372.1L1879.0 2372.2L1880.0 2372.2L1881.0 2372.2L1882.0 2372.2L1883.0 2372.2L1884.0 2372.2L1885.0 2372.3L1886.0 2372.3L1887.0 2372.3L1888.0 2372.3L1889.0 2372.3L1890.0 2372.3L1891.0 2372.4L1892.0 2372.4L1893.0 2372.4L1894.0 2372.4L1895.0 2372.4L1896.0 2372.4L1897.0 2372.5L1898.0 2372.5L1899.0 2372.5L1900.0 2372.5L1901.0 2372.5L1902.0 2372.5L1903.0 2372.6L1904.0 2372.6L1905.0 2372.6L1906.0 2372.6L1907.0 2372.6L1908.0 2372.6L1909.0 2372.7L1910.0 2372.7L1911.0 2372.7L1912.0 2372.7L1913.0 2372.7L1914.0 2372.8L1915.0 2372.8L1916.0 2372.8L1917.0 2372.8L1918.0 2372.8L1919.0 2372.8L1920.0 2372.9L1921.0 2372.9L1922.0 2372.9L1923.0 2372.9L1924.0 2372.9L1925.0 2372.9L1926.0 2373.0L1927.0 2373.0L1928.0 2373.0L1929.0 2373.0L1930.0 2373.0L1931.0 2373.0L1932.0 2373.1L1933.0 2373.1L1934.0 2373.1L1935.0 2373.1L1936.0 2373.1L1937.0 2373.1L1938.0 2373.2L1939.0 2373.2L1940.0 2373.2L1941.0 2373.2L1942.0 2373.2L1943.0 2373.2L1944.0 2373.3L1945.0 2373.3L1946.0 2373.3L1947.0 2373.3L1948.0 2373.3L1949.0 2373.4L1950.0 2373.4L1951.0 2373.4L1952.0 2373.4L1953.0 2373.4L1954.0 2373.4L1955.0 2373.5L1956.0 2373.5L1957.0 2373.5L1958.0 2373.5L1959.0 2373.5L1960.0 2373.6L1961.0 2373.6L1962.0 2373.6L1963.0 2373.6L1964.0 2373.6L1965.0 2373.7L1966.0 2373.7" fill="none" stroke="#ff0000" stroke-width="2.00" stroke-linejoin="round" stroke-linecap="butt" shape-rendering="crispEdges"/>
<path d="M400.0 2409.5L401.0 2408.2L402.0 2407.0L403.0 2405.8L404.0 2404.7L405.0 2403.7L406.0 2402.7L407.0 2401.8L408.0 2400.9L409.0 2400.0L410.0 2399.2L411.0 2398.3L412.0 2397.6L413.0 2396.8L414.0 2396.1L415.0 2395.3L416.0 2394.6L417.0 2393.9L418.0 2393.2L419.0 2392.5L420.0 2391.8L421.0 2391.1L422.0 2390.4L423.0 2389.7L424.0 2389.0L425.0 2388.3L426.0 2387.6L427.0 2386.9L428.0 2386.2L429.0 2385.5L430.0 2384.8L431.0 2384.1L432.0 2383.3L433.0 2382.6L434.0 2381.9L435.0 2381.2L436.0 2380.5L437.0 2379.7L438.0 2379.0L439.0 2378.3L440.0 2377.6L441.0 2376.9L442.0 2376.2L443.0 2375.5L444.0 2374.8L445.0 2374.1L446.0 2373.5L447.0 2372.8L448.0 2372.2L449.0 2371.6L450.0 2371.0L451.0 2370.4L452.0 2369.8L453.0 2369.3L454.0 2368.7L455.0 2368.2L456.0 2367.7L457.0 2367.3L458.0 2366.8L459.0 2366.4L460.0 2366.0L461.0 2365.7L462.0 2365.3L463.0 2365.0L464.0 2364.7L465.0 2364.5L466.0 2364.3L467.0 2364.1L468.0 2364.0L469.0 2363.9L470.0 2363.8L471.0 2363.8L472.0 2363.8L473.0 2363.9L474.0 2364.0L475.0 2364.1L476.0 2364.3L477.0 2364.6L478.0 2364.9L479.0 2365.2L480.0 2365.5L481.0 2365.9L482.0 2366.4L483.0 2366.9L484.0 2367.4L485.0 2367.9L486.0 2368.5L487.0 2369.1L488.0 2369.8L489.0 2370.4L490.0 2371.1L491.0 2371.8L492.0 2372.6L493.0 2373.4L494.0 2374.1L495.0 2374.9L496.0 2375.7L497.0 2376.6L498.0 2377.4L499.0 2378.2L500.0 2379.1L501.0 2379.9L502.0 2380.7L503.0 2381.6L504.0 2382.4L505.0 2383.2L506.0 2384.0L507.0 2384.8L508.0 2385.6L509.0 2386.3L510.0 2387.1L511.0 2387.8L512.0 2388.5L513.0 2389.3L514.0 2390.0L515.0 2390.6L516.0 2391.3L517.0 2391.9L518.0 2392.6L519.0 2393.2L520.0 2393.8L521.0 2394.3L522.0 2394.9L523.0 2395.4L524.0 2396.0L525.0 2396.5L526.0 2397.0L527.0 2397.5L528.0 2397.9L529.0 2398.4L530.0 2398.8L531.0 2399.3L532.0 2399.7L533.0 2400.1L534.0 2400.5L535.0 2401.0L536.0 2401.4L537.0 2401.8L538.0 2402.1L539.0 2402.5L540.0 2402.9L541.0 2403.3L542.0 2403.7L543.0 2404.1L544.0 2404.5L545.0 2404.9L546.0 2405.4L547.0 2405.8L548.0 2406.2L549.0 2406.7L550.0 2407.2L551.0 2407.7L552.0 2408.2L553.0 2408.7L554.0 2409.2L555.0 2409.8L556.0 2410.3L557.0 2410.9L558.0 2411.5L559.0 2412.0L560.0 2412.6L561.0 2413.2L562.0 2413.8L563.0 2414.4L564.0 2415.0L565.0 2415.7L566.0 2416.3L567.0 2416.9L568.0 2417.5L569.0 2418.1L570.0 2418.7L571.0 2419.3L572.0 2419.9L573.0 2420.5L574.0 2421.1L575.0 2421.7L576.0 2422.2L577.0 2422.8L578.0 2423.3L579.0 2423.8L580.0 2424.3L581.0 2424.8L582.0 2425.3L583.0 2425.7L584.0 2426.1L585.0 2426.5L586.0 2426.8L587.0 2427.2L588.0 2427.5L589.0 2427.8L590.0 2428.1L591.0 2428.3L592.0 2428.5L593.0 2428.7L594.0 2428.9L595.0 2429.0L596.0 2429.1L597.0 2429.1L598.0 2429.2L599.0 2429.2L600.0 2429.2L601.0 2429.2L602.0 2429.1L603.0 2429.0L604.0 2428.9L605.0 2428.8L606.0 2428.6L607.0 2428.4L608.0 2428.2L609.0 2428.0L610.0 2427.8L611.0 2427.6L612.0 2427.3L613.0 2427.0L614.0 2426.8L615.0 2426.5L616.0 2426.2L617.0 2425.9L618.0 2425.6L619.0 2425.3L620.0 2425.0L621.0 2424.7L622.0 2424.4L623.0 2424.1L624.0 2423.8L625.0 2423.5L626.0 2423.3L627.0 2423.1L628.0 2422.8L629.0 2422.6L630.0 2422.4L631.0 2422.2L632.0 2422.1L633.0 2421.9L634.0 2421.8L635.0 2421.6L636.0 2421.5L637.0 2421.4L638.0 2421.3L639.0 2421.2L640.0 2421.1L641.0 2421.0L642.0 2420.9L643.0 2420.8L644.0 2420.8L645.0 2420.7L646.0 2420.6L647.0 2420.6L648.0 2420.5L649.0 2420.5L650.0 2420.4L651.0 2420.4L652.0 2420.3L653.0 2420.3L654.0 2420.2L655.0 2420.2L656.0 2420.1L657.0 2420.0L658.0 2419.9L659.0 2419.9L660.0 2419.8L661.0 2419.7L662.0 2419.6L663.0 2419.4L664.0 2419.3L665.0 2419.2L666.0 2419.1L667.0 2418.9L668.0 2418.8L669.0 2418.6L670.0 2418.5L671.0 2418.3L672.0 2418.2L673.0 2418.0L674.0 2417.9L675.0 2417.7L676.0 2417.5L677.0 2417.4L678.0 2417.2L679.0 2417.1L680.0 2416.9L681.0 2416.8L682.0 2416.6L683.0 2416.5L684.0 2416.3L685.0 2416.2L686.0 2416.1L687.0 2415.9L688.0 2415.8L689.0 2415.7L690.0 2415.6L691.0 2415.5L692.0 2415.3L693.0 2415.2L694.0 2415.1L695.0 2415.1L696.0 2415.0L697.0 2414.9L698.0 2414.8L699.0 2414.7L700.0 2414.7L701.0 2414.6L702.0 2414.6L703.0 2414.5L704.0 2414.5L705.0 2414.4L706.0 2414.4L707.0 2414.4L708.0 2414.3L709.0 2414.3L710.0 2414.3L711.0 2414.3L712.0 2414.3L713.0 2414.2L714.0 2414.2L715.0 2414.2L716.0 2414.2L717.0 2414.2L718.0 2414.2L719.0 2414.2L720.0 2414.2L721.0 2414.2L722.0 2414.2L723.0 2414.2L724.0 2414.2L725.0 2414.2L726.0 2414.2L727.0 2414.2L728.0 2414.2L729.0 2414.2L730.0 2414.2L731.0 2414.2L732.0 2414.2L733.0 2414.2L734.0 2414.2L735.0 2414.1L736.0 2414.1L737.0 2414.1L738.0 2414.1L739.0 2414.0L740.0 2414.0L741.0 2414.0L742.0 2413.9L743.0 2413.9L744.0 2413.9L745.0 2413.8L746.0 2413.8L747.0 2413.7L748.0 2413.6L749.0 2413.6L750.0 2413.5L751.0 2413.4L752.0 2413.3L753.0 2413.3L754.0 2413.2L755.0 2413.1L756.0 2413.0L757.0 2412.8L758.0 2412.7L759.0 2412.6L760.0 2412.5L761.0 2412.3L762.0 2412.2L763.0 2412.0L764.0 2411.9L765.0 2411.7L766.0 2411.5L767.0 2411.3L768.0 2411.1L769.0 2410.9L770.0 2410.7L771.0 2410.5L772.0 2410.2L773.0 2409.9L774.0 2409.7L775.0 2409.4L776.0 2409.1L777.0 2408.8L778.0 2408.5L779.0 2408.1L780.0 2407.8L781.0 2407.4L782.0 2407.0L783.0 2406.6L784.0 2406.2L785.0 2405.7L786.0 2405.2L787.0 2404.8L788.0 2404.2L789.0 2403.7L790.0 2403.2L791.0 2402.6L792.0 2402.0L793.0 2401.3L794.0 2400.7L795.0 2400.0L796.0 2399.3L797.0 2398.5L798.0 2397.8L799.0 2397.0L800.0 2396.2L801.0 2395.3L802.0 2394.4L803.0 2393.5L804.0 2392.5L805.0 2391.5L806.0 2390.5L807.0 2389.4L808.0 2388.3L809.0 2387.2L810.0 2386.0L811.0 2384.7L812.0 2383.5L813.0 2382.2L814.0 2380.8L815.0 2379.4L816.0 2378.0L817.0 2376.5L818.0 2374.9L819.0 2373.3L820.0 2371.7L821.0 2370.0L822.0 2368.3L823.0 2366.5L824.0 2364.6L825.0 2362.7L826.0 2360.8L827.0 2358.8L828.0 2356.7L829.0 2354.6L830.0 2352.4L831.0 2350.2L832.0 2347.9L833.0 2345.5L834.0 2343.1L835.0 2340.6L836.0 2338.1L837.0 2335.5L838.0 2332.9L839.0 2330.2L840.0 2327.4L841.0 2324.6L842.0 2321.7L843.0 2318.8L844.0 2315.8L845.0 2312.8L846.0 2309.7L847.0 2306.6L848.0 2303.5L849.0 2300.3L850.0 2297.0L851.0 2293.7L852.0 2290.4L853.0 2287.1L854.0 2283.8L855.0 2280.4L856.0 2277.1L857.0 2273.7L858.0 2270.3L859.0 2267.0L860.0 2263.7L861.0 2260.4L862.0 2257.1L863.0 2253.9L864.0 2250.8L865.0 2247.7L866.0 2244.7L867.0 2241.9L868.0 2239.1L869.0 2236.4L870.0 2233.8L871.0 2231.4L872.0 2229.1L873.0 2227.0L874.0 2225.1L875.0 2223.3L876.0 2221.7L877.0 2220.3L878.0 2219.1L879.0 2218.2L880.0 2217.4L881.0 2216.9L882.0 2216.5L883.0 2216.5L884.0 2216.6L885.0 2217.2L886.0 2218.2L887.0 2219.7L888.0 2221.5L889.0 2223.8L890.0 2226.4L891.0 2229.4L892.0 2232.6L893.0 2236.2L894.0 2240.0L895.0 2244.1L896.0 2248.4L897.0 2252.8L898.0 2257.4L899.0 2262.2L900.0 2267.0L901.0 2271.9L902.0 2276.8L903.0 2281.7L904.0 2286.7L905.0 2291.6L906.0 2296.5L907.0 2301.4L908.0 2306.2L909.0 2311.0L910.0 2315.6L911.0 2320.2L912.0 2324.7L913.0 2329.1L914.0 2333.4L915.0 2337.6L916.0 2341.7L917.0 2345.7L918.0 2349.5L919.0 2353.3L920.0 2356.9L921.0 2360.4L922.0 2363.9L923.0 2367.2L924.0 2370.4L925.0 2373.5L926.0 2376.5L927.0 2379.4L928.0 2382.1L929.0 2384.8L930.0 2387.4L931.0 2389.9L932.0 2392.3L933.0 2394.6L934.0 2396.9L935.0 2399.0L936.0 2401.1L937.0 2403.1L938.0 2405.0L939.0 2406.8L940.0 2408.6L941.0 2410.2L942.0 2411.9L943.0 2413.4L944.0 2414.9L945.0 2416.3L946.0 2417.7L947.0 2419.0L948.0 2420.3L949.0 2421.5L950.0 2422.7L951.0 2423.8L952.0 2424.9L953.0 2425.9L954.0 2426.9L955.0 2427.8L956.0 2428.7L957.0 2429.6L958.0 2430.4L959.0 2431.2L960.0 2431.9L961.0 2432.7L962.0 2433.4L963.0 2434.0L964.0 2434.7L965.0 2435.3L966.0 2435.8L967.0 2436.4L968.0 2436.9L969.0 2437.4L970.0 2437.9L971.0 2438.4L972.0 2438.8L973.0 2439.2L974.0 2439.6L975.0 2440.0L976.0 2440.4L977.0 2440.7L978.0 2441.1L979.0 2441.4L980.0 2441.7L981.0 2441.9L982.0 2442.2L983.0 2442.4L984.0 2442.7L985.0 2442.9L986.0 2443.1L987.0 2443.3L988.0 2443.5L989.0 2443.6L990.0 2443.8L991.0 2443.9L992.0 2444.1L993.0 2444.2L994.0 2444.3L995.0 2444.4L996.0 2444.5L997.0 2444.5L998.0 2444.6L999.0 2444.7L1000.0 2444.7L1001.0 2444.7L1002.0 2444.8L1003.0 2444.8L1004.0 2444.8L1005.0 2444.8L1006.0 2444.8L1007.0 2444.8L1008.0 2444.8L1009.0 2444.8L1010.0 2444.7L1011.0 2444.7L1012.0 2444.6L1013.0 2444.6L1014.0 2444.5L1015.0 2444.5L1016.0 2444.4L1017.0 2444.4L1018.0 2444.3L1019.0 2444.2L1020.0 2444.2L1021.0 2444.1L1022.0 2444.1L1023.0 2444.0L1024.0 2443.9L1025.0 2443.9L1026.0 2443.8L1027.0 2443.8L1028.0 2443.8L1029.0 2443.7L1030.0 2443.7L1031.0 2443.7L1032.0 2443.7L1033.0 2443.7L1034.0 2443.7L1035.0 2443.7L1036.0 2443.7L1037.0 2443.7L1038.0 2443.7L1039.0 2443.7L1040.0 2443.8L1041.0 2443.8L1042.0 2443.8L1043.0 2443.8L1044.0 2443.8L1045.0 2443.8L1046.0 2443.8L1047.0 2443.8L1048.0 2443.8L1049.0 2443.7L1050.0 2443.7L1051.0 2443.7L1052.0 2443.6L1053.0 2443.5L1054.0 2443.5L1055.0 2443.4L1056.0 2443.3L1057.0 2443.2L1058.0 2443.1L1059.0 2442.9L1060.0 2442.8L1061.0 2442.6L1062.0 2442.4L1063.0 2442.3L1064.0 2442.1L1065.0 2441.8L1066.0 2441.6L1067.0 2441.4L1068.0 2441.1L1069.0 2440.8L1070.0 2440.5L1071.0 2440.2L1072.0 2439.9L1073.0 2439.6L1074.0 2439.2L1075.0 2438.9L1076.0 2438.5L1077.0 2438.1L1078.0 2437.6L1079.0 2437.2L1080.0 2436.8L1081.0 2436.3L1082.0 2435.8L1083.0 2435.3L1084.0 2434.8L1085.0 2434.3L1086.0 2433.8L1087.0 2433.2L1088.0 2432.6L1089.0 2432.1L1090.0 2431.5L1091.0 2430.8L1092.0 2430.2L1093.0 2429.6L1094.0 2428.9L1095.0 2428.2L1096.0 2427.6L1097.0 2426.8L1098.0 2426.1L1099.0 2425.4L1100.0 2424.6L1101.0 2423.8L1102.0 2423.0L1103.0 2422.2L1104.0 2421.4L1105.0 2420.5L1106.0 2419.6L1107.0 2418.7L1108.0 2417.8L1109.0 2416.8L1110.0 2415.8L1111.0 2414.8L1112.0 2413.8L1113.0 2412.7L1114.0 2411.6L1115.0 2410.5L1116.0 2409.4L1117.0 2408.2L1118.0 2407.0L1119.0 2405.8L1120.0 2404.5L1121.0 2403.2L1122.0 2401.9L1123.0 2400.5L1124.0 2399.1L1125.0 2397.6L1126.0 2396.2L1127.0 2394.6L1128.0 2393.1L1129.0 2391.5L1130.0 2389.8L1131.0 2388.1L1132.0 2386.4L1133.0 2384.6L1134.0 2382.8L1135.0 2380.9L1136.0 2379.0L1137.0 2377.0L1138.0 2375.0L1139.0 2372.9L1140.0 2370.7L1141.0 2368.5L1142.0 2366.3L1143.0 2364.0L1144.0 2361.6L1145.0 2359.2L1146.0 2356.7L1147.0 2354.1L1148.0 2351.5L1149.0 2348.8L1150.0 2346.1L1151.0 2343.3L1152.0 2340.4L1153.0 2337.4L1154.0 2334.4L1155.0 2331.3L1156.0 2328.2L1157.0 2324.9L1158.0 2321.6L1159.0 2318.2L1160.0 2314.8L1161.0 2311.3L1162.0 2307.7L1163.0 2304.0L1164.0 2300.3L1165.0 2296.5L1166.0 2292.7L1167.0 2288.8L1168.0 2284.8L1169.0 2280.8L1170.0 2276.7L1171.0 2272.6L1172.0 2268.4L1173.0 2264.2L1174.0 2259.9L1175.0 2255.7L1176.0 2251.4L1177.0 2247.1L1178.0 2242.8L1179.0 2238.6L1180.0 2234.3L1181.0 2230.1L1182.0 2225.9L1183.0 2221.7L1184.0 2217.6L1185.0 2213.6L1186.0 2209.7L1187.0 2205.9L1188.0 2202.2L1189.0 2198.6L1190.0 2195.2L1191.0 2191.9L1192.0 2188.8L1193.0 2185.9L1194.0 2183.2L1195.0 2180.7L1196.0 2178.4L1197.0 2176.4L1198.0 2174.6L1199.0 2173.0L1200.0 2171.8L1201.0 2170.8L1202.0 2170.0L1203.0 2169.6L1203.6 2169.5L1204.0 2169.4L1205.0 2169.6L1206.0 2170.2L1207.0 2171.1L1208.0 2172.3L1209.0 2174.0L1210.0 2175.9L1211.0 2178.2L1212.0 2180.8L1213.0 2183.7L1214.0 2186.9L1215.0 2190.3L1216.0 2194.0L1217.0 2197.8L1218.0 2201.9L1219.0 2206.1L1220.0 2210.5L1221.0 2215.0L1222.0 2219.7L1223.0 2224.4L1224.0 2229.1L1225.0 2234.0L1226.0 2238.8L1227.0 2243.7L1228.0 2248.6L1229.0 2253.5L1230.0 2258.4L1231.0 2263.2L1232.0 2268.0L1233.0 2272.7L1234.0 2277.4L1235.0 2282.0L1236.0 2286.6L1237.0 2291.0L1238.0 2295.4L1239.0 2299.7L1240.0 2303.9L1241.0 2308.1L1242.0 2312.1L1243.0 2316.1L1244.0 2319.9L1245.0 2323.7L1246.0 2327.4L1247.0 2330.9L1248.0 2334.4L1249.0 2337.8L1250.0 2341.1L1251.0 2344.3L1252.0 2347.4L1253.0 2350.5L1254.0 2353.4L1255.0 2356.3L1256.0 2359.1L1257.0 2361.8L1258.0 2364.4L1259.0 2367.0L1260.0 2369.5L1261.0 2371.9L1262.0 2374.2L1263.0 2376.5L1264.0 2378.7L1265.0 2380.8L1266.0 2382.9L1267.0 2384.9L1268.0 2386.8L1269.0 2388.7L1270.0 2390.5L1271.0 2392.3L1272.0 2394.1L1273.0 2395.7L1274.0 2397.4L1275.0 2398.9L1276.0 2400.5L1277.0 2402.0L1278.0 2403.4L1279.0 2404.8L1280.0 2406.2L1281.0 2407.5L1282.0 2408.8L1283.0 2410.0L1284.0 2411.2L1285.0 2412.4L1286.0 2413.5L1287.0 2414.6L1288.0 2415.7L1289.0 2416.8L1290.0 2417.8L1291.0 2418.8L1292.0 2419.7L1293.0 2420.7L1294.0 2421.6L1295.0 2422.5L1296.0 2423.3L1297.0 2424.2L1298.0 2425.0L1299.0 2425.8L1300.0 2426.6L1301.0 2427.3L1302.0 2428.0L1303.0 2428.7L1304.0 2429.4L1305.0 2430.1L1306.0 2430.8L1307.0 2431.4L1308.0 2432.1L1309.0 2432.7L1310.0 2433.3L1311.0 2433.9L1312.0 2434.4L1313.0 2435.0L1314.0 2435.6L1315.0 2436.1L1316.0 2436.6L1317.0 2437.1L1318.0 2437.6L1319.0 2438.1L1320.0 2438.6L1321.0 2439.1L1322.0 2439.6L1323.0 2440.1L1324.0 2440.5L1325.0 2441.0L1326.0 2441.4L1327.0 2441.9L1328.0 2442.3L1329.0 2442.7L1330.0 2443.1L1331.0 2443.6L1332.0 2444.0L1333.0 2444.4L1334.0 2444.8L1335.0 2445.2L1336.0 2445.6L1337.0 2446.0L1338.0 2446.4L1339.0 2446.8L1340.0 2447.2L1341.0 2447.6L1342.0 2448.0L1343.0 2448.4L1344.0 2448.7L1345.0 2449.1L1346.0 2449.5L1347.0 2449.9L1348.0 2450.2L1349.0 2450.6L1350.0 2451.0L1351.0 2451.3L1352.0 2451.7L1353.0 2452.1L1354.0 2452.4L1355.0 2452.8L1356.0 2453.2L1357.0 2453.5L1358.0 2453.9L1359.0 2454.2L1360.0 2454.6L1361.0 2455.0L1362.0 2455.3L1363.0 2455.7L1364.0 2456.0L1365.0 2456.4L1366.0 2456.7L1367.0 2457.1L1368.0 2457.4L1369.0 2457.8L1370.0 2458.1L1371.0 2458.5L1372.0 2458.8L1373.0 2459.2L1374.0 2459.5L1375.0 2459.9L1376.0 2460.2L1377.0 2460.6L1378.0 2460.9L1379.0 2461.3L1380.0 2461.6L1381.0 2462.0L1382.0 2462.3L1383.0 2462.7L1384.0 2463.0L1385.0 2463.3L1386.0 2463.7L1387.0 2464.0L1388.0 2464.4L1389.0 2464.7L1390.0 2465.0L1391.0 2465.4L1392.0 2465.7L1393.0 2466.1L1394.0 2466.4L1395.0 2466.7L1396.0 2467.1L1397.0 2467.4L1398.0 2467.7L1399.0 2468.1L1400.0 2468.4L1401.0 2468.8L1402.0 2469.1L1403.0 2469.4L1404.0 2469.7L1405.0 2470.1L1406.0 2470.4L1407.0 2470.7L1408.0 2471.1L1409.0 2471.4L1410.0 2471.7L1411.0 2472.0L1412.0 2472.4L1413.0 2472.7L1414.0 2473.0L1415.0 2473.3L1416.0 2473.7L1417.0 2474.0L1418.0 2474.3L1419.0 2474.6L1420.0 2474.9L1421.0 2475.3L1422.0 2475.6L1423.0 2475.9L1424.0 2476.2L1425.0 2476.5L1426.0 2476.8L1427.0 2477.1L1428.0 2477.4L1429.0 2477.8L1430.0 2478.1L1431.0 2478.4L1432.0 2478.7L1433.0 2479.0L1434.0 2479.3L1435.0 2479.6L1436.0 2479.9L1437.0 2480.2L1438.0 2480.5L1439.0 2480.8L1440.0 2481.1L1441.0 2481.4L1442.0 2481.7L1443.0 2482.0L1444.0 2482.3L1445.0 2482.6L1446.0 2482.8L1447.0 2483.1L1448.0 2483.4L1449.0 2483.7L1450.0 2484.0L1451.0 2484.3L1452.0 2484.5L1453.0 2484.8L1454.0 2485.1L1455.0 2485.4L1456.0 2485.6L1457.0 2485.9L1458.0 2486.2L1459.0 2486.4L1460.0 2486.7L1461.0 2487.0L1462.0 2487.2L1463.0 2487.5L1464.0 2487.7L1465.0 2488.0L1466.0 2488.2L1467.0 2488.5L1468.0 2488.7L1469.0 2489.0L1470.0 2489.2L1471.0 2489.4L1472.0 2489.7L1473.0 2489.9L1474.0 2490.1L1475.0 2490.3L1476.0 2490.5L1477.0 2490.8L1478.0 2491.0L1479.0 2491.2L1480.0 2491.4L1481.0 2491.6L1482.0 2491.8L1483.0 2492.0L1484.0 2492.2L1485.0 2492.3L1486.0 2492.5L1487.0 2492.7L1488.0 2492.9L1489.0 2493.1L1490.0 2493.2L1491.0 2493.4L1492.0 2493.6L1493.0 2493.7L1494.0 2493.9L1495.0 2494.0L1496.0 2494.2L1497.0 2494.3L1498.0 2494.5L1499.0 2494.6L1500.0 2494.7L1501.0 2494.9L1502.0 2495.0L1503.0 2495.1L1504.0 2495.3L1505.0 2495.4L1506.0 2495.5L1507.0 2495.6L1508.0 2495.7L1509.0 2495.8L1510.0 2495.9L1511.0 2496.0L1512.0 2496.2L1513.0 2496.2L1514.0 2496.3L1515.0 2496.4L1516.0 2496.5L1517.0 2496.6L1518.0 2496.7L1519.0 2496.8L1520.0 2496.9L1521.0 2496.9L1522.0 2497.0L1523.0 2497.1L1524.0 2497.2L1525.0 2497.2L1526.0 2497.3L1527.0 2497.4L1528.0 2497.4L1529.0 2497.5L1530.0 2497.5L1531.0 2497.6L1532.0 2497.6L1533.0 2497.7L1534.0 2497.7L1535.0 2497.8L1536.0 2497.8L1537.0 2497.9L1538.0 2497.9L1539.0 2498.0L1540.0 2498.0L1541.0 2498.0L1542.0 2498.1L1543.0 2498.1L1544.0 2498.2L1545.0 2498.2L1546.0 2498.2L1547.0 2498.3L1548.0 2498.3L1549.0 2498.3L1550.0 2498.4L1551.0 2498.4L1552.0 2498.4L1553.0 2498.5L1554.0 2498.5L1555.0 2498.5L1556.0 2498.5L1557.0 2498.6L1558.0 2498.6L1559.0 2498.6L1560.0 2498.7L1561.0 2498.7L1562.0 2498.7L1563.0 2498.8L1564.0 2498.8L1565.0 2498.8L1566.0 2498.9L1567.0 2498.9L1568.0 2498.9L1569.0 2498.9L1570.0 2499.0L1571.0 2499.0L1572.0 2499.1L1573.0 2499.1L1574.0 2499.1L1575.0 2499.2L1576.0 2499.2L1577.0 2499.2L1578.0 2499.3L1579.0 2499.3L1580.0 2499.3L1581.0 2499.4L1582.0 2499.4L1583.0 2499.4L1584.0 2499.5L1585.0 2499.5L1586.0 2499.6L1587.0 2499.6L1588.0 2499.6L1589.0 2499.7L1590.0 2499.7L1591.0 2499.8L1592.0 2499.8L1593.0 2499.9L1594.0 2499.9L1595.0 2500.0L1596.0 2500.0L1597.0 2500.0L1598.0 2500.1L1599.0 2500.1L1600.0 2500.2L1601.0 2500.2L1602.0 2500.3L1603.0 2500.3L1604.0 2500.4L1605.0 2500.4L1606.0 2500.5L1607.0 2500.5L1608.0 2500.6L1609.0 2500.7L1610.0 2500.7L1611.0 2500.8L1612.0 2500.8L1613.0 2500.9L1614.0 2500.9L1615.0 2501.0L1616.0 2501.1L1617.0 2501.1L1618.0 2501.2L1619.0 2501.2L1620.0 2501.3L1621.0 2501.4L1622.0 2501.4L1623.0 2501.5L1624.0 2501.6L1625.0 2501.6L1626.0 2501.7L1627.0 2501.8L1628.0 2501.9L1629.0 2501.9L1630.0 2502.0L1631.0 2502.1L1632.0 2502.1L1633.0 2502.2L1634.0 2502.3L1635.0 2502.4L1636.0 2502.4L1637.0 2502.5L1638.0 2502.6L1639.0 2502.7L1640.0 2502.8L1641.0 2502.8L1642.0 2502.9L1643.0 2503.0L1644.0 2503.1L1645.0 2503.2L1646.0 2503.2L1647.0 2503.3L1648.0 2503.4L1649.0 2503.5L1650.0 2503.6L1651.0 2503.6L1652.0 2503.7L1653.0 2503.8L1654.0 2503.9L1655.0 2504.0L1656.0 2504.1L1657.0 2504.1L1658.0 2504.2L1659.0 2504.3L1660.0 2504.4L1661.0 2504.5L1662.0 2504.6L1663.0 2504.7L1664.0 2504.7L1665.0 2504.8L1666.0 2504.9L1667.0 2505.0L1668.0 2505.1L1669.0 2505.2L1670.0 2505.2L1671.0 2505.3L1672.0 2505.4L1673.0 2505.5L1674.0 2505.6L1675.0 2505.7L1676.0 2505.7L1677.0 2505.8L1678.0 2505.9L1679.0 2506.0L1680.0 2506.1L1681.0 2506.2L1682.0 2506.2L1683.0 2506.3L1684.0 2506.4L1685.0 2506.5L1686.0 2506.6L1687.0 2506.6L1688.0 2506.7L1689.0 2506.8L1690.0 2506.9L1691.0 2507.0L1692.0 2507.0L1693.0 2507.1L1694.0 2507.2L1695.0 2507.3L1696.0 2507.3L1697.0 2507.4L1698.0 2507.5L1699.0 2507.6L1700.0 2507.6L1701.0 2507.7L1702.0 2507.8L1703.0 2507.9L1704.0 2507.9L1705.0 2508.0L1706.0 2508.1L1707.0 2508.1L1708.0 2508.2L1709.0 2508.3L1710.0 2508.3L1711.0 2508.4L1712.0 2508.5L1713.0 2508.5L1714.0 2508.6L1715.0 2508.6L1716.0 2508.7L1717.0 2508.8L1718.0 2508.8L1719.0 2508.9L1720.0 2508.9L1721.0 2509.0L1722.0 2509.1L1723.0 2509.1L1724.0 2509.2L1725.0 2509.2L1726.0 2509.3L1727.0 2509.3L1728.0 2509.4L1729.0 2509.4L1730.0 2509.5L1731.0 2509.5L1732.0 2509.6L1733.0 2509.7L1734.0 2509.7L1735.0 2509.8L1736.0 2509.8L1737.0 2509.8L1738.0 2509.9L1739.0 2509.9L1740.0 2510.0L1741.0 2510.0L1742.0 2510.1L1743.0 2510.1L1744.0 2510.2L1745.0 2510.2L1746.0 2510.3L1747.0 2510.3L1748.0 2510.3L1749.0 2510.4L1750.0 2510.4L1751.0 2510.5L1752.0 2510.5L1753.0 2510.6L1754.0 2510.6L1755.0 2510.6L1756.0 2510.7L1757.0 2510.7L1758.0 2510.7L1759.0 2510.8L1760.0 2510.8L1761.0 2510.9L1762.0 2510.9L1763.0 2510.9L1764.0 2511.0L1765.0 2511.0L1766.0 2511.0L1767.0 2511.1L1768.0 2511.1L1769.0 2511.1L1770.0 2511.2L1771.0 2511.2L1772.0 2511.2L1773.0 2511.3L1774.0 2511.3L1775.0 2511.3L1776.0 2511.3L1777.0 2511.4L1778.0 2511.4L1779.0 2511.4L1780.0 2511.5L1781.0 2511.5L1782.0 2511.5L1783.0 2511.5L1784.0 2511.6L1785.0 2511.6L1786.0 2511.6L1787.0 2511.6L1788.0 2511.7L1789.0 2511.7L1790.0 2511.7L1791.0 2511.7L1792.0 2511.8L1793.0 2511.8L1794.0 2511.8L1795.0 2511.8L1796.0 2511.9L1797.0 2511.9L1798.0 2511.9L1799.0 2511.9L1800.0 2511.9L1801.0 2512.0L1802.0 2512.0L1803.0 2512.0L1804.0 2512.0L1805.0 2512.0L1806.0 2512.1L1807.0 2512.1L1808.0 2512.1L1809.0 2512.1L1810.0 2512.1L1811.0 2512.2L1812.0 2512.2L1813.0 2512.2L1814.0 2512.2L1815.0 2512.2L1816.0 2512.2L1817.0 2512.3L1818.0 2512.3L1819.0 2512.3L1820.0 2512.3L1821.0 2512.3L1822.0 2512.3L1823.0 2512.3L1824.0 2512.4L1825.0 2512.4L1826.0 2512.4L1827.0 2512.4L1828.0 2512.4L1829.0 2512.4L1830.0 2512.4L1831.0 2512.5L1832.0 2512.5L1833.0 2512.5L1834.0 2512.5L1835.0 2512.5L1836.0 2512.5L1837.0 2512.5L1838.0 2512.5L1839.0 2512.6L1840.0 2512.6L1841.0 2512.6L1842.0 2512.6L1843.0 2512.6L1844.0 2512.6L1845.0 2512.6L1846.0 2512.6L1847.0 2512.7L1848.0 2512.7L1849.0 2512.7L1850.0 2512.7L1851.0 2512.7L1852.0 2512.7L1853.0 2512.7L1854.0 2512.7L1855.0 2512.7L1856.0 2512.8L1857.0 2512.8L1858.0 2512.8L1859.0 2512.8L1860.0 2512.8L1861.0 2512.8L1862.0 2512.8L1863.0 2512.8L1864.0 2512.8L1865.0 2512.8L1866.0 2512.9L1867.0 2512.9L1868.0 2512.9L1869.0 2512.9L1870.0 2512.9L1871.0 2512.9L1872.0 2512.9L1873.0 2512.9L1874.0 2512.9L1875.0 2512.9L1876.0 2513.0L1877.0 2513.0L1878.0 2513.0L1879.0 2513.0L1880.0 2513.0L1881.0 2513.0L1882.0 2513.0L1883.0 2513.0L1884.0 2513.0L1885.0 2513.1L1886.0 2513.1L1887.0 2513.1L1888.0 2513.1L1889.0 2513.1L1890.0 2513.1L1891.0 2513.1L1892.0 2513.1L1893.0 2513.1L1894.0 2513.2L1895.0 2513.2L1896.0 2513.2L1897.0 2513.2L1898.0 2513.2L1899.0 2513.2L1900.0 2513.2L1901.0 2513.2L1902.0 2513.3L1903.0 2513.3L1904.0 2513.3L1905.0 2513.3L1906.0 2513.3L1907.0 2513.3L1908.0 2513.3L1909.0 2513.3L1910.0 2513.4L1911.0 2513.4L1912.0 2513.4L1913.0 2513.4L1914.0 2513.4L1915.0 2513.4L1916.0 2513.4L1917.0 2513.5L1918.0 2513.5L1919.0 2513.5L1920.0 2513.5L1921.0 2513.5L1922.0 2513.5L1923.0 2513.6L1924.0 2513.6L1925.0 2513.6L1926.0 2513.6L1927.0 2513.6L1928.0 2513.6L1929.0 2513.7L1930.0 2513.7L1931.0 2513.7L1932.0 2513.7L1933.0 2513.7L1934.0 2513.7L1935.0 2513.8L1936.0 2513.8L1937.0 2513.8L1938.0 2513.8L1939.0 2513.8L1940.0 2513.9L1941.0 2513.9L1942.0 2513.9L1943.0 2513.9L1944.0 2513.9L1945.0 2514.0L1946.0 2514.0L1947.0 2514.0L1948.0 2514.0L1949.0 2514.1L1950.0 2514.1L1951.0 2514.1L1952.0 2514.1L1953.0 2514.2L1954.0 2514.2L1955.0 2514.2L1956.0 2514.2L1957.0 2514.3L1958.0 2514.3L1959.0 2514.3L1960.0 2514.3L1961.0 2514.4L1962.0 2514.4L1963.0 2514.4L1964.0 2514.4L1965.0 2514.5L1966.0 2514.5" fill="none" stroke="#0000ff" stroke-width="2.00" stroke-linejoin="round" stroke-linecap="butt" shape-rendering="crispEdges"/>
<path d="M400.0 2579.5L401.0 2579.1L402.0 2578.9L403.0 2578.6L404.0 2578.3L405.0 2578.1L406.0 2577.8L407.0 2577.6L408.0 2577.4L409.0 2577.2L410.0 2577.0L411.0 2576.8L412.0 2576.6L413.0 2576.4L414.0 2576.2L415.0 2576.1L416.0 2575.9L417.0 2575.7L418.0 2575.6L419.0 2575.4L420.0 2575.2L421.0 2575.1L422.0 2574.9L423.0 2574.7L424.0 2574.6L425.0 2574.4L426.0 2574.2L427.0 2574.1L428.0 2573.9L429.0 2573.7L430.0 2573.5L431.0 2573.4L432.0 2573.2L433.0 2573.0L434.0 2572.8L435.0 2572.6L436.0 2572.5L437.0 2572.3L438.0 2572.1L439.0 2571.9L440.0 2571.7L441.0 2571.5L442.0 2571.3L443.0 2571.2L444.0 2571.0L445.0 2570.8L446.0 2570.6L447.0 2570.4L448.0 2570.3L449.0 2570.1L450.0 2569.9L451.0 2569.7L452.0 2569.6L453.0 2569.4L454.0 2569.3L455.0 2569.1L456.0 2569.0L457.0 2568.8L458.0 2568.7L459.0 2568.6L460.0 2568.5L461.0 2568.4L462.0 2568.3L463.0 2568.2L464.0 2568.1L465.0 2568.0L466.0 2567.9L467.0 2567.9L468.0 2567.8L469.0 2567.8L470.0 2567.7L471.0 2567.7L472.0 2567.7L473.0 2567.7L474.0 2567.7L475.0 2567.7L476.0 2567.7L477.0 2567.7L478.0 2567.8L479.0 2567.8L480.0 2567.9L481.0 2567.9L482.0 2568.0L483.0 2568.1L484.0 2568.2L485.0 2568.3L486.0 2568.4L487.0 2568.5L488.0 2568.6L489.0 2568.7L490.0 2568.9L491.0 2569.0L492.0 2569.2L493.0 2569.3L494.0 2569.5L495.0 2569.7L496.0 2569.8L497.0 2570.0L498.0 2570.2L499.0 2570.4L500.0 2570.6L501.0 2570.8L502.0 2571.0L503.0 2571.2L504.0 2571.4L505.0 2571.6L506.0 2571.8L507.0 2572.0L508.0 2572.2L509.0 2572.4L510.0 2572.6L511.0 2572.8L512.0 2573.1L513.0 2573.3L514.0 2573.5L515.0 2573.7L516.0 2574.0L517.0 2574.2L518.0 2574.4L519.0 2574.6L520.0 2574.8L521.0 2575.1L522.0 2575.3L523.0 2575.5L524.0 2575.7L525.0 2575.9L526.0 2576.2L527.0 2576.4L528.0 2576.6L529.0 2576.8L530.0 2577.0L531.0 2577.3L532.0 2577.5L533.0 2577.7L534.0 2577.9L535.0 2578.1L536.0 2578.3L537.0 2578.5L538.0 2578.7L539.0 2578.9L540.0 2579.1L541.0 2579.3L542.0 2579.5L543.0 2579.7L544.0 2579.9L545.0 2580.1L546.0 2580.3L547.0 2580.5L548.0 2580.7L549.0 2580.9L550.0 2581.1L551.0 2581.3L552.0 2581.4L553.0 2581.6L554.0 2581.8L555.0 2582.0L556.0 2582.1L557.0 2582.3L558.0 2582.5L559.0 2582.6L560.0 2582.8L561.0 2583.0L562.0 2583.1L563.0 2583.3L564.0 2583.4L565.0 2583.6L566.0 2583.7L567.0 2583.8L568.0 2584.0L569.0 2584.1L570.0 2584.2L571.0 2584.4L572.0 2584.5L573.0 2584.6L574.0 2584.7L575.0 2584.8L576.0 2585.0L577.0 2585.1L578.0 2585.2L579.0 2585.3L580.0 2585.4L581.0 2585.4L582.0 2585.5L583.0 2585.6L584.0 2585.7L585.0 2585.8L586.0 2585.8L587.0 2585.9L588.0 2586.0L589.0 2586.0L590.0 2586.1L591.0 2586.1L592.0 2586.2L593.0 2586.2L594.0 2586.3L595.0 2586.3L596.0 2586.3L597.0 2586.4L598.0 2586.4L599.0 2586.4L600.0 2586.4L601.0 2586.4L602.0 2586.5L603.0 2586.5L604.0 2586.5L605.0 2586.5L606.0 2586.5L607.0 2586.5L608.0 2586.5L609.0 2586.4L610.0 2586.4L611.0 2586.4L612.0 2586.4L613.0 2586.4L614.0 2586.4L615.0 2586.3L616.0 2586.3L617.0 2586.3L618.0 2586.2L619.0 2586.2L620.0 2586.2L621.0 2586.1L622.0 2586.1L623.0 2586.0L624.0 2586.0L625.0 2586.0L626.0 2585.9L627.0 2585.9L628.0 2585.8L629.0 2585.8L630.0 2585.7L631.0 2585.7L632.0 2585.6L633.0 2585.6L634.0 2585.5L635.0 2585.5L636.0 2585.4L637.0 2585.4L638.0 2585.3L639.0 2585.3L640.0 2585.2L641.0 2585.2L642.0 2585.1L643.0 2585.1L644.0 2585.0L645.0 2585.0L646.0 2584.9L647.0 2584.9L648.0 2584.8L649.0 2584.8L650.0 2584.7L651.0 2584.7L652.0 2584.6L653.0 2584.6L654.0 2584.5L655.0 2584.5L656.0 2584.4L657.0 2584.4L658.0 2584.3L659.0 2584.3L660.0 2584.2L661.0 2584.2L662.0 2584.1L663.0 2584.1L664.0 2584.0L665.0 2584.0L666.0 2584.0L667.0 2583.9L668.0 2583.9L669.0 2583.8L670.0 2583.8L671.0 2583.7L672.0 2583.7L673.0 2583.6L674.0 2583.6L675.0 2583.6L676.0 2583.5L677.0 2583.5L678.0 2583.4L679.0 2583.4L680.0 2583.3L681.0 2583.3L682.0 2583.3L683.0 2583.2L684.0 2583.2L685.0 2583.1L686.0 2583.1L687.0 2583.1L688.0 2583.0L689.0 2583.0L690.0 2582.9L691.0 2582.9L692.0 2582.9L693.0 2582.8L694.0 2582.8L695.0 2582.7L696.0 2582.7L697.0 2582.7L698.0 2582.6L699.0 2582.6L700.0 2582.5L701.0 2582.5L702.0 2582.5L703.0 2582.4L704.0 2582.4L705.0 2582.3L706.0 2582.3L707.0 2582.3L708.0 2582.2L709.0 2582.2L710.0 2582.2L711.0 2582.1L712.0 2582.1L713.0 2582.1L714.0 2582.0L715.0 2582.0L716.0 2582.0L717.0 2581.9L718.0 2581.9L719.0 2581.9L720.0 2581.8L721.0 2581.8L722.0 2581.8L723.0 2581.7L724.0 2581.7L725.0 2581.7L726.0 2581.7L727.0 2581.6L728.0 2581.6L729.0 2581.6L730.0 2581.6L731.0 2581.5L732.0 2581.5L733.0 2581.5L734.0 2581.5L735.0 2581.5L736.0 2581.5L737.0 2581.4L738.0 2581.4L739.0 2581.4L740.0 2581.4L741.0 2581.4L742.0 2581.4L743.0 2581.4L744.0 2581.4L745.0 2581.4L746.0 2581.4L747.0 2581.4L748.0 2581.4L749.0 2581.4L750.0 2581.5L751.0 2581.5L752.0 2581.5L753.0 2581.5L754.0 2581.5L755.0 2581.5L756.0 2581.6L757.0 2581.6L758.0 2581.6L759.0 2581.6L760.0 2581.6L761.0 2581.6L762.0 2581.6L763.0 2581.6L764.0 2581.6L765.0 2581.6L766.0 2581.6L767.0 2581.6L768.0 2581.6L769.0 2581.6L770.0 2581.5L771.0 2581.5L772.0 2581.4L773.0 2581.4L774.0 2581.3L775.0 2581.2L776.0 2581.1L777.0 2581.1L778.0 2581.0L779.0 2580.8L780.0 2580.7L781.0 2580.6L782.0 2580.5L783.0 2580.4L784.0 2580.2L785.0 2580.1L786.0 2579.9L787.0 2579.7L788.0 2579.6L789.0 2579.4L790.0 2579.2L791.0 2579.0L792.0 2578.8L793.0 2578.6L794.0 2578.4L795.0 2578.1L796.0 2577.9L797.0 2577.6L798.0 2577.4L799.0 2577.1L800.0 2576.9L801.0 2576.6L802.0 2576.3L803.0 2576.0L804.0 2575.6L805.0 2575.3L806.0 2575.0L807.0 2574.6L808.0 2574.3L809.0 2573.9L810.0 2573.5L811.0 2573.1L812.0 2572.7L813.0 2572.3L814.0 2571.8L815.0 2571.4L816.0 2570.9L817.0 2570.4L818.0 2569.9L819.0 2569.4L820.0 2568.8L821.0 2568.3L822.0 2567.7L823.0 2567.2L824.0 2566.6L825.0 2565.9L826.0 2565.3L827.0 2564.7L828.0 2564.0L829.0 2563.3L830.0 2562.6L831.0 2561.9L832.0 2561.2L833.0 2560.4L834.0 2559.6L835.0 2558.9L836.0 2558.0L837.0 2557.2L838.0 2556.4L839.0 2555.5L840.0 2554.6L841.0 2553.7L842.0 2552.8L843.0 2551.9L844.0 2551.0L845.0 2550.0L846.0 2549.0L847.0 2548.1L848.0 2547.1L849.0 2546.0L850.0 2545.0L851.0 2544.0L852.0 2543.0L853.0 2541.9L854.0 2540.9L855.0 2539.8L856.0 2538.8L857.0 2537.7L858.0 2536.7L859.0 2535.6L860.0 2534.6L861.0 2533.6L862.0 2532.6L863.0 2531.6L864.0 2530.6L865.0 2529.7L866.0 2528.7L867.0 2527.8L868.0 2527.0L869.0 2526.2L870.0 2525.4L871.0 2524.6L872.0 2523.9L873.0 2523.3L874.0 2522.7L875.0 2522.2L876.0 2521.7L877.0 2521.3L878.0 2520.9L879.0 2520.6L880.0 2520.4L881.0 2520.3L882.0 2520.2L882.8 2520.2L883.0 2520.2L884.0 2520.2L885.0 2520.4L886.0 2520.7L887.0 2521.0L888.0 2521.5L889.0 2522.1L890.0 2522.7L891.0 2523.5L892.0 2524.3L893.0 2525.2L894.0 2526.1L895.0 2527.2L896.0 2528.3L897.0 2529.4L898.0 2530.6L899.0 2531.8L900.0 2533.1L901.0 2534.4L902.0 2535.7L903.0 2537.0L904.0 2538.3L905.0 2539.7L906.0 2541.1L907.0 2542.4L908.0 2543.8L909.0 2545.1L910.0 2546.4L911.0 2547.8L912.0 2549.1L913.0 2550.4L914.0 2551.6L915.0 2552.9L916.0 2554.1L917.0 2555.3L918.0 2556.5L919.0 2557.7L920.0 2558.8L921.0 2559.9L922.0 2561.0L923.0 2562.1L924.0 2563.1L925.0 2564.1L926.0 2565.1L927.0 2566.1L928.0 2567.0L929.0 2567.9L930.0 2568.8L931.0 2569.6L932.0 2570.5L933.0 2571.3L934.0 2572.0L935.0 2572.8L936.0 2573.5L937.0 2574.2L938.0 2574.9L939.0 2575.6L940.0 2576.2L941.0 2576.8L942.0 2577.4L943.0 2578.0L944.0 2578.6L945.0 2579.1L946.0 2579.6L947.0 2580.2L948.0 2580.6L949.0 2581.1L950.0 2581.6L951.0 2582.0L952.0 2582.4L953.0 2582.8L954.0 2583.2L955.0 2583.6L956.0 2584.0L957.0 2584.3L958.0 2584.7L959.0 2585.0L960.0 2585.3L961.0 2585.6L962.0 2585.9L963.0 2586.2L964.0 2586.5L965.0 2586.7L966.0 2587.0L967.0 2587.2L968.0 2587.4L969.0 2587.7L970.0 2587.9L971.0 2588.1L972.0 2588.3L973.0 2588.5L974.0 2588.7L975.0 2588.9L976.0 2589.0L977.0 2589.2L978.0 2589.4L979.0 2589.5L980.0 2589.7L981.0 2589.8L982.0 2589.9L983.0 2590.1L984.0 2590.2L985.0 2590.3L986.0 2590.4L987.0 2590.5L988.0 2590.7L989.0 2590.8L990.0 2590.9L991.0 2590.9L992.0 2591.0L993.0 2591.1L994.0 2591.2L995.0 2591.3L996.0 2591.4L997.0 2591.4L998.0 2591.5L999.0 2591.5L1000.0 2591.6L1001.0 2591.6L1002.0 2591.7L1003.0 2591.7L1004.0 2591.8L1005.0 2591.8L1006.0 2591.8L1007.0 2591.8L1008.0 2591.9L1009.0 2591.9L1010.0 2591.9L1011.0 2591.9L1012.0 2591.9L1013.0 2591.9L1014.0 2591.8L1015.0 2591.8L1016.0 2591.8L1017.0 2591.8L1018.0 2591.7L1019.0 2591.7L1020.0 2591.7L1021.0 2591.6L1022.0 2591.6L1023.0 2591.6L1024.0 2591.5L1025.0 2591.5L1026.0 2591.4L1027.0 2591.4L1028.0 2591.4L1029.0 2591.3L1030.0 2591.3L1031.0 2591.2L1032.0 2591.2L1033.0 2591.2L1034.0 2591.1L1035.0 2591.1L1036.0 2591.1L1037.0 2591.1L1038.0 2591.0L1039.0 2591.0L1040.0 2591.0L1041.0 2590.9L1042.0 2590.9L1043.0 2590.9L1044.0 2590.9L1045.0 2590.9L1046.0 2590.8L1047.0 2590.8L1048.0 2590.8L1049.0 2590.8L1050.0 2590.8L1051.0 2590.8L1052.0 2590.7L1053.0 2590.7L1054.0 2590.7L1055.0 2590.7L1056.0 2590.7L1057.0 2590.7L1058.0 2590.7L1059.0 2590.6L1060.0 2590.6L1061.0 2590.6L1062.0 2590.6L1063.0 2590.6L1064.0 2590.5L1065.0 2590.5L1066.0 2590.5L1067.0 2590.4L1068.0 2590.4L1069.0 2590.4L1070.0 2590.3L1071.0 2590.2L1072.0 2590.2L1073.0 2590.1L1074.0 2590.1L1075.0 2590.0L1076.0 2589.9L1077.0 2589.8L1078.0 2589.8L1079.0 2589.7L1080.0 2589.6L1081.0 2589.5L1082.0 2589.4L1083.0 2589.3L1084.0 2589.2L1085.0 2589.0L1086.0 2588.9L1087.0 2588.8L1088.0 2588.7L1089.0 2588.5L1090.0 2588.4L1091.0 2588.3L1092.0 2588.1L1093.0 2588.0L1094.0 2587.8L1095.0 2587.6L1096.0 2587.5L1097.0 2587.3L1098.0 2587.1L1099.0 2586.9L1100.0 2586.7L1101.0 2586.6L1102.0 2586.3L1103.0 2586.1L1104.0 2585.9L1105.0 2585.7L1106.0 2585.5L1107.0 2585.2L1108.0 2585.0L1109.0 2584.7L1110.0 2584.5L1111.0 2584.2L1112.0 2583.9L1113.0 2583.7L1114.0 2583.4L1115.0 2583.1L1116.0 2582.8L1117.0 2582.4L1118.0 2582.1L1119.0 2581.8L1120.0 2581.4L1121.0 2581.1L1122.0 2580.7L1123.0 2580.3L1124.0 2579.9L1125.0 2579.5L1126.0 2579.1L1127.0 2578.7L1128.0 2578.2L1129.0 2577.8L1130.0 2577.3L1131.0 2576.9L1132.0 2576.4L1133.0 2575.9L1134.0 2575.4L1135.0 2574.8L1136.0 2574.3L1137.0 2573.7L1138.0 2573.2L1139.0 2572.6L1140.0 2572.0L1141.0 2571.4L1142.0 2570.7L1143.0 2570.1L1144.0 2569.4L1145.0 2568.7L1146.0 2568.1L1147.0 2567.3L1148.0 2566.6L1149.0 2565.9L1150.0 2565.1L1151.0 2564.4L1152.0 2563.6L1153.0 2562.8L1154.0 2561.9L1155.0 2561.1L1156.0 2560.3L1157.0 2559.4L1158.0 2558.5L1159.0 2557.6L1160.0 2556.7L1161.0 2555.8L1162.0 2554.8L1163.0 2553.9L1164.0 2552.9L1165.0 2551.9L1166.0 2550.9L1167.0 2549.9L1168.0 2548.9L1169.0 2547.9L1170.0 2546.9L1171.0 2545.8L1172.0 2544.8L1173.0 2543.8L1174.0 2542.7L1175.0 2541.7L1176.0 2540.6L1177.0 2539.6L1178.0 2538.6L1179.0 2537.5L1180.0 2536.5L1181.0 2535.5L1182.0 2534.5L1183.0 2533.6L1184.0 2532.6L1185.0 2531.7L1186.0 2530.8L1187.0 2529.9L1188.0 2529.1L1189.0 2528.3L1190.0 2527.5L1191.0 2526.8L1192.0 2526.1L1193.0 2525.5L1194.0 2524.9L1195.0 2524.4L1196.0 2523.9L1197.0 2523.5L1198.0 2523.1L1199.0 2522.8L1200.0 2522.6L1201.0 2522.4L1202.0 2522.3L1203.0 2522.3L1204.0 2522.3L1205.0 2522.4L1206.0 2522.6L1207.0 2522.8L1208.0 2523.2L1209.0 2523.6L1210.0 2524.1L1211.0 2524.7L1212.0 2525.3L1213.0 2526.0L1214.0 2526.8L1215.0 2527.6L1216.0 2528.5L1217.0 2529.5L1218.0 2530.4L1219.0 2531.5L1220.0 2532.5L1221.0 2533.6L1222.0 2534.7L1223.0 2535.9L1224.0 2537.0L1225.0 2538.2L1226.0 2539.4L1227.0 2540.6L1228.0 2541.8L1229.0 2543.0L1230.0 2544.3L1231.0 2545.5L1232.0 2546.7L1233.0 2547.9L1234.0 2549.1L1235.0 2550.2L1236.0 2551.4L1237.0 2552.6L1238.0 2553.7L1239.0 2554.8L1240.0 2555.9L1241.0 2557.0L1242.0 2558.1L1243.0 2559.1L1244.0 2560.1L1245.0 2561.1L1246.0 2562.1L1247.0 2563.1L1248.0 2564.0L1249.0 2565.0L1250.0 2565.9L1251.0 2566.7L1252.0 2567.6L1253.0 2568.4L1254.0 2569.3L1255.0 2570.1L1256.0 2570.8L1257.0 2571.6L1258.0 2572.3L1259.0 2573.0L1260.0 2573.7L1261.0 2574.4L1262.0 2575.1L1263.0 2575.7L1264.0 2576.3L1265.0 2577.0L1266.0 2577.5L1267.0 2578.1L1268.0 2578.7L1269.0 2579.2L1270.0 2579.7L1271.0 2580.2L1272.0 2580.7L1273.0 2581.2L1274.0 2581.7L1275.0 2582.1L1276.0 2582.5L1277.0 2583.0L1278.0 2583.4L1279.0 2583.8L1280.0 2584.2L1281.0 2584.5L1282.0 2584.9L1283.0 2585.2L1284.0 2585.6L1285.0 2585.9L1286.0 2586.2L1287.0 2586.5L1288.0 2586.8L1289.0 2587.1L1290.0 2587.4L1291.0 2587.7L1292.0 2587.9L1293.0 2588.2L1294.0 2588.4L1295.0 2588.7L1296.0 2588.9L1297.0 2589.2L1298.0 2589.4L1299.0 2589.6L1300.0 2589.8L1301.0 2590.0L1302.0 2590.2L1303.0 2590.4L1304.0 2590.6L1305.0 2590.7L1306.0 2590.9L1307.0 2591.1L1308.0 2591.3L1309.0 2591.4L1310.0 2591.6L1311.0 2591.7L1312.0 2591.9L1313.0 2592.0L1314.0 2592.2L1315.0 2592.3L1316.0 2592.4L1317.0 2592.6L1318.0 2592.7L1319.0 2592.8L1320.0 2592.9L1321.0 2593.1L1322.0 2593.2L1323.0 2593.3L1324.0 2593.4L1325.0 2593.5L1326.0 2593.6L1327.0 2593.8L1328.0 2593.9L1329.0 2594.0L1330.0 2594.1L1331.0 2594.2L1332.0 2594.3L1333.0 2594.4L1334.0 2594.5L1335.0 2594.6L1336.0 2594.7L1337.0 2594.8L1338.0 2594.9L1339.0 2595.0L1340.0 2595.1L1341.0 2595.2L1342.0 2595.3L1343.0 2595.4L1344.0 2595.5L1345.0 2595.5L1346.0 2595.6L1347.0 2595.7L1348.0 2595.8L1349.0 2595.9L1350.0 2596.0L1351.0 2596.1L1352.0 2596.2L1353.0 2596.3L1354.0 2596.4L1355.0 2596.4L1356.0 2596.5L1357.0 2596.6L1358.0 2596.7L1359.0 2596.8L1360.0 2596.9L1361.0 2597.0L1362.0 2597.0L1363.0 2597.1L1364.0 2597.2L1365.0 2597.3L1366.0 2597.4L1367.0 2597.5L1368.0 2597.5L1369.0 2597.6L1370.0 2597.7L1371.0 2597.8L1372.0 2597.9L1373.0 2598.0L1374.0 2598.1L1375.0 2598.1L1376.0 2598.2L1377.0 2598.3L1378.0 2598.4L1379.0 2598.5L1380.0 2598.5L1381.0 2598.6L1382.0 2598.7L1383.0 2598.8L1384.0 2598.9L1385.0 2599.0L1386.0 2599.0L1387.0 2599.1L1388.0 2599.2L1389.0 2599.3L1390.0 2599.4L1391.0 2599.4L1392.0 2599.5L1393.0 2599.6L1394.0 2599.7L1395.0 2599.8L1396.0 2599.8L1397.0 2599.9L1398.0 2600.0L1399.0 2600.1L1400.0 2600.2L1401.0 2600.2L1402.0 2600.3L1403.0 2600.4L1404.0 2600.5L1405.0 2600.5L1406.0 2600.6L1407.0 2600.7L1408.0 2600.8L1409.0 2600.9L1410.0 2600.9L1411.0 2601.0L1412.0 2601.1L1413.0 2601.2L1414.0 2601.2L1415.0 2601.3L1416.0 2601.4L1417.0 2601.5L1418.0 2601.5L1419.0 2601.6L1420.0 2601.7L1421.0 2601.8L1422.0 2601.8L1423.0 2601.9L1424.0 2602.0L1425.0 2602.0L1426.0 2602.1L1427.0 2602.2L1428.0 2602.3L1429.0 2602.3L1430.0 2602.4L1431.0 2602.5L1432.0 2602.5L1433.0 2602.6L1434.0 2602.7L1435.0 2602.8L1436.0 2602.8L1437.0 2602.9L1438.0 2603.0L1439.0 2603.0L1440.0 2603.1L1441.0 2603.2L1442.0 2603.2L1443.0 2603.3L1444.0 2603.4L1445.0 2603.4L1446.0 2603.5L1447.0 2603.6L1448.0 2603.6L1449.0 2603.7L1450.0 2603.8L1451.0 2603.8L1452.0 2603.9L1453.0 2604.0L1454.0 2604.0L1455.0 2604.1L1456.0 2604.1L1457.0 2604.2L1458.0 2604.3L1459.0 2604.3L1460.0 2604.4L1461.0 2604.4L1462.0 2604.5L1463.0 2604.6L1464.0 2604.6L1465.0 2604.7L1466.0 2604.7L1467.0 2604.8L1468.0 2604.8L1469.0 2604.9L1470.0 2605.0L1471.0 2605.0L1472.0 2605.1L1473.0 2605.1L1474.0 2605.2L1475.0 2605.2L1476.0 2605.3L1477.0 2605.3L1478.0 2605.4L1479.0 2605.4L1480.0 2605.5L1481.0 2605.5L1482.0 2605.6L1483.0 2605.6L1484.0 2605.7L1485.0 2605.7L1486.0 2605.8L1487.0 2605.8L1488.0 2605.9L1489.0 2605.9L1490.0 2606.0L1491.0 2606.0L1492.0 2606.1L1493.0 2606.1L1494.0 2606.2L1495.0 2606.2L1496.0 2606.2L1497.0 2606.3L1498.0 2606.3L1499.0 2606.4L1500.0 2606.4L1501.0 2606.5L1502.0 2606.5L1503.0 2606.5L1504.0 2606.6L1505.0 2606.6L1506.0 2606.7L1507.0 2606.7L1508.0 2606.7L1509.0 2606.8L1510.0 2606.8L1511.0 2606.9L1512.0 2606.9L1513.0 2606.9L1514.0 2607.0L1515.0 2607.0L1516.0 2607.0L1517.0 2607.1L1518.0 2607.1L1519.0 2607.1L1520.0 2607.2L1521.0 2607.2L1522.0 2607.2L1523.0 2607.3L1524.0 2607.3L1525.0 2607.3L1526.0 2607.4L1527.0 2607.4L1528.0 2607.4L1529.0 2607.5L1530.0 2607.5L1531.0 2607.5L1532.0 2607.5L1533.0 2607.6L1534.0 2607.6L1535.0 2607.6L1536.0 2607.7L1537.0 2607.7L1538.0 2607.7L1539.0 2607.7L1540.0 2607.8L1541.0 2607.8L1542.0 2607.8L1543.0 2607.8L1544.0 2607.9L1545.0 2607.9L1546.0 2607.9L1547.0 2607.9L1548.0 2608.0L1549.0 2608.0L1550.0 2608.0L1551.0 2608.0L1552.0 2608.1L1553.0 2608.1L1554.0 2608.1L1555.0 2608.1L1556.0 2608.2L1557.0 2608.2L1558.0 2608.2L1559.0 2608.2L1560.0 2608.3L1561.0 2608.3L1562.0 2608.3L1563.0 2608.3L1564.0 2608.3L1565.0 2608.4L1566.0 2608.4L1567.0 2608.4L1568.0 2608.4L1569.0 2608.5L1570.0 2608.5L1571.0 2608.5L1572.0 2608.5L1573.0 2608.5L1574.0 2608.6L1575.0 2608.6L1576.0 2608.6L1577.0 2608.6L1578.0 2608.6L1579.0 2608.7L1580.0 2608.7L1581.0 2608.7L1582.0 2608.7L1583.0 2608.7L1584.0 2608.8L1585.0 2608.8L1586.0 2608.8L1587.0 2608.8L1588.0 2608.8L1589.0 2608.9L1590.0 2608.9L1591.0 2608.9L1592.0 2608.9L1593.0 2608.9L1594.0 2609.0L1595.0 2609.0L1596.0 2609.0L1597.0 2609.0L1598.0 2609.0L1599.0 2609.0L1600.0 2609.1L1601.0 2609.1L1602.0 2609.1L1603.0 2609.1L1604.0 2609.1L1605.0 2609.2L1606.0 2609.2L1607.0 2609.2L1608.0 2609.2L1609.0 2609.2L1610.0 2609.2L1611.0 2609.3L1612.0 2609.3L1613.0 2609.3L1614.0 2609.3L1615.0 2609.3L1616.0 2609.3L1617.0 2609.4L1618.0 2609.4L1619.0 2609.4L1620.0 2609.4L1621.0 2609.4L1622.0 2609.5L1623.0 2609.5L1624.0 2609.5L1625.0 2609.5L1626.0 2609.5L1627.0 2609.5L1628.0 2609.6L1629.0 2609.6L1630.0 2609.6L1631.0 2609.6L1632.0 2609.6L1633.0 2609.6L1634.0 2609.7L1635.0 2609.7L1636.0 2609.7L1637.0 2609.7L1638.0 2609.7L1639.0 2609.7L1640.0 2609.8L1641.0 2609.8L1642.0 2609.8L1643.0 2609.8L1644.0 2609.8L1645.0 2609.8L1646.0 2609.9L1647.0 2609.9L1648.0 2609.9L1649.0 2609.9L1650.0 2609.9L1651.0 2609.9L1652.0 2610.0L1653.0 2610.0L1654.0 2610.0L1655.0 2610.0L1656.0 2610.0L1657.0 2610.0L1658.0 2610.0L1659.0 2610.1L1660.0 2610.1L1661.0 2610.1L1662.0 2610.1L1663.0 2610.1L1664.0 2610.1L1665.0 2610.2L1666.0 2610.2L1667.0 2610.2L1668.0 2610.2L1669.0 2610.2L1670.0 2610.2L1671.0 2610.3L1672.0 2610.3L1673.0 2610.3L1674.0 2610.3L1675.0 2610.3L1676.0 2610.3L1677.0 2610.3L1678.0 2610.4L1679.0 2610.4L1680.0 2610.4L1681.0 2610.4L1682.0 2610.4L1683.0 2610.4L1684.0 2610.4L1685.0 2610.5L1686.0 2610.5L1687.0 2610.5L1688.0 2610.5L1689.0 2610.5L1690.0 2610.5L1691.0 2610.6L1692.0 2610.6L1693.0 2610.6L1694.0 2610.6L1695.0 2610.6L1696.0 2610.6L1697.0 2610.6L1698.0 2610.7L1699.0 2610.7L1700.0 2610.7L1701.0 2610.7L1702.0 2610.7L1703.0 2610.7L1704.0 2610.7L1705.0 2610.8L1706.0 2610.8L1707.0 2610.8L1708.0 2610.8L1709.0 2610.8L1710.0 2610.8L1711.0 2610.8L1712.0 2610.8L1713.0 2610.9L1714.0 2610.9L1715.0 2610.9L1716.0 2610.9L1717.0 2610.9L1718.0 2610.9L1719.0 2610.9L1720.0 2611.0L1721.0 2611.0L1722.0 2611.0L1723.0 2611.0L1724.0 2611.0L1725.0 2611.0L1726.0 2611.0L1727.0 2611.0L1728.0 2611.1L1729.0 2611.1L1730.0 2611.1L1731.0 2611.1L1732.0 2611.1L1733.0 2611.1L1734.0 2611.1L1735.0 2611.1L1736.0 2611.2L1737.0 2611.2L1738.0 2611.2L1739.0 2611.2L1740.0 2611.2L1741.0 2611.2L1742.0 2611.2L1743.0 2611.2L1744.0 2611.3L1745.0 2611.3L1746.0 2611.3L1747.0 2611.3L1748.0 2611.3L1749.0 2611.3L1750.0 2611.3L1751.0 2611.3L1752.0 2611.4L1753.0 2611.4L1754.0 2611.4L1755.0 2611.4L1756.0 2611.4L1757.0 2611.4L1758.0 2611.4L1759.0 2611.4L1760.0 2611.4L1761.0 2611.5L1762.0 2611.5L1763.0 2611.5L1764.0 2611.5L1765.0 2611.5L1766.0 2611.5L1767.0 2611.5L1768.0 2611.5L1769.0 2611.5L1770.0 2611.6L1771.0 2611.6L1772.0 2611.6L1773.0 2611.6L1774.0 2611.6L1775.0 2611.6L1776.0 2611.6L1777.0 2611.6L1778.0 2611.6L1779.0 2611.6L1780.0 2611.7L1781.0 2611.7L1782.0 2611.7L1783.0 2611.7L1784.0 2611.7L1785.0 2611.7L1786.0 2611.7L1787.0 2611.7L1788.0 2611.7L1789.0 2611.7L1790.0 2611.8L1791.0 2611.8L1792.0 2611.8L1793.0 2611.8L1794.0 2611.8L1795.0 2611.8L1796.0 2611.8L1797.0 2611.8L1798.0 2611.8L1799.0 2611.8L1800.0 2611.8L1801.0 2611.9L1802.0 2611.9L1803.0 2611.9L1804.0 2611.9L1805.0 2611.9L1806.0 2611.9L1807.0 2611.9L1808.0 2611.9L1809.0 2611.9L1810.0 2611.9L1811.0 2611.9L1812.0 2612.0L1813.0 2612.0L1814.0 2612.0L1815.0 2612.0L1816.0 2612.0L1817.0 2612.0L1818.0 2612.0L1819.0 2612.0L1820.0 2612.0L1821.0 2612.0L1822.0 2612.0L1823.0 2612.0L1824.0 2612.0L1825.0 2612.1L1826.0 2612.1L1827.0 2612.1L1828.0 2612.1L1829.0 2612.1L1830.0 2612.1L1831.0 2612.1L1832.0 2612.1L1833.0 2612.1L1834.0 2612.1L1835.0 2612.1L1836.0 2612.1L1837.0 2612.1L1838.0 2612.2L1839.0 2612.2L1840.0 2612.2L1841.0 2612.2L1842.0 2612.2L1843.0 2612.2L1844.0 2612.2L1845.0 2612.2L1846.0 2612.2L1847.0 2612.2L1848.0 2612.2L1849.0 2612.2L1850.0 2612.2L1851.0 2612.2L1852.0 2612.2L1853.0 2612.3L1854.0 2612.3L1855.0 2612.3L1856.0 2612.3L1857.0 2612.3L1858.0 2612.3L1859.0 2612.3L1860.0 2612.3L1861.0 2612.3L1862.0 2612.3L1863.0 2612.3L1864.0 2612.3L1865.0 2612.3L1866.0 2612.3L1867.0 2612.3L1868.0 2612.4L1869.0 2612.4L1870.0 2612.4L1871.0 2612.4L1872.0 2612.4L1873.0 2612.4L1874.0 2612.4L1875.0 2612.4L1876.0 2612.4L1877.0 2612.4L1878.0 2612.4L1879.0 2612.4L1880.0 2612.4L1881.0 2612.4L1882.0 2612.4L1883.0 2612.4L1884.0 2612.4L1885.0 2612.5L1886.0 2612.5L1887.0 2612.5L1888.0 2612.5L1889.0 2612.5L1890.0 2612.5L1891.0 2612.5L1892.0 2612.5L1893.0 2612.5L1894.0 2612.5L1895.0 2612.5L1896.0 2612.5L1897.0 2612.5L1898.0 2612.5L1899.0 2612.5L1900.0 2612.5L1901.0 2612.5L1902.0 2612.5L1903.0 2612.6L1904.0 2612.6L1905.0 2612.6L1906.0 2612.6L1907.0 2612.6L1908.0 2612.6L1909.0 2612.6L1910.0 2612.6L1911.0 2612.6L1912.0 2612.6L1913.0 2612.6L1914.0 2612.6L1915.0 2612.6L1916.0 2612.6L1917.0 2612.6L1918.0 2612.6L1919.0 2612.6L1920.0 2612.6L1921.0 2612.6L1922.0 2612.7L1923.0 2612.7L1924.0 2612.7L1925.0 2612.7L1926.0 2612.7L1927.0 2612.7L1928.0 2612.7L1929.0 2612.7L1930.0 2612.7L1931.0 2612.7L1932.0 2612.7L1933.0 2612.7L1934.0 2612.7L1935.0 2612.7L1936.0 2612.7L1937.0 2612.7L1938.0 2612.7L1939.0 2612.7L1940.0 2612.7L1941.0 2612.7L1942.0 2612.7L1943.0 2612.8L1944.0 2612.8L1945.0 2612.8L1946.0 2612.8L1947.0 2612.8L1948.0 2612.8L1949.0 2612.8L1950.0 2612.8L1951.0 2612.8L1952.0 2612.8L1953.0 2612.8L1954.0 2612.8L1955.0 2612.8L1956.0 2612.8L1957.0 2612.8L1958.0 2612.8L1959.0 2612.8L1960.0 2612.8L1961.0 2612.8L1962.0 2612.8L1963.0 2612.8L1964.0 2612.8L1965.0 2612.9L1966.0 2612.9" fill="none" stroke="#ff00ff" stroke-width="2.00" stroke-linejoin="round" stroke-linecap="butt" shape-rendering="crispEdges"/>
</svg>
</body></html>
